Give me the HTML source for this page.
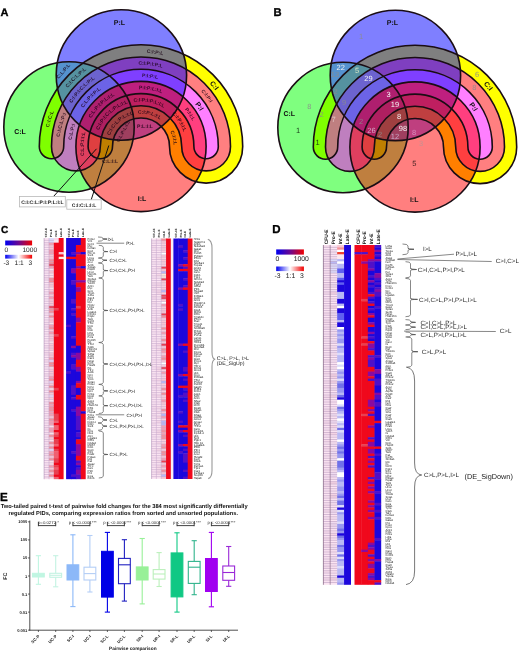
<!DOCTYPE html>
<html><head><meta charset="utf-8"><style>
html,body{margin:0;padding:0;background:#fff;}
svg{display:block;font-family:"Liberation Sans",Arial,sans-serif;text-rendering:geometricPrecision;}
</style></head><body>
<svg width="520" height="654" viewBox="0 0 520 654">
<rect width="520" height="654" fill="#fff"/>
<path d="M39.30 146.50 A101.70 101.70 0 0 1 242.70 146.50 A36.60 36.60 0 0 1 169.50 146.50 A28.50 28.50 0 0 0 112.50 146.50 A12.20 12.20 0 0 1 88.10 146.50 A52.90 52.90 0 0 1 193.90 146.50 A12.20 12.20 0 0 0 218.30 146.50 A77.30 77.30 0 0 0 63.70 146.50 A12.20 12.20 0 0 1 39.30 146.50 Z" fill="#ffff00"/>
<circle cx="69.00" cy="127.00" r="65.20" fill="rgba(0,255,0,0.5)"/>
<path d="M51.50 146.50 A89.50 89.50 0 0 1 230.50 146.50 A24.40 24.40 0 0 1 181.70 146.50 A40.70 40.70 0 0 0 100.30 146.50 A24.40 24.40 0 0 1 51.50 146.50 Z" fill="rgba(255,0,255,0.5)"/>
<circle cx="121.40" cy="75.00" r="65.20" fill="rgba(0,0,255,0.5)"/>
<circle cx="141.00" cy="146.50" r="65.10" fill="rgba(255,0,0,0.5)"/>
<mask id="m0" maskUnits="userSpaceOnUse" x="0" y="0" width="520" height="230"><circle cx="121.40" cy="75.00" r="65.2" fill="#fff"/><circle cx="141.00" cy="146.50" r="65.10" fill="#000"/></mask>
<g mask="url(#m0)" opacity="0.25"><circle cx="69.00" cy="127.00" r="65.2" fill="rgb(150,205,255)"/></g>
<path d="M39.30 146.50 A101.70 101.70 0 0 1 242.70 146.50 A36.60 36.60 0 0 1 169.50 146.50 A28.50 28.50 0 0 0 112.50 146.50 A12.20 12.20 0 0 1 88.10 146.50 A52.90 52.90 0 0 1 193.90 146.50 A12.20 12.20 0 0 0 218.30 146.50 A77.30 77.30 0 0 0 63.70 146.50 A12.20 12.20 0 0 1 39.30 146.50 Z" fill="none" stroke="#1a0d14" stroke-width="1.6"/>
<circle cx="69.00" cy="127.00" r="65.20" fill="none" stroke="#1a0d14" stroke-width="1.6"/>
<path d="M51.50 146.50 A89.50 89.50 0 0 1 230.50 146.50 A24.40 24.40 0 0 1 181.70 146.50 A40.70 40.70 0 0 0 100.30 146.50 A24.40 24.40 0 0 1 51.50 146.50 Z" fill="none" stroke="#1a0d14" stroke-width="1.6"/>
<circle cx="121.40" cy="75.00" r="65.20" fill="none" stroke="#1a0d14" stroke-width="1.6"/>
<circle cx="141.00" cy="146.50" r="65.10" fill="none" stroke="#1a0d14" stroke-width="1.6"/>
<path id="bp0_0" d="M45.40 176.50 L45.40 146.50 A95.60 95.60 0 0 1 236.60 146.50 L236.60 176.50" fill="none"/>
<text font-size="5.0" fill="rgba(25,0,20,0.82)" text-anchor="middle" dy="1.75" font-weight="bold"><textPath href="#bp0_0" startOffset="194.18">C:I:P:L</textPath></text>
<path id="bp0_1" d="M57.60 176.50 L57.60 146.50 A83.40 83.40 0 0 1 224.40 146.50 L224.40 176.50" fill="none"/>
<text font-size="5.0" fill="rgba(25,0,20,0.82)" text-anchor="middle" dy="1.75" font-weight="bold"><textPath href="#bp0_1" startOffset="170.47">C:I:P:I:P:L</textPath></text>
<path id="bp0_2" d="M69.80 176.50 L69.80 146.50 A71.20 71.20 0 0 1 212.20 146.50 L212.20 176.50" fill="none"/>
<text font-size="5.0" fill="rgba(25,0,20,0.82)" text-anchor="middle" dy="1.75" font-weight="bold"><textPath href="#bp0_2" startOffset="150.79">P:I:P:L</textPath></text>
<path id="bp0_3" d="M82.00 176.50 L82.00 146.50 A59.00 59.00 0 0 1 200.00 146.50 L200.00 176.50" fill="none"/>
<text font-size="5.0" fill="rgba(25,0,20,0.82)" text-anchor="middle" dy="1.75" font-weight="bold"><textPath href="#bp0_3" startOffset="132.56">P:I:P:L:I:L</textPath></text>
<path id="bp0_4" d="M94.20 176.50 L94.20 146.50 A46.80 46.80 0 0 1 187.80 146.50 L187.80 176.50" fill="none"/>
<text font-size="5.0" fill="rgba(25,0,20,0.82)" text-anchor="middle" dy="1.75" font-weight="bold"><textPath href="#bp0_4" startOffset="112.01">C:I:P:I:P:L:I:L</textPath></text>
<path id="bp0_5" d="M106.40 176.50 L106.40 146.50 A34.60 34.60 0 0 1 175.60 146.50 L175.60 176.50" fill="none"/>
<text font-size="5.0" fill="rgba(25,0,20,0.82)" text-anchor="middle" dy="1.75" font-weight="bold"><textPath href="#bp0_5" startOffset="93.41">C:I:P:L:I:L</textPath></text>
<path id="bp0_6" d="M45.40 176.50 L45.40 146.50 A95.60 95.60 0 0 1 236.60 146.50 L236.60 176.50" fill="none"/>
<text font-size="7" fill="#111" text-anchor="middle" dy="2.45" font-weight="bold"><textPath href="#bp0_6" startOffset="263.59">C:I</textPath></text>
<path id="bp0_7" d="M57.60 176.50 L57.60 146.50 A83.40 83.40 0 0 1 224.40 146.50 L224.40 176.50" fill="none"/>
<text font-size="5.0" fill="rgba(25,0,20,0.82)" text-anchor="middle" dy="1.75" font-weight="bold"><textPath href="#bp0_7" startOffset="236.99">C:I:P:I</textPath></text>
<path id="bp0_8" d="M69.80 176.50 L69.80 146.50 A71.20 71.20 0 0 1 212.20 146.50 L212.20 176.50" fill="none"/>
<text font-size="7" fill="#111" text-anchor="middle" dy="2.45" font-weight="bold"><textPath href="#bp0_8" startOffset="210.56">P:I</textPath></text>
<path id="bp0_9" d="M82.00 176.50 L82.00 146.50 A59.00 59.00 0 0 1 200.00 146.50 L200.00 176.50" fill="none"/>
<text font-size="5.0" fill="rgba(25,0,20,0.82)" text-anchor="middle" dy="1.75" font-weight="bold"><textPath href="#bp0_9" startOffset="180.75">P:I:I:L</textPath></text>
<path id="bp0_10" d="M94.20 176.50 L94.20 146.50 A46.80 46.80 0 0 1 187.80 146.50 L187.80 176.50" fill="none"/>
<text font-size="5.0" fill="rgba(25,0,20,0.82)" text-anchor="middle" dy="1.75" font-weight="bold"><textPath href="#bp0_10" startOffset="150.07">C:I:P:I:I:L</textPath></text>
<path id="bp0_11" d="M106.40 176.50 L106.40 146.50 A34.60 34.60 0 0 1 175.60 146.50 L175.60 176.50" fill="none"/>
<text font-size="5.0" fill="rgba(25,0,20,0.82)" text-anchor="middle" dy="1.75" font-weight="bold"><textPath href="#bp0_11" startOffset="129.64">C:I:I:L</textPath></text>
<path id="bp0_12" d="M45.40 176.50 L45.40 146.50 A95.60 95.60 0 0 1 236.60 146.50 L236.60 176.50" fill="none"/>
<text font-size="5.0" fill="rgba(25,0,20,0.82)" text-anchor="middle" dy="1.75" font-weight="bold"><textPath href="#bp0_12" startOffset="58.03">C:I:C:L</textPath></text>
<path id="bp0_13" d="M57.60 176.50 L57.60 146.50 A83.40 83.40 0 0 1 224.40 146.50 L224.40 176.50" fill="none"/>
<text font-size="5.0" fill="rgba(25,0,20,0.82)" text-anchor="middle" dy="1.75" font-weight="bold"><textPath href="#bp0_13" startOffset="52.13">C:I:C:L:P:I</textPath></text>
<path id="bp0_14" d="M69.80 176.50 L69.80 146.50 A71.20 71.20 0 0 1 212.20 146.50 L212.20 176.50" fill="none"/>
<text font-size="5.0" fill="rgba(25,0,20,0.82)" text-anchor="middle" dy="1.75" font-weight="bold"><textPath href="#bp0_14" startOffset="44.91">C:L:P:I</textPath></text>
<path id="bp0_15" d="M82.00 176.50 L82.00 146.50 A59.00 59.00 0 0 1 200.00 146.50 L200.00 176.50" fill="none"/>
<text font-size="5.0" fill="rgba(25,0,20,0.82)" text-anchor="middle" dy="1.75" font-weight="bold"><textPath href="#bp0_15" startOffset="32.68">C:L:P:I:I:L</textPath></text>
<path id="bp0_16" d="M45.40 176.50 L45.40 146.50 A95.60 95.60 0 0 1 236.60 146.50 L236.60 176.50" fill="none"/>
<text font-size="5.0" fill="rgba(25,0,20,0.82)" text-anchor="middle" dy="1.75" font-weight="bold"><textPath href="#bp0_16" startOffset="107.59">C:I:C:L:P:L</textPath></text>
<path id="bp0_17" d="M57.60 176.50 L57.60 146.50 A83.40 83.40 0 0 1 224.40 146.50 L224.40 176.50" fill="none"/>
<text font-size="5.0" fill="rgba(25,0,20,0.82)" text-anchor="middle" dy="1.75" font-weight="bold"><textPath href="#bp0_17" startOffset="93.76">C:I:P:I:C:L:P:L</textPath></text>
<path id="bp0_18" d="M69.80 176.50 L69.80 146.50 A71.20 71.20 0 0 1 212.20 146.50 L212.20 176.50" fill="none"/>
<text font-size="5.0" fill="rgba(25,0,20,0.82)" text-anchor="middle" dy="1.75" font-weight="bold"><textPath href="#bp0_18" startOffset="84.93">C:L:P:I:P:L</textPath></text>
<path id="bp0_19" d="M82.00 176.50 L82.00 146.50 A59.00 59.00 0 0 1 200.00 146.50 L200.00 176.50" fill="none"/>
<text font-size="5.0" fill="rgba(25,0,20,0.82)" text-anchor="middle" dy="1.75" font-weight="bold"><textPath href="#bp0_19" startOffset="77.37">C:L:P:I:P:L:I:L</textPath></text>
<path id="bp0_20" d="M94.20 176.50 L94.20 146.50 A46.80 46.80 0 0 1 187.80 146.50 L187.80 176.50" fill="none"/>
<text font-size="5.0" fill="rgba(25,0,20,0.82)" text-anchor="middle" dy="1.75" font-weight="bold"><textPath href="#bp0_20" startOffset="68.39">C:I:P:I:C:L:P:L:I:L</textPath></text>
<path id="bp0_21" d="M106.40 176.50 L106.40 146.50 A34.60 34.60 0 0 1 175.60 146.50 L175.60 176.50" fill="none"/>
<text font-size="5.0" fill="rgba(25,0,20,0.82)" text-anchor="middle" dy="1.75" font-weight="bold"><textPath href="#bp0_21" startOffset="58.99">C:I:C:L:P:L:I:L</textPath></text>
<text x="119.5" y="25" font-size="7" fill="#111" text-anchor="middle" font-weight="bold">P:L</text>
<text x="20" y="134" font-size="7" fill="#111" text-anchor="middle" font-weight="bold">C:L</text>
<text x="142" y="200.5" font-size="7" fill="#111" text-anchor="middle" font-weight="bold">I:L</text>
<text x="64.6" y="72.2" font-size="5.0" fill="rgba(25,0,20,0.82)" text-anchor="middle" font-weight="bold" transform="rotate(-50 64.6 72.2)">C:L:P:L</text>
<text x="145" y="128.3" font-size="5.0" fill="rgba(25,0,20,0.82)" text-anchor="middle" font-weight="bold">P:L:I:L</text>
<text x="124.5" y="132" font-size="4.6" fill="rgba(25,0,20,0.82)" text-anchor="middle" font-weight="bold" transform="rotate(-62 124.5 132)">C:L:P:L:I:L</text>
<text x="110" y="162.5" font-size="5.0" fill="rgba(25,0,20,0.82)" text-anchor="middle" font-weight="bold">C:L:I:L</text>
<line x1="53.5" y1="196.5" x2="96.5" y2="148.8" stroke="#111" stroke-width="1"/>
<line x1="91.2" y1="199.8" x2="108.8" y2="145.5" stroke="#111" stroke-width="1"/>
<rect x="19.5" y="196.5" width="45.8" height="10.4" fill="#fff" stroke="#b8b8b8" stroke-width="0.8"/>
<text x="42.4" y="203.8" font-size="5" text-anchor="middle" fill="#222" font-weight="bold">C:I:C:L:P:I:P:L:I:L</text>
<rect x="66.8" y="199.8" width="34.4" height="9.4" fill="#fff" stroke="#b8b8b8" stroke-width="0.8"/>
<text x="84" y="206.6" font-size="5" text-anchor="middle" fill="#222" font-weight="bold">C:I:C:L:I:L</text>
<path d="M313.30 147.00 A101.70 101.70 0 0 1 516.70 147.00 A36.60 36.60 0 0 1 443.50 147.00 A28.50 28.50 0 0 0 386.50 147.00 A12.20 12.20 0 0 1 362.10 147.00 A52.90 52.90 0 0 1 467.90 147.00 A12.20 12.20 0 0 0 492.30 147.00 A77.30 77.30 0 0 0 337.70 147.00 A12.20 12.20 0 0 1 313.30 147.00 Z" fill="#ffff00"/>
<circle cx="343.00" cy="127.50" r="65.20" fill="rgba(0,255,0,0.5)"/>
<path d="M325.50 147.00 A89.50 89.50 0 0 1 504.50 147.00 A24.40 24.40 0 0 1 455.70 147.00 A40.70 40.70 0 0 0 374.30 147.00 A24.40 24.40 0 0 1 325.50 147.00 Z" fill="rgba(255,0,255,0.5)"/>
<circle cx="395.40" cy="75.50" r="65.20" fill="rgba(0,0,255,0.5)"/>
<circle cx="415.00" cy="147.00" r="65.10" fill="rgba(255,0,0,0.5)"/>
<mask id="m274" maskUnits="userSpaceOnUse" x="0" y="0" width="520" height="230"><circle cx="395.40" cy="75.50" r="65.2" fill="#fff"/><circle cx="415.00" cy="147.00" r="65.10" fill="#000"/></mask>
<g mask="url(#m274)" opacity="0.25"><circle cx="343.00" cy="127.50" r="65.2" fill="rgb(150,205,255)"/></g>
<path d="M313.30 147.00 A101.70 101.70 0 0 1 516.70 147.00 A36.60 36.60 0 0 1 443.50 147.00 A28.50 28.50 0 0 0 386.50 147.00 A12.20 12.20 0 0 1 362.10 147.00 A52.90 52.90 0 0 1 467.90 147.00 A12.20 12.20 0 0 0 492.30 147.00 A77.30 77.30 0 0 0 337.70 147.00 A12.20 12.20 0 0 1 313.30 147.00 Z" fill="none" stroke="#1a0d14" stroke-width="1.6"/>
<circle cx="343.00" cy="127.50" r="65.20" fill="none" stroke="#1a0d14" stroke-width="1.6"/>
<path d="M325.50 147.00 A89.50 89.50 0 0 1 504.50 147.00 A24.40 24.40 0 0 1 455.70 147.00 A40.70 40.70 0 0 0 374.30 147.00 A24.40 24.40 0 0 1 325.50 147.00 Z" fill="none" stroke="#1a0d14" stroke-width="1.6"/>
<circle cx="395.40" cy="75.50" r="65.20" fill="none" stroke="#1a0d14" stroke-width="1.6"/>
<circle cx="415.00" cy="147.00" r="65.10" fill="none" stroke="#1a0d14" stroke-width="1.6"/>
<path id="bp274_0" d="M319.40 177.00 L319.40 147.00 A95.60 95.60 0 0 1 510.60 147.00 L510.60 177.00" fill="none"/>
<text font-size="7" fill="#111" text-anchor="middle" dy="2.45" font-weight="bold"><textPath href="#bp274_0" startOffset="263.59">C:I</textPath></text>
<path id="bp274_1" d="M343.80 177.00 L343.80 147.00 A71.20 71.20 0 0 1 486.20 147.00 L486.20 177.00" fill="none"/>
<text font-size="7" fill="#111" text-anchor="middle" dy="2.45" font-weight="bold"><textPath href="#bp274_1" startOffset="210.56">P:I</textPath></text>
<text x="392.5" y="24.7" font-size="7" fill="#111" text-anchor="middle" font-weight="bold">P:L</text>
<text x="289.3" y="115.9" font-size="7" fill="#111" text-anchor="middle" font-weight="bold">C:L</text>
<text x="414.2" y="202.3" font-size="7" fill="#111" text-anchor="middle" font-weight="bold">I:L</text>
<text x="361" y="38.5" font-size="7.5" fill="rgba(140,140,140,0.9)" text-anchor="middle">1</text>
<text x="340.7" y="69.7" font-size="7.5" fill="#f4f4f4" text-anchor="middle">22</text>
<text x="335" y="76.7" font-size="7.5" fill="rgba(140,140,140,0.9)" text-anchor="middle">13</text>
<text x="357" y="72.7" font-size="7.5" fill="#d8e8c8" text-anchor="middle">5</text>
<text x="368.5" y="80.7" font-size="7.5" fill="#f4f4f4" text-anchor="middle">29</text>
<text x="335.5" y="93.7" font-size="7.5" fill="rgba(140,140,140,0.9)" text-anchor="middle">2</text>
<text x="344" y="104.5" font-size="7.5" fill="rgba(140,140,140,0.9)" text-anchor="middle">9</text>
<text x="388.5" y="96.7" font-size="7.5" fill="#f4f4f4" text-anchor="middle">3</text>
<text x="395" y="107.0" font-size="7.5" fill="#f4f4f4" text-anchor="middle">19</text>
<text x="399" y="119.0" font-size="7.5" fill="#f4f4f4" text-anchor="middle">8</text>
<text x="403" y="130.5" font-size="7.5" fill="#f4f4f4" text-anchor="middle">98</text>
<text x="309.3" y="108.7" font-size="7.5" fill="rgba(140,140,140,0.9)" text-anchor="middle">8</text>
<text x="321.7" y="117.2" font-size="7.5" fill="rgba(140,140,140,0.9)" text-anchor="middle">2</text>
<text x="333.5" y="122.2" font-size="7.5" fill="#e0c0c0" text-anchor="middle">7</text>
<text x="298" y="133.4" font-size="7.5" fill="#1a3a1a" text-anchor="middle">1</text>
<text x="317.7" y="144.7" font-size="7.5" fill="#1a3a1a" text-anchor="middle">1</text>
<text x="361" y="124.0" font-size="7.5" fill="rgba(140,140,140,0.9)" text-anchor="middle">2</text>
<text x="371.5" y="132.5" font-size="7.5" fill="#d8a8c8" text-anchor="middle">26</text>
<text x="380" y="137.0" font-size="7.5" fill="rgba(140,140,140,0.9)" text-anchor="middle">2</text>
<text x="395" y="139.0" font-size="7.5" fill="#c8a8c8" text-anchor="middle">12</text>
<text x="414" y="134.5" font-size="7.5" fill="#d890c0" text-anchor="middle">8</text>
<text x="421" y="145.5" font-size="7.5" fill="#c89090" text-anchor="middle">3</text>
<text x="414.4" y="166.0" font-size="7.5" fill="#402020" text-anchor="middle">5</text>
<text x="477.2" y="76.7" font-size="7.5" fill="rgba(140,140,140,0.9)" text-anchor="middle">6</text>
<text x="474.3" y="90.0" font-size="7.5" fill="rgba(140,140,140,0.9)" text-anchor="middle">8</text>
<text x="0.6" y="15.6" font-size="11" font-weight="bold" stroke="#000" stroke-width="0.35">A</text>
<text x="273.5" y="15.8" font-size="11.2" font-weight="bold" stroke="#000" stroke-width="0.35">B</text>
<rect x="44.00" y="238.00" width="5.30" height="5.08" fill="#fbe4f2"/>
<rect x="44.00" y="242.68" width="5.30" height="2.74" fill="#f6dcec"/>
<rect x="44.00" y="245.03" width="5.30" height="14.45" fill="#fbe4f2"/>
<rect x="44.00" y="259.08" width="5.30" height="2.74" fill="#f6dcec"/>
<rect x="44.00" y="261.42" width="5.30" height="7.43" fill="#fbe4f2"/>
<rect x="44.00" y="268.44" width="5.30" height="2.74" fill="#f6dcec"/>
<rect x="44.00" y="270.78" width="5.30" height="5.08" fill="#fbe4f2"/>
<rect x="44.00" y="275.47" width="5.30" height="5.08" fill="#f6dcec"/>
<rect x="44.00" y="280.15" width="5.30" height="26.16" fill="#fbe4f2"/>
<rect x="44.00" y="305.91" width="5.30" height="2.74" fill="#f6dcec"/>
<rect x="44.00" y="308.25" width="5.30" height="14.45" fill="#fbe4f2"/>
<rect x="44.00" y="322.30" width="5.30" height="7.43" fill="#f6dcec"/>
<rect x="44.00" y="329.33" width="5.30" height="16.79" fill="#fbe4f2"/>
<rect x="44.00" y="345.72" width="5.30" height="2.74" fill="#f6dcec"/>
<rect x="44.00" y="348.06" width="5.30" height="2.74" fill="#fbe4f2"/>
<rect x="44.00" y="350.40" width="5.30" height="5.08" fill="#f6dcec"/>
<rect x="44.00" y="355.09" width="5.30" height="5.08" fill="#fbe4f2"/>
<rect x="44.00" y="359.77" width="5.30" height="2.74" fill="#f6dcec"/>
<rect x="44.00" y="362.11" width="5.30" height="2.74" fill="#fbe4f2"/>
<rect x="44.00" y="364.45" width="5.30" height="2.74" fill="#f6dcec"/>
<rect x="44.00" y="366.80" width="5.30" height="7.43" fill="#fbe4f2"/>
<rect x="44.00" y="373.82" width="5.30" height="2.74" fill="#f6dcec"/>
<rect x="44.00" y="376.16" width="5.30" height="7.43" fill="#fbe4f2"/>
<rect x="44.00" y="383.19" width="5.30" height="2.74" fill="#f6dcec"/>
<rect x="44.00" y="385.53" width="5.30" height="12.11" fill="#fbe4f2"/>
<rect x="44.00" y="397.24" width="5.30" height="2.74" fill="#f6dcec"/>
<rect x="44.00" y="399.58" width="5.30" height="26.16" fill="#fbe4f2"/>
<rect x="44.00" y="425.34" width="5.30" height="5.08" fill="#f6dcec"/>
<rect x="44.00" y="430.02" width="5.30" height="2.74" fill="#fbe4f2"/>
<rect x="44.00" y="432.37" width="5.30" height="2.74" fill="#f6dcec"/>
<rect x="44.00" y="434.71" width="5.30" height="5.08" fill="#fbe4f2"/>
<rect x="44.00" y="439.39" width="5.30" height="2.74" fill="#f6dcec"/>
<rect x="44.00" y="441.73" width="5.30" height="5.08" fill="#fbe4f2"/>
<rect x="44.00" y="446.42" width="5.30" height="2.74" fill="#f6dcec"/>
<rect x="44.00" y="448.76" width="5.30" height="5.08" fill="#fbe4f2"/>
<rect x="44.00" y="453.44" width="5.30" height="2.74" fill="#f6dcec"/>
<rect x="44.00" y="455.78" width="5.30" height="21.48" fill="#fbe4f2"/>
<rect x="44.00" y="476.86" width="5.30" height="2.34" fill="#f6dcec"/>
<rect x="48.90" y="238.00" width="5.30" height="5.08" fill="#dcdcfa"/>
<rect x="48.90" y="242.68" width="5.30" height="2.74" fill="#f4a0b0"/>
<rect x="48.90" y="245.03" width="5.30" height="5.08" fill="#f8c8d4"/>
<rect x="48.90" y="249.71" width="5.30" height="5.08" fill="#f4a0b0"/>
<rect x="48.90" y="254.39" width="5.30" height="5.08" fill="#f8c8d4"/>
<rect x="48.90" y="259.08" width="5.30" height="5.08" fill="#f29098"/>
<rect x="48.90" y="263.76" width="5.30" height="2.74" fill="#e84050"/>
<rect x="48.90" y="266.10" width="5.30" height="2.74" fill="#f4a0b0"/>
<rect x="48.90" y="268.44" width="5.30" height="2.74" fill="#fbe0e8"/>
<rect x="48.90" y="270.78" width="5.30" height="2.74" fill="#f8c8d4"/>
<rect x="48.90" y="273.13" width="5.30" height="5.08" fill="#fbe0e8"/>
<rect x="48.90" y="277.81" width="5.30" height="5.08" fill="#f29098"/>
<rect x="48.90" y="282.49" width="5.30" height="5.08" fill="#f8c8d4"/>
<rect x="48.90" y="287.18" width="5.30" height="2.74" fill="#fbe0e8"/>
<rect x="48.90" y="289.52" width="5.30" height="2.74" fill="#f8c8d4"/>
<rect x="48.90" y="291.86" width="5.30" height="2.74" fill="#f4a0b0"/>
<rect x="48.90" y="294.20" width="5.30" height="2.74" fill="#f8c8d4"/>
<rect x="48.90" y="296.54" width="5.30" height="2.74" fill="#f4a0b0"/>
<rect x="48.90" y="298.89" width="5.30" height="7.43" fill="#f8c8d4"/>
<rect x="48.90" y="305.91" width="5.30" height="2.74" fill="#e84050"/>
<rect x="48.90" y="308.25" width="5.30" height="5.08" fill="#f29098"/>
<rect x="48.90" y="312.94" width="5.30" height="2.74" fill="#f8c8d4"/>
<rect x="48.90" y="315.28" width="5.30" height="2.74" fill="#f29098"/>
<rect x="48.90" y="317.62" width="5.30" height="5.08" fill="#f8c8d4"/>
<rect x="48.90" y="322.30" width="5.30" height="2.74" fill="#fbe0e8"/>
<rect x="48.90" y="324.64" width="5.30" height="2.74" fill="#f4a0b0"/>
<rect x="48.90" y="326.99" width="5.30" height="2.74" fill="#f29098"/>
<rect x="48.90" y="329.33" width="5.30" height="2.74" fill="#f8c8d4"/>
<rect x="48.90" y="331.67" width="5.30" height="2.74" fill="#f4a0b0"/>
<rect x="48.90" y="334.01" width="5.30" height="7.43" fill="#f8c8d4"/>
<rect x="48.90" y="341.04" width="5.30" height="2.74" fill="#fbe0e8"/>
<rect x="48.90" y="343.38" width="5.30" height="7.43" fill="#f8c8d4"/>
<rect x="48.90" y="350.40" width="5.30" height="2.74" fill="#fbe0e8"/>
<rect x="48.90" y="352.75" width="5.30" height="5.08" fill="#f8c8d4"/>
<rect x="48.90" y="357.43" width="5.30" height="2.74" fill="#f4a0b0"/>
<rect x="48.90" y="359.77" width="5.30" height="2.74" fill="#e8d8f4"/>
<rect x="48.90" y="362.11" width="5.30" height="5.08" fill="#f29098"/>
<rect x="48.90" y="366.80" width="5.30" height="2.74" fill="#fbe0e8"/>
<rect x="48.90" y="369.14" width="5.30" height="7.43" fill="#f8c8d4"/>
<rect x="48.90" y="376.16" width="5.30" height="2.74" fill="#f4a0b0"/>
<rect x="48.90" y="378.50" width="5.30" height="2.74" fill="#f29098"/>
<rect x="48.90" y="380.85" width="5.30" height="2.74" fill="#e8d8f4"/>
<rect x="48.90" y="383.19" width="5.30" height="2.74" fill="#f8c8d4"/>
<rect x="48.90" y="385.53" width="5.30" height="2.74" fill="#f29098"/>
<rect x="48.90" y="387.87" width="5.30" height="2.74" fill="#fbe0e8"/>
<rect x="48.90" y="390.21" width="5.30" height="2.74" fill="#f29098"/>
<rect x="48.90" y="392.56" width="5.30" height="2.74" fill="#f8c8d4"/>
<rect x="48.90" y="394.90" width="5.30" height="2.74" fill="#e8d8f4"/>
<rect x="48.90" y="397.24" width="5.30" height="2.74" fill="#f8c8d4"/>
<rect x="48.90" y="399.58" width="5.30" height="2.74" fill="#fbe0e8"/>
<rect x="48.90" y="401.92" width="5.30" height="2.74" fill="#f29098"/>
<rect x="48.90" y="404.26" width="5.30" height="2.74" fill="#f4a0b0"/>
<rect x="48.90" y="406.61" width="5.30" height="5.08" fill="#f29098"/>
<rect x="48.90" y="411.29" width="5.30" height="5.08" fill="#f4a0b0"/>
<rect x="48.90" y="415.97" width="5.30" height="2.74" fill="#f8c8d4"/>
<rect x="48.90" y="418.31" width="5.30" height="2.74" fill="#f29098"/>
<rect x="48.90" y="420.66" width="5.30" height="5.08" fill="#f4a0b0"/>
<rect x="48.90" y="425.34" width="5.30" height="2.74" fill="#fbe0e8"/>
<rect x="48.90" y="427.68" width="5.30" height="5.08" fill="#f4a0b0"/>
<rect x="48.90" y="432.37" width="5.30" height="2.74" fill="#fbe0e8"/>
<rect x="48.90" y="434.71" width="5.30" height="2.74" fill="#f29098"/>
<rect x="48.90" y="437.05" width="5.30" height="2.74" fill="#f8c8d4"/>
<rect x="48.90" y="439.39" width="5.30" height="2.74" fill="#fbe0e8"/>
<rect x="48.90" y="441.73" width="5.30" height="2.74" fill="#f29098"/>
<rect x="48.90" y="444.07" width="5.30" height="2.74" fill="#f8c8d4"/>
<rect x="48.90" y="446.42" width="5.30" height="2.74" fill="#f29098"/>
<rect x="48.90" y="448.76" width="5.30" height="2.74" fill="#e8d8f4"/>
<rect x="48.90" y="451.10" width="5.30" height="2.74" fill="#f4a0b0"/>
<rect x="48.90" y="453.44" width="5.30" height="2.74" fill="#f29098"/>
<rect x="48.90" y="455.78" width="5.30" height="2.74" fill="#f8c8d4"/>
<rect x="48.90" y="458.12" width="5.30" height="2.74" fill="#f29098"/>
<rect x="48.90" y="460.47" width="5.30" height="5.08" fill="#fbe0e8"/>
<rect x="48.90" y="465.15" width="5.30" height="2.74" fill="#f4a0b0"/>
<rect x="48.90" y="467.49" width="5.30" height="2.74" fill="#f8c8d4"/>
<rect x="48.90" y="469.83" width="5.30" height="2.74" fill="#f29098"/>
<rect x="48.90" y="472.17" width="5.30" height="2.74" fill="#f8c8d4"/>
<rect x="48.90" y="474.52" width="5.30" height="2.74" fill="#f29098"/>
<rect x="48.90" y="476.86" width="5.30" height="2.34" fill="#fbe0e8"/>
<rect x="53.80" y="238.00" width="5.30" height="2.74" fill="#f8d8e8"/>
<rect x="53.80" y="240.34" width="5.30" height="2.74" fill="#fbe8f0"/>
<rect x="53.80" y="242.68" width="5.30" height="65.97" fill="#f0081c"/>
<rect x="53.80" y="308.25" width="5.30" height="2.74" fill="#e84050"/>
<rect x="53.80" y="310.59" width="5.30" height="23.82" fill="#f0081c"/>
<rect x="53.80" y="334.01" width="5.30" height="2.74" fill="#e84050"/>
<rect x="53.80" y="336.35" width="5.30" height="51.92" fill="#f0081c"/>
<rect x="53.80" y="387.87" width="5.30" height="2.74" fill="#e84050"/>
<rect x="53.80" y="390.21" width="5.30" height="23.82" fill="#f0081c"/>
<rect x="53.80" y="413.63" width="5.30" height="7.43" fill="#e84050"/>
<rect x="53.80" y="420.66" width="5.30" height="2.74" fill="#f06070"/>
<rect x="53.80" y="423.00" width="5.30" height="2.74" fill="#f0081c"/>
<rect x="53.80" y="425.34" width="5.30" height="5.08" fill="#f06070"/>
<rect x="53.80" y="430.02" width="5.30" height="2.74" fill="#f0081c"/>
<rect x="53.80" y="432.37" width="5.30" height="2.74" fill="#f06070"/>
<rect x="53.80" y="434.71" width="5.30" height="2.74" fill="#e84050"/>
<rect x="53.80" y="437.05" width="5.30" height="2.74" fill="#f0081c"/>
<rect x="53.80" y="439.39" width="5.30" height="5.08" fill="#e84050"/>
<rect x="53.80" y="444.07" width="5.30" height="2.74" fill="#f06070"/>
<rect x="53.80" y="446.42" width="5.30" height="2.74" fill="#f0081c"/>
<rect x="53.80" y="448.76" width="5.30" height="2.74" fill="#e84050"/>
<rect x="53.80" y="451.10" width="5.30" height="7.43" fill="#f06070"/>
<rect x="53.80" y="458.12" width="5.30" height="5.08" fill="#e84050"/>
<rect x="53.80" y="462.81" width="5.30" height="2.74" fill="#f0081c"/>
<rect x="53.80" y="465.15" width="5.30" height="2.74" fill="#e84050"/>
<rect x="53.80" y="467.49" width="5.30" height="2.74" fill="#f06070"/>
<rect x="53.80" y="469.83" width="5.30" height="5.08" fill="#e84050"/>
<rect x="53.80" y="474.52" width="5.30" height="2.74" fill="#f0081c"/>
<rect x="53.80" y="476.86" width="5.30" height="2.34" fill="#f06070"/>
<rect x="58.70" y="238.00" width="4.90" height="14.45" fill="#f0081c"/>
<rect x="58.70" y="252.05" width="4.90" height="2.74" fill="#f8c8d4"/>
<rect x="58.70" y="254.39" width="4.90" height="2.74" fill="#f0081c"/>
<rect x="58.70" y="256.73" width="4.90" height="2.74" fill="#fff0e0"/>
<rect x="58.70" y="259.08" width="4.90" height="220.12" fill="#f0081c"/>
<line x1="44.00" y1="240.34" x2="48.90" y2="240.34" stroke="#c0a4c8" stroke-width="0.55"/>
<line x1="44.00" y1="242.68" x2="48.90" y2="242.68" stroke="#c0a4c8" stroke-width="0.55"/>
<line x1="44.00" y1="245.03" x2="48.90" y2="245.03" stroke="#c0a4c8" stroke-width="0.55"/>
<line x1="44.00" y1="247.37" x2="48.90" y2="247.37" stroke="#c0a4c8" stroke-width="0.55"/>
<line x1="44.00" y1="249.71" x2="48.90" y2="249.71" stroke="#c0a4c8" stroke-width="0.55"/>
<line x1="44.00" y1="252.05" x2="48.90" y2="252.05" stroke="#c0a4c8" stroke-width="0.55"/>
<line x1="44.00" y1="254.39" x2="48.90" y2="254.39" stroke="#c0a4c8" stroke-width="0.55"/>
<line x1="44.00" y1="256.73" x2="48.90" y2="256.73" stroke="#c0a4c8" stroke-width="0.55"/>
<line x1="44.00" y1="259.08" x2="48.90" y2="259.08" stroke="#c0a4c8" stroke-width="0.55"/>
<line x1="44.00" y1="261.42" x2="48.90" y2="261.42" stroke="#c0a4c8" stroke-width="0.55"/>
<line x1="44.00" y1="263.76" x2="48.90" y2="263.76" stroke="#c0a4c8" stroke-width="0.55"/>
<line x1="44.00" y1="266.10" x2="48.90" y2="266.10" stroke="#c0a4c8" stroke-width="0.55"/>
<line x1="44.00" y1="268.44" x2="48.90" y2="268.44" stroke="#c0a4c8" stroke-width="0.55"/>
<line x1="44.00" y1="270.78" x2="48.90" y2="270.78" stroke="#c0a4c8" stroke-width="0.55"/>
<line x1="44.00" y1="273.13" x2="48.90" y2="273.13" stroke="#c0a4c8" stroke-width="0.55"/>
<line x1="44.00" y1="275.47" x2="48.90" y2="275.47" stroke="#c0a4c8" stroke-width="0.55"/>
<line x1="44.00" y1="277.81" x2="48.90" y2="277.81" stroke="#c0a4c8" stroke-width="0.55"/>
<line x1="44.00" y1="280.15" x2="48.90" y2="280.15" stroke="#c0a4c8" stroke-width="0.55"/>
<line x1="44.00" y1="282.49" x2="48.90" y2="282.49" stroke="#c0a4c8" stroke-width="0.55"/>
<line x1="44.00" y1="284.83" x2="48.90" y2="284.83" stroke="#c0a4c8" stroke-width="0.55"/>
<line x1="44.00" y1="287.18" x2="48.90" y2="287.18" stroke="#c0a4c8" stroke-width="0.55"/>
<line x1="44.00" y1="289.52" x2="48.90" y2="289.52" stroke="#c0a4c8" stroke-width="0.55"/>
<line x1="44.00" y1="291.86" x2="48.90" y2="291.86" stroke="#c0a4c8" stroke-width="0.55"/>
<line x1="44.00" y1="294.20" x2="48.90" y2="294.20" stroke="#c0a4c8" stroke-width="0.55"/>
<line x1="44.00" y1="296.54" x2="48.90" y2="296.54" stroke="#c0a4c8" stroke-width="0.55"/>
<line x1="44.00" y1="298.89" x2="48.90" y2="298.89" stroke="#c0a4c8" stroke-width="0.55"/>
<line x1="44.00" y1="301.23" x2="48.90" y2="301.23" stroke="#c0a4c8" stroke-width="0.55"/>
<line x1="44.00" y1="303.57" x2="48.90" y2="303.57" stroke="#c0a4c8" stroke-width="0.55"/>
<line x1="44.00" y1="305.91" x2="48.90" y2="305.91" stroke="#c0a4c8" stroke-width="0.55"/>
<line x1="44.00" y1="308.25" x2="48.90" y2="308.25" stroke="#c0a4c8" stroke-width="0.55"/>
<line x1="44.00" y1="310.59" x2="48.90" y2="310.59" stroke="#c0a4c8" stroke-width="0.55"/>
<line x1="44.00" y1="312.94" x2="48.90" y2="312.94" stroke="#c0a4c8" stroke-width="0.55"/>
<line x1="44.00" y1="315.28" x2="48.90" y2="315.28" stroke="#c0a4c8" stroke-width="0.55"/>
<line x1="44.00" y1="317.62" x2="48.90" y2="317.62" stroke="#c0a4c8" stroke-width="0.55"/>
<line x1="44.00" y1="319.96" x2="48.90" y2="319.96" stroke="#c0a4c8" stroke-width="0.55"/>
<line x1="44.00" y1="322.30" x2="48.90" y2="322.30" stroke="#c0a4c8" stroke-width="0.55"/>
<line x1="44.00" y1="324.64" x2="48.90" y2="324.64" stroke="#c0a4c8" stroke-width="0.55"/>
<line x1="44.00" y1="326.99" x2="48.90" y2="326.99" stroke="#c0a4c8" stroke-width="0.55"/>
<line x1="44.00" y1="329.33" x2="48.90" y2="329.33" stroke="#c0a4c8" stroke-width="0.55"/>
<line x1="44.00" y1="331.67" x2="48.90" y2="331.67" stroke="#c0a4c8" stroke-width="0.55"/>
<line x1="44.00" y1="334.01" x2="48.90" y2="334.01" stroke="#c0a4c8" stroke-width="0.55"/>
<line x1="44.00" y1="336.35" x2="48.90" y2="336.35" stroke="#c0a4c8" stroke-width="0.55"/>
<line x1="44.00" y1="338.70" x2="48.90" y2="338.70" stroke="#c0a4c8" stroke-width="0.55"/>
<line x1="44.00" y1="341.04" x2="48.90" y2="341.04" stroke="#c0a4c8" stroke-width="0.55"/>
<line x1="44.00" y1="343.38" x2="48.90" y2="343.38" stroke="#c0a4c8" stroke-width="0.55"/>
<line x1="44.00" y1="345.72" x2="48.90" y2="345.72" stroke="#c0a4c8" stroke-width="0.55"/>
<line x1="44.00" y1="348.06" x2="48.90" y2="348.06" stroke="#c0a4c8" stroke-width="0.55"/>
<line x1="44.00" y1="350.40" x2="48.90" y2="350.40" stroke="#c0a4c8" stroke-width="0.55"/>
<line x1="44.00" y1="352.75" x2="48.90" y2="352.75" stroke="#c0a4c8" stroke-width="0.55"/>
<line x1="44.00" y1="355.09" x2="48.90" y2="355.09" stroke="#c0a4c8" stroke-width="0.55"/>
<line x1="44.00" y1="357.43" x2="48.90" y2="357.43" stroke="#c0a4c8" stroke-width="0.55"/>
<line x1="44.00" y1="359.77" x2="48.90" y2="359.77" stroke="#c0a4c8" stroke-width="0.55"/>
<line x1="44.00" y1="362.11" x2="48.90" y2="362.11" stroke="#c0a4c8" stroke-width="0.55"/>
<line x1="44.00" y1="364.45" x2="48.90" y2="364.45" stroke="#c0a4c8" stroke-width="0.55"/>
<line x1="44.00" y1="366.80" x2="48.90" y2="366.80" stroke="#c0a4c8" stroke-width="0.55"/>
<line x1="44.00" y1="369.14" x2="48.90" y2="369.14" stroke="#c0a4c8" stroke-width="0.55"/>
<line x1="44.00" y1="371.48" x2="48.90" y2="371.48" stroke="#c0a4c8" stroke-width="0.55"/>
<line x1="44.00" y1="373.82" x2="48.90" y2="373.82" stroke="#c0a4c8" stroke-width="0.55"/>
<line x1="44.00" y1="376.16" x2="48.90" y2="376.16" stroke="#c0a4c8" stroke-width="0.55"/>
<line x1="44.00" y1="378.50" x2="48.90" y2="378.50" stroke="#c0a4c8" stroke-width="0.55"/>
<line x1="44.00" y1="380.85" x2="48.90" y2="380.85" stroke="#c0a4c8" stroke-width="0.55"/>
<line x1="44.00" y1="383.19" x2="48.90" y2="383.19" stroke="#c0a4c8" stroke-width="0.55"/>
<line x1="44.00" y1="385.53" x2="48.90" y2="385.53" stroke="#c0a4c8" stroke-width="0.55"/>
<line x1="44.00" y1="387.87" x2="48.90" y2="387.87" stroke="#c0a4c8" stroke-width="0.55"/>
<line x1="44.00" y1="390.21" x2="48.90" y2="390.21" stroke="#c0a4c8" stroke-width="0.55"/>
<line x1="44.00" y1="392.56" x2="48.90" y2="392.56" stroke="#c0a4c8" stroke-width="0.55"/>
<line x1="44.00" y1="394.90" x2="48.90" y2="394.90" stroke="#c0a4c8" stroke-width="0.55"/>
<line x1="44.00" y1="397.24" x2="48.90" y2="397.24" stroke="#c0a4c8" stroke-width="0.55"/>
<line x1="44.00" y1="399.58" x2="48.90" y2="399.58" stroke="#c0a4c8" stroke-width="0.55"/>
<line x1="44.00" y1="401.92" x2="48.90" y2="401.92" stroke="#c0a4c8" stroke-width="0.55"/>
<line x1="44.00" y1="404.26" x2="48.90" y2="404.26" stroke="#c0a4c8" stroke-width="0.55"/>
<line x1="44.00" y1="406.61" x2="48.90" y2="406.61" stroke="#c0a4c8" stroke-width="0.55"/>
<line x1="44.00" y1="408.95" x2="48.90" y2="408.95" stroke="#c0a4c8" stroke-width="0.55"/>
<line x1="44.00" y1="411.29" x2="48.90" y2="411.29" stroke="#c0a4c8" stroke-width="0.55"/>
<line x1="44.00" y1="413.63" x2="48.90" y2="413.63" stroke="#c0a4c8" stroke-width="0.55"/>
<line x1="44.00" y1="415.97" x2="48.90" y2="415.97" stroke="#c0a4c8" stroke-width="0.55"/>
<line x1="44.00" y1="418.31" x2="48.90" y2="418.31" stroke="#c0a4c8" stroke-width="0.55"/>
<line x1="44.00" y1="420.66" x2="48.90" y2="420.66" stroke="#c0a4c8" stroke-width="0.55"/>
<line x1="44.00" y1="423.00" x2="48.90" y2="423.00" stroke="#c0a4c8" stroke-width="0.55"/>
<line x1="44.00" y1="425.34" x2="48.90" y2="425.34" stroke="#c0a4c8" stroke-width="0.55"/>
<line x1="44.00" y1="427.68" x2="48.90" y2="427.68" stroke="#c0a4c8" stroke-width="0.55"/>
<line x1="44.00" y1="430.02" x2="48.90" y2="430.02" stroke="#c0a4c8" stroke-width="0.55"/>
<line x1="44.00" y1="432.37" x2="48.90" y2="432.37" stroke="#c0a4c8" stroke-width="0.55"/>
<line x1="44.00" y1="434.71" x2="48.90" y2="434.71" stroke="#c0a4c8" stroke-width="0.55"/>
<line x1="44.00" y1="437.05" x2="48.90" y2="437.05" stroke="#c0a4c8" stroke-width="0.55"/>
<line x1="44.00" y1="439.39" x2="48.90" y2="439.39" stroke="#c0a4c8" stroke-width="0.55"/>
<line x1="44.00" y1="441.73" x2="48.90" y2="441.73" stroke="#c0a4c8" stroke-width="0.55"/>
<line x1="44.00" y1="444.07" x2="48.90" y2="444.07" stroke="#c0a4c8" stroke-width="0.55"/>
<line x1="44.00" y1="446.42" x2="48.90" y2="446.42" stroke="#c0a4c8" stroke-width="0.55"/>
<line x1="44.00" y1="448.76" x2="48.90" y2="448.76" stroke="#c0a4c8" stroke-width="0.55"/>
<line x1="44.00" y1="451.10" x2="48.90" y2="451.10" stroke="#c0a4c8" stroke-width="0.55"/>
<line x1="44.00" y1="453.44" x2="48.90" y2="453.44" stroke="#c0a4c8" stroke-width="0.55"/>
<line x1="44.00" y1="455.78" x2="48.90" y2="455.78" stroke="#c0a4c8" stroke-width="0.55"/>
<line x1="44.00" y1="458.12" x2="48.90" y2="458.12" stroke="#c0a4c8" stroke-width="0.55"/>
<line x1="44.00" y1="460.47" x2="48.90" y2="460.47" stroke="#c0a4c8" stroke-width="0.55"/>
<line x1="44.00" y1="462.81" x2="48.90" y2="462.81" stroke="#c0a4c8" stroke-width="0.55"/>
<line x1="44.00" y1="465.15" x2="48.90" y2="465.15" stroke="#c0a4c8" stroke-width="0.55"/>
<line x1="44.00" y1="467.49" x2="48.90" y2="467.49" stroke="#c0a4c8" stroke-width="0.55"/>
<line x1="44.00" y1="469.83" x2="48.90" y2="469.83" stroke="#c0a4c8" stroke-width="0.55"/>
<line x1="44.00" y1="472.17" x2="48.90" y2="472.17" stroke="#c0a4c8" stroke-width="0.55"/>
<line x1="44.00" y1="474.52" x2="48.90" y2="474.52" stroke="#c0a4c8" stroke-width="0.55"/>
<line x1="44.00" y1="476.86" x2="48.90" y2="476.86" stroke="#c0a4c8" stroke-width="0.55"/>
<line x1="48.90" y1="240.34" x2="53.80" y2="240.34" stroke="#c0a4c8" stroke-width="0.55"/>
<line x1="48.90" y1="242.68" x2="53.80" y2="242.68" stroke="#c0a4c8" stroke-width="0.55"/>
<line x1="48.90" y1="245.03" x2="53.80" y2="245.03" stroke="#c0a4c8" stroke-width="0.55"/>
<line x1="48.90" y1="247.37" x2="53.80" y2="247.37" stroke="#c0a4c8" stroke-width="0.55"/>
<line x1="48.90" y1="249.71" x2="53.80" y2="249.71" stroke="#c0a4c8" stroke-width="0.55"/>
<line x1="48.90" y1="252.05" x2="53.80" y2="252.05" stroke="#c0a4c8" stroke-width="0.55"/>
<line x1="48.90" y1="254.39" x2="53.80" y2="254.39" stroke="#c0a4c8" stroke-width="0.55"/>
<line x1="48.90" y1="256.73" x2="53.80" y2="256.73" stroke="#c0a4c8" stroke-width="0.55"/>
<line x1="48.90" y1="259.08" x2="53.80" y2="259.08" stroke="#c0a4c8" stroke-width="0.55"/>
<line x1="48.90" y1="261.42" x2="53.80" y2="261.42" stroke="#c0a4c8" stroke-width="0.55"/>
<line x1="48.90" y1="263.76" x2="53.80" y2="263.76" stroke="#c0a4c8" stroke-width="0.55"/>
<line x1="48.90" y1="266.10" x2="53.80" y2="266.10" stroke="#c0a4c8" stroke-width="0.55"/>
<line x1="48.90" y1="268.44" x2="53.80" y2="268.44" stroke="#c0a4c8" stroke-width="0.55"/>
<line x1="48.90" y1="270.78" x2="53.80" y2="270.78" stroke="#c0a4c8" stroke-width="0.55"/>
<line x1="48.90" y1="273.13" x2="53.80" y2="273.13" stroke="#c0a4c8" stroke-width="0.55"/>
<line x1="48.90" y1="275.47" x2="53.80" y2="275.47" stroke="#c0a4c8" stroke-width="0.55"/>
<line x1="48.90" y1="277.81" x2="53.80" y2="277.81" stroke="#c0a4c8" stroke-width="0.55"/>
<line x1="48.90" y1="280.15" x2="53.80" y2="280.15" stroke="#c0a4c8" stroke-width="0.55"/>
<line x1="48.90" y1="282.49" x2="53.80" y2="282.49" stroke="#c0a4c8" stroke-width="0.55"/>
<line x1="48.90" y1="284.83" x2="53.80" y2="284.83" stroke="#c0a4c8" stroke-width="0.55"/>
<line x1="48.90" y1="287.18" x2="53.80" y2="287.18" stroke="#c0a4c8" stroke-width="0.55"/>
<line x1="48.90" y1="289.52" x2="53.80" y2="289.52" stroke="#c0a4c8" stroke-width="0.55"/>
<line x1="48.90" y1="291.86" x2="53.80" y2="291.86" stroke="#c0a4c8" stroke-width="0.55"/>
<line x1="48.90" y1="294.20" x2="53.80" y2="294.20" stroke="#c0a4c8" stroke-width="0.55"/>
<line x1="48.90" y1="296.54" x2="53.80" y2="296.54" stroke="#c0a4c8" stroke-width="0.55"/>
<line x1="48.90" y1="298.89" x2="53.80" y2="298.89" stroke="#c0a4c8" stroke-width="0.55"/>
<line x1="48.90" y1="301.23" x2="53.80" y2="301.23" stroke="#c0a4c8" stroke-width="0.55"/>
<line x1="48.90" y1="303.57" x2="53.80" y2="303.57" stroke="#c0a4c8" stroke-width="0.55"/>
<line x1="48.90" y1="305.91" x2="53.80" y2="305.91" stroke="#c0a4c8" stroke-width="0.55"/>
<line x1="48.90" y1="308.25" x2="53.80" y2="308.25" stroke="#c0a4c8" stroke-width="0.55"/>
<line x1="48.90" y1="310.59" x2="53.80" y2="310.59" stroke="#c0a4c8" stroke-width="0.55"/>
<line x1="48.90" y1="312.94" x2="53.80" y2="312.94" stroke="#c0a4c8" stroke-width="0.55"/>
<line x1="48.90" y1="315.28" x2="53.80" y2="315.28" stroke="#c0a4c8" stroke-width="0.55"/>
<line x1="48.90" y1="317.62" x2="53.80" y2="317.62" stroke="#c0a4c8" stroke-width="0.55"/>
<line x1="48.90" y1="319.96" x2="53.80" y2="319.96" stroke="#c0a4c8" stroke-width="0.55"/>
<line x1="48.90" y1="322.30" x2="53.80" y2="322.30" stroke="#c0a4c8" stroke-width="0.55"/>
<line x1="48.90" y1="324.64" x2="53.80" y2="324.64" stroke="#c0a4c8" stroke-width="0.55"/>
<line x1="48.90" y1="326.99" x2="53.80" y2="326.99" stroke="#c0a4c8" stroke-width="0.55"/>
<line x1="48.90" y1="329.33" x2="53.80" y2="329.33" stroke="#c0a4c8" stroke-width="0.55"/>
<line x1="48.90" y1="331.67" x2="53.80" y2="331.67" stroke="#c0a4c8" stroke-width="0.55"/>
<line x1="48.90" y1="334.01" x2="53.80" y2="334.01" stroke="#c0a4c8" stroke-width="0.55"/>
<line x1="48.90" y1="336.35" x2="53.80" y2="336.35" stroke="#c0a4c8" stroke-width="0.55"/>
<line x1="48.90" y1="338.70" x2="53.80" y2="338.70" stroke="#c0a4c8" stroke-width="0.55"/>
<line x1="48.90" y1="341.04" x2="53.80" y2="341.04" stroke="#c0a4c8" stroke-width="0.55"/>
<line x1="48.90" y1="343.38" x2="53.80" y2="343.38" stroke="#c0a4c8" stroke-width="0.55"/>
<line x1="48.90" y1="345.72" x2="53.80" y2="345.72" stroke="#c0a4c8" stroke-width="0.55"/>
<line x1="48.90" y1="348.06" x2="53.80" y2="348.06" stroke="#c0a4c8" stroke-width="0.55"/>
<line x1="48.90" y1="350.40" x2="53.80" y2="350.40" stroke="#c0a4c8" stroke-width="0.55"/>
<line x1="48.90" y1="352.75" x2="53.80" y2="352.75" stroke="#c0a4c8" stroke-width="0.55"/>
<line x1="48.90" y1="355.09" x2="53.80" y2="355.09" stroke="#c0a4c8" stroke-width="0.55"/>
<line x1="48.90" y1="357.43" x2="53.80" y2="357.43" stroke="#c0a4c8" stroke-width="0.55"/>
<line x1="48.90" y1="359.77" x2="53.80" y2="359.77" stroke="#c0a4c8" stroke-width="0.55"/>
<line x1="48.90" y1="362.11" x2="53.80" y2="362.11" stroke="#c0a4c8" stroke-width="0.55"/>
<line x1="48.90" y1="364.45" x2="53.80" y2="364.45" stroke="#c0a4c8" stroke-width="0.55"/>
<line x1="48.90" y1="366.80" x2="53.80" y2="366.80" stroke="#c0a4c8" stroke-width="0.55"/>
<line x1="48.90" y1="369.14" x2="53.80" y2="369.14" stroke="#c0a4c8" stroke-width="0.55"/>
<line x1="48.90" y1="371.48" x2="53.80" y2="371.48" stroke="#c0a4c8" stroke-width="0.55"/>
<line x1="48.90" y1="373.82" x2="53.80" y2="373.82" stroke="#c0a4c8" stroke-width="0.55"/>
<line x1="48.90" y1="376.16" x2="53.80" y2="376.16" stroke="#c0a4c8" stroke-width="0.55"/>
<line x1="48.90" y1="378.50" x2="53.80" y2="378.50" stroke="#c0a4c8" stroke-width="0.55"/>
<line x1="48.90" y1="380.85" x2="53.80" y2="380.85" stroke="#c0a4c8" stroke-width="0.55"/>
<line x1="48.90" y1="383.19" x2="53.80" y2="383.19" stroke="#c0a4c8" stroke-width="0.55"/>
<line x1="48.90" y1="385.53" x2="53.80" y2="385.53" stroke="#c0a4c8" stroke-width="0.55"/>
<line x1="48.90" y1="387.87" x2="53.80" y2="387.87" stroke="#c0a4c8" stroke-width="0.55"/>
<line x1="48.90" y1="390.21" x2="53.80" y2="390.21" stroke="#c0a4c8" stroke-width="0.55"/>
<line x1="48.90" y1="392.56" x2="53.80" y2="392.56" stroke="#c0a4c8" stroke-width="0.55"/>
<line x1="48.90" y1="394.90" x2="53.80" y2="394.90" stroke="#c0a4c8" stroke-width="0.55"/>
<line x1="48.90" y1="397.24" x2="53.80" y2="397.24" stroke="#c0a4c8" stroke-width="0.55"/>
<line x1="48.90" y1="399.58" x2="53.80" y2="399.58" stroke="#c0a4c8" stroke-width="0.55"/>
<line x1="48.90" y1="401.92" x2="53.80" y2="401.92" stroke="#c0a4c8" stroke-width="0.55"/>
<line x1="48.90" y1="404.26" x2="53.80" y2="404.26" stroke="#c0a4c8" stroke-width="0.55"/>
<line x1="48.90" y1="406.61" x2="53.80" y2="406.61" stroke="#c0a4c8" stroke-width="0.55"/>
<line x1="48.90" y1="408.95" x2="53.80" y2="408.95" stroke="#c0a4c8" stroke-width="0.55"/>
<line x1="48.90" y1="411.29" x2="53.80" y2="411.29" stroke="#c0a4c8" stroke-width="0.55"/>
<line x1="48.90" y1="413.63" x2="53.80" y2="413.63" stroke="#c0a4c8" stroke-width="0.55"/>
<line x1="48.90" y1="415.97" x2="53.80" y2="415.97" stroke="#c0a4c8" stroke-width="0.55"/>
<line x1="48.90" y1="418.31" x2="53.80" y2="418.31" stroke="#c0a4c8" stroke-width="0.55"/>
<line x1="48.90" y1="420.66" x2="53.80" y2="420.66" stroke="#c0a4c8" stroke-width="0.55"/>
<line x1="48.90" y1="423.00" x2="53.80" y2="423.00" stroke="#c0a4c8" stroke-width="0.55"/>
<line x1="48.90" y1="425.34" x2="53.80" y2="425.34" stroke="#c0a4c8" stroke-width="0.55"/>
<line x1="48.90" y1="427.68" x2="53.80" y2="427.68" stroke="#c0a4c8" stroke-width="0.55"/>
<line x1="48.90" y1="430.02" x2="53.80" y2="430.02" stroke="#c0a4c8" stroke-width="0.55"/>
<line x1="48.90" y1="432.37" x2="53.80" y2="432.37" stroke="#c0a4c8" stroke-width="0.55"/>
<line x1="48.90" y1="434.71" x2="53.80" y2="434.71" stroke="#c0a4c8" stroke-width="0.55"/>
<line x1="48.90" y1="437.05" x2="53.80" y2="437.05" stroke="#c0a4c8" stroke-width="0.55"/>
<line x1="48.90" y1="439.39" x2="53.80" y2="439.39" stroke="#c0a4c8" stroke-width="0.55"/>
<line x1="48.90" y1="441.73" x2="53.80" y2="441.73" stroke="#c0a4c8" stroke-width="0.55"/>
<line x1="48.90" y1="444.07" x2="53.80" y2="444.07" stroke="#c0a4c8" stroke-width="0.55"/>
<line x1="48.90" y1="446.42" x2="53.80" y2="446.42" stroke="#c0a4c8" stroke-width="0.55"/>
<line x1="48.90" y1="448.76" x2="53.80" y2="448.76" stroke="#c0a4c8" stroke-width="0.55"/>
<line x1="48.90" y1="451.10" x2="53.80" y2="451.10" stroke="#c0a4c8" stroke-width="0.55"/>
<line x1="48.90" y1="453.44" x2="53.80" y2="453.44" stroke="#c0a4c8" stroke-width="0.55"/>
<line x1="48.90" y1="455.78" x2="53.80" y2="455.78" stroke="#c0a4c8" stroke-width="0.55"/>
<line x1="48.90" y1="458.12" x2="53.80" y2="458.12" stroke="#c0a4c8" stroke-width="0.55"/>
<line x1="48.90" y1="460.47" x2="53.80" y2="460.47" stroke="#c0a4c8" stroke-width="0.55"/>
<line x1="48.90" y1="462.81" x2="53.80" y2="462.81" stroke="#c0a4c8" stroke-width="0.55"/>
<line x1="48.90" y1="465.15" x2="53.80" y2="465.15" stroke="#c0a4c8" stroke-width="0.55"/>
<line x1="48.90" y1="467.49" x2="53.80" y2="467.49" stroke="#c0a4c8" stroke-width="0.55"/>
<line x1="48.90" y1="469.83" x2="53.80" y2="469.83" stroke="#c0a4c8" stroke-width="0.55"/>
<line x1="48.90" y1="472.17" x2="53.80" y2="472.17" stroke="#c0a4c8" stroke-width="0.55"/>
<line x1="48.90" y1="474.52" x2="53.80" y2="474.52" stroke="#c0a4c8" stroke-width="0.55"/>
<line x1="48.90" y1="476.86" x2="53.80" y2="476.86" stroke="#c0a4c8" stroke-width="0.55"/>
<line x1="44.1" y1="238" x2="44.1" y2="479.2" stroke="#b090b8" stroke-width="0.6"/><line x1="49.0" y1="238" x2="49.0" y2="479.2" stroke="#c0a0c8" stroke-width="0.5"/>
<rect x="66.10" y="238.00" width="5.30" height="19.13" fill="#1c06dc"/>
<rect x="66.10" y="256.73" width="5.30" height="2.74" fill="#f0081c"/>
<rect x="66.10" y="259.08" width="5.30" height="65.97" fill="#1c06dc"/>
<rect x="66.10" y="324.64" width="5.30" height="2.74" fill="#5010c8"/>
<rect x="66.10" y="326.99" width="5.30" height="44.89" fill="#1c06dc"/>
<rect x="66.10" y="371.48" width="5.30" height="2.74" fill="#5010c8"/>
<rect x="66.10" y="373.82" width="5.30" height="105.38" fill="#1c06dc"/>
<rect x="71.00" y="238.00" width="5.30" height="14.45" fill="#1c06dc"/>
<rect x="71.00" y="252.05" width="5.30" height="2.74" fill="#5010c8"/>
<rect x="71.00" y="254.39" width="5.30" height="2.74" fill="#1c06dc"/>
<rect x="71.00" y="256.73" width="5.30" height="2.74" fill="#f0081c"/>
<rect x="71.00" y="259.08" width="5.30" height="9.77" fill="#1c06dc"/>
<rect x="71.00" y="268.44" width="5.30" height="5.08" fill="#8a0aa0"/>
<rect x="71.00" y="273.13" width="5.30" height="7.43" fill="#1c06dc"/>
<rect x="71.00" y="280.15" width="5.30" height="5.08" fill="#5010c8"/>
<rect x="71.00" y="284.83" width="5.30" height="14.45" fill="#1c06dc"/>
<rect x="71.00" y="298.89" width="5.30" height="5.08" fill="#5010c8"/>
<rect x="71.00" y="303.57" width="5.30" height="5.08" fill="#1c06dc"/>
<rect x="71.00" y="308.25" width="5.30" height="2.74" fill="#5010c8"/>
<rect x="71.00" y="310.59" width="5.30" height="2.74" fill="#1c06dc"/>
<rect x="71.00" y="312.94" width="5.30" height="2.74" fill="#5010c8"/>
<rect x="71.00" y="315.28" width="5.30" height="21.48" fill="#1c06dc"/>
<rect x="71.00" y="336.35" width="5.30" height="2.74" fill="#5010c8"/>
<rect x="71.00" y="338.70" width="5.30" height="7.43" fill="#1c06dc"/>
<rect x="71.00" y="345.72" width="5.30" height="2.74" fill="#8a0aa0"/>
<rect x="71.00" y="348.06" width="5.30" height="5.08" fill="#1c06dc"/>
<rect x="71.00" y="352.75" width="5.30" height="2.74" fill="#5010c8"/>
<rect x="71.00" y="355.09" width="5.30" height="2.74" fill="#8a0aa0"/>
<rect x="71.00" y="357.43" width="5.30" height="7.43" fill="#1c06dc"/>
<rect x="71.00" y="364.45" width="5.30" height="5.08" fill="#5010c8"/>
<rect x="71.00" y="369.14" width="5.30" height="16.79" fill="#1c06dc"/>
<rect x="71.00" y="385.53" width="5.30" height="9.77" fill="#5010c8"/>
<rect x="71.00" y="394.90" width="5.30" height="2.74" fill="#1c06dc"/>
<rect x="71.00" y="397.24" width="5.30" height="2.74" fill="#5010c8"/>
<rect x="71.00" y="399.58" width="5.30" height="9.77" fill="#1c06dc"/>
<rect x="71.00" y="408.95" width="5.30" height="2.74" fill="#5010c8"/>
<rect x="71.00" y="411.29" width="5.30" height="40.21" fill="#1c06dc"/>
<rect x="71.00" y="451.10" width="5.30" height="2.74" fill="#5010c8"/>
<rect x="71.00" y="453.44" width="5.30" height="21.48" fill="#1c06dc"/>
<rect x="71.00" y="474.52" width="5.30" height="2.74" fill="#5010c8"/>
<rect x="71.00" y="476.86" width="5.30" height="2.34" fill="#1c06dc"/>
<rect x="75.90" y="238.00" width="5.30" height="7.43" fill="#1c06dc"/>
<rect x="75.90" y="245.03" width="5.30" height="7.43" fill="#f0081c"/>
<rect x="75.90" y="252.05" width="5.30" height="2.74" fill="#8a0aa0"/>
<rect x="75.90" y="254.39" width="5.30" height="12.11" fill="#f0081c"/>
<rect x="75.90" y="266.10" width="5.30" height="2.74" fill="#8a0aa0"/>
<rect x="75.90" y="268.44" width="5.30" height="12.11" fill="#f0081c"/>
<rect x="75.90" y="280.15" width="5.30" height="2.74" fill="#8a0aa0"/>
<rect x="75.90" y="282.49" width="5.30" height="5.08" fill="#f0081c"/>
<rect x="75.90" y="287.18" width="5.30" height="5.08" fill="#8a0aa0"/>
<rect x="75.90" y="291.86" width="5.30" height="14.45" fill="#f0081c"/>
<rect x="75.90" y="305.91" width="5.30" height="2.74" fill="#e84050"/>
<rect x="75.90" y="308.25" width="5.30" height="9.77" fill="#f0081c"/>
<rect x="75.90" y="317.62" width="5.30" height="5.08" fill="#8a0aa0"/>
<rect x="75.90" y="322.30" width="5.30" height="23.82" fill="#f0081c"/>
<rect x="75.90" y="345.72" width="5.30" height="7.43" fill="#1c06dc"/>
<rect x="75.90" y="352.75" width="5.30" height="7.43" fill="#8a0aa0"/>
<rect x="75.90" y="359.77" width="5.30" height="7.43" fill="#f0081c"/>
<rect x="75.90" y="366.80" width="5.30" height="5.08" fill="#8a0aa0"/>
<rect x="75.90" y="371.48" width="5.30" height="9.77" fill="#1c06dc"/>
<rect x="75.90" y="380.85" width="5.30" height="2.74" fill="#8a0aa0"/>
<rect x="75.90" y="383.19" width="5.30" height="5.08" fill="#f0081c"/>
<rect x="75.90" y="387.87" width="5.30" height="7.43" fill="#1c06dc"/>
<rect x="75.90" y="394.90" width="5.30" height="5.08" fill="#f0081c"/>
<rect x="75.90" y="399.58" width="5.30" height="7.43" fill="#1c06dc"/>
<rect x="75.90" y="406.61" width="5.30" height="9.77" fill="#8a0aa0"/>
<rect x="75.90" y="415.97" width="5.30" height="14.45" fill="#5010c8"/>
<rect x="75.90" y="430.02" width="5.30" height="2.74" fill="#1c06dc"/>
<rect x="75.90" y="432.37" width="5.30" height="5.08" fill="#5010c8"/>
<rect x="75.90" y="437.05" width="5.30" height="2.74" fill="#1c06dc"/>
<rect x="75.90" y="439.39" width="5.30" height="5.08" fill="#f0081c"/>
<rect x="75.90" y="444.07" width="5.30" height="12.11" fill="#8a0aa0"/>
<rect x="75.90" y="455.78" width="5.30" height="5.08" fill="#f0081c"/>
<rect x="75.90" y="460.47" width="5.30" height="2.74" fill="#5010c8"/>
<rect x="75.90" y="462.81" width="5.30" height="2.74" fill="#8a0aa0"/>
<rect x="75.90" y="465.15" width="5.30" height="2.74" fill="#1c06dc"/>
<rect x="75.90" y="467.49" width="5.30" height="2.74" fill="#5010c8"/>
<rect x="75.90" y="469.83" width="5.30" height="5.08" fill="#8a0aa0"/>
<rect x="75.90" y="474.52" width="5.30" height="4.68" fill="#5010c8"/>
<rect x="80.80" y="238.00" width="4.90" height="14.45" fill="#f0081c"/>
<rect x="80.80" y="252.05" width="4.90" height="2.74" fill="#1c06dc"/>
<rect x="80.80" y="254.39" width="4.90" height="12.11" fill="#f0081c"/>
<rect x="80.80" y="266.10" width="4.90" height="2.74" fill="#1c06dc"/>
<rect x="80.80" y="268.44" width="4.90" height="12.11" fill="#f0081c"/>
<rect x="80.80" y="280.15" width="4.90" height="2.74" fill="#8a0aa0"/>
<rect x="80.80" y="282.49" width="4.90" height="129.20" fill="#f0081c"/>
<rect x="80.80" y="411.29" width="4.90" height="2.74" fill="#1c06dc"/>
<rect x="80.80" y="413.63" width="4.90" height="65.57" fill="#f0081c"/>
<rect x="151.50" y="238.50" width="5.25" height="7.40" fill="#fbe4f2"/>
<rect x="151.50" y="245.50" width="5.25" height="2.73" fill="#f6dcec"/>
<rect x="151.50" y="247.84" width="5.25" height="23.75" fill="#fbe4f2"/>
<rect x="151.50" y="271.19" width="5.25" height="2.73" fill="#f6dcec"/>
<rect x="151.50" y="273.52" width="5.25" height="9.74" fill="#fbe4f2"/>
<rect x="151.50" y="282.86" width="5.25" height="9.74" fill="#f6dcec"/>
<rect x="151.50" y="292.20" width="5.25" height="2.73" fill="#fbe4f2"/>
<rect x="151.50" y="294.54" width="5.25" height="5.07" fill="#f6dcec"/>
<rect x="151.50" y="299.21" width="5.25" height="2.73" fill="#fbe4f2"/>
<rect x="151.50" y="301.54" width="5.25" height="2.73" fill="#f6dcec"/>
<rect x="151.50" y="303.88" width="5.25" height="19.08" fill="#fbe4f2"/>
<rect x="151.50" y="322.56" width="5.25" height="7.40" fill="#f6dcec"/>
<rect x="151.50" y="329.56" width="5.25" height="49.43" fill="#fbe4f2"/>
<rect x="151.50" y="378.60" width="5.25" height="2.73" fill="#f6dcec"/>
<rect x="151.50" y="380.93" width="5.25" height="5.07" fill="#fbe4f2"/>
<rect x="151.50" y="385.60" width="5.25" height="2.73" fill="#f6dcec"/>
<rect x="151.50" y="387.94" width="5.25" height="5.07" fill="#fbe4f2"/>
<rect x="151.50" y="392.61" width="5.25" height="5.07" fill="#f6dcec"/>
<rect x="151.50" y="397.28" width="5.25" height="7.40" fill="#fbe4f2"/>
<rect x="151.50" y="404.28" width="5.25" height="7.40" fill="#f6dcec"/>
<rect x="151.50" y="411.29" width="5.25" height="2.73" fill="#fbe4f2"/>
<rect x="151.50" y="413.62" width="5.25" height="2.73" fill="#f6dcec"/>
<rect x="151.50" y="415.96" width="5.25" height="7.40" fill="#fbe4f2"/>
<rect x="151.50" y="422.96" width="5.25" height="2.73" fill="#f6dcec"/>
<rect x="151.50" y="425.30" width="5.25" height="53.70" fill="#fbe4f2"/>
<rect x="156.35" y="238.50" width="5.25" height="2.73" fill="#f6d8e8"/>
<rect x="156.35" y="240.83" width="5.25" height="16.74" fill="#fbe4f2"/>
<rect x="156.35" y="257.18" width="5.25" height="2.73" fill="#f6d8e8"/>
<rect x="156.35" y="259.51" width="5.25" height="7.40" fill="#fbe4f2"/>
<rect x="156.35" y="266.52" width="5.25" height="2.73" fill="#f6d8e8"/>
<rect x="156.35" y="268.85" width="5.25" height="5.07" fill="#fbe4f2"/>
<rect x="156.35" y="273.52" width="5.25" height="2.73" fill="#f6d8e8"/>
<rect x="156.35" y="275.86" width="5.25" height="7.40" fill="#fbe4f2"/>
<rect x="156.35" y="282.86" width="5.25" height="5.07" fill="#f6d8e8"/>
<rect x="156.35" y="287.53" width="5.25" height="2.73" fill="#fbe4f2"/>
<rect x="156.35" y="289.87" width="5.25" height="5.07" fill="#f6d8e8"/>
<rect x="156.35" y="294.54" width="5.25" height="23.75" fill="#fbe4f2"/>
<rect x="156.35" y="317.89" width="5.25" height="2.73" fill="#f6d8e8"/>
<rect x="156.35" y="320.22" width="5.25" height="5.07" fill="#fbe4f2"/>
<rect x="156.35" y="324.89" width="5.25" height="2.73" fill="#f6d8e8"/>
<rect x="156.35" y="327.23" width="5.25" height="16.74" fill="#fbe4f2"/>
<rect x="156.35" y="343.57" width="5.25" height="2.73" fill="#f6d8e8"/>
<rect x="156.35" y="345.91" width="5.25" height="2.73" fill="#fbe4f2"/>
<rect x="156.35" y="348.24" width="5.25" height="2.73" fill="#f6d8e8"/>
<rect x="156.35" y="350.58" width="5.25" height="16.74" fill="#fbe4f2"/>
<rect x="156.35" y="366.92" width="5.25" height="5.07" fill="#f6d8e8"/>
<rect x="156.35" y="371.59" width="5.25" height="7.40" fill="#fbe4f2"/>
<rect x="156.35" y="378.60" width="5.25" height="2.73" fill="#f6d8e8"/>
<rect x="156.35" y="380.93" width="5.25" height="2.73" fill="#fbe4f2"/>
<rect x="156.35" y="383.27" width="5.25" height="2.73" fill="#f6d8e8"/>
<rect x="156.35" y="385.60" width="5.25" height="9.74" fill="#fbe4f2"/>
<rect x="156.35" y="394.94" width="5.25" height="2.73" fill="#f6d8e8"/>
<rect x="156.35" y="397.28" width="5.25" height="9.74" fill="#fbe4f2"/>
<rect x="156.35" y="406.62" width="5.25" height="2.73" fill="#f6d8e8"/>
<rect x="156.35" y="408.95" width="5.25" height="2.73" fill="#fbe4f2"/>
<rect x="156.35" y="411.29" width="5.25" height="2.73" fill="#f6d8e8"/>
<rect x="156.35" y="413.62" width="5.25" height="2.73" fill="#fbe4f2"/>
<rect x="156.35" y="415.96" width="5.25" height="2.73" fill="#f6d8e8"/>
<rect x="156.35" y="418.29" width="5.25" height="2.73" fill="#fbe4f2"/>
<rect x="156.35" y="420.63" width="5.25" height="2.73" fill="#f6d8e8"/>
<rect x="156.35" y="422.96" width="5.25" height="7.40" fill="#fbe4f2"/>
<rect x="156.35" y="429.97" width="5.25" height="5.07" fill="#f6d8e8"/>
<rect x="156.35" y="434.64" width="5.25" height="7.40" fill="#fbe4f2"/>
<rect x="156.35" y="441.64" width="5.25" height="2.73" fill="#f6d8e8"/>
<rect x="156.35" y="443.98" width="5.25" height="5.07" fill="#fbe4f2"/>
<rect x="156.35" y="448.65" width="5.25" height="2.73" fill="#f6d8e8"/>
<rect x="156.35" y="450.98" width="5.25" height="9.74" fill="#fbe4f2"/>
<rect x="156.35" y="460.32" width="5.25" height="2.73" fill="#f6d8e8"/>
<rect x="156.35" y="462.66" width="5.25" height="2.73" fill="#fbe4f2"/>
<rect x="156.35" y="464.99" width="5.25" height="9.74" fill="#f6d8e8"/>
<rect x="156.35" y="474.33" width="5.25" height="4.67" fill="#fbe4f2"/>
<rect x="161.20" y="238.50" width="5.25" height="2.73" fill="#f29098"/>
<rect x="161.20" y="240.83" width="5.25" height="2.73" fill="#f8c8d4"/>
<rect x="161.20" y="243.17" width="5.25" height="2.73" fill="#f8d0dc"/>
<rect x="161.20" y="245.50" width="5.25" height="2.73" fill="#f8c8d4"/>
<rect x="161.20" y="247.84" width="5.25" height="5.07" fill="#f8d0dc"/>
<rect x="161.20" y="252.51" width="5.25" height="2.73" fill="#ffffff"/>
<rect x="161.20" y="254.84" width="5.25" height="2.73" fill="#f8c8d4"/>
<rect x="161.20" y="257.18" width="5.25" height="2.73" fill="#f8d0dc"/>
<rect x="161.20" y="259.51" width="5.25" height="2.73" fill="#f8c8d4"/>
<rect x="161.20" y="261.85" width="5.25" height="5.07" fill="#f8d0dc"/>
<rect x="161.20" y="266.52" width="5.25" height="2.73" fill="#e84050"/>
<rect x="161.20" y="268.85" width="5.25" height="2.73" fill="#f8c8d4"/>
<rect x="161.20" y="271.19" width="5.25" height="2.73" fill="#b8b8f4"/>
<rect x="161.20" y="273.52" width="5.25" height="5.07" fill="#fbe8d8"/>
<rect x="161.20" y="278.19" width="5.25" height="2.73" fill="#e84050"/>
<rect x="161.20" y="280.53" width="5.25" height="2.73" fill="#f8c8d4"/>
<rect x="161.20" y="282.86" width="5.25" height="5.07" fill="#f8d0dc"/>
<rect x="161.20" y="287.53" width="5.25" height="2.73" fill="#f8c8d4"/>
<rect x="161.20" y="289.87" width="5.25" height="2.73" fill="#b8b8f4"/>
<rect x="161.20" y="292.20" width="5.25" height="2.73" fill="#f8d0dc"/>
<rect x="161.20" y="294.54" width="5.25" height="5.07" fill="#e84050"/>
<rect x="161.20" y="299.21" width="5.25" height="2.73" fill="#f8c8d4"/>
<rect x="161.20" y="301.54" width="5.25" height="2.73" fill="#ffffff"/>
<rect x="161.20" y="303.88" width="5.25" height="2.73" fill="#f4a0b0"/>
<rect x="161.20" y="306.21" width="5.25" height="7.40" fill="#f8c8d4"/>
<rect x="161.20" y="313.22" width="5.25" height="2.73" fill="#e84050"/>
<rect x="161.20" y="315.55" width="5.25" height="2.73" fill="#f29098"/>
<rect x="161.20" y="317.89" width="5.25" height="2.73" fill="#f8d0dc"/>
<rect x="161.20" y="320.22" width="5.25" height="5.07" fill="#f8c8d4"/>
<rect x="161.20" y="324.89" width="5.25" height="2.73" fill="#f8d0dc"/>
<rect x="161.20" y="327.23" width="5.25" height="2.73" fill="#f29098"/>
<rect x="161.20" y="329.56" width="5.25" height="2.73" fill="#f8d0dc"/>
<rect x="161.20" y="331.90" width="5.25" height="2.73" fill="#f4a0b0"/>
<rect x="161.20" y="334.23" width="5.25" height="5.07" fill="#f8d0dc"/>
<rect x="161.20" y="338.90" width="5.25" height="2.73" fill="#f29098"/>
<rect x="161.20" y="341.24" width="5.25" height="2.73" fill="#f8c8d4"/>
<rect x="161.20" y="343.57" width="5.25" height="2.73" fill="#e84050"/>
<rect x="161.20" y="345.91" width="5.25" height="2.73" fill="#f8c8d4"/>
<rect x="161.20" y="348.24" width="5.25" height="2.73" fill="#f29098"/>
<rect x="161.20" y="350.58" width="5.25" height="2.73" fill="#f4a0b0"/>
<rect x="161.20" y="352.91" width="5.25" height="2.73" fill="#f8d0dc"/>
<rect x="161.20" y="355.25" width="5.25" height="2.73" fill="#f4a0b0"/>
<rect x="161.20" y="357.58" width="5.25" height="2.73" fill="#f29098"/>
<rect x="161.20" y="359.92" width="5.25" height="2.73" fill="#f8c8d4"/>
<rect x="161.20" y="362.25" width="5.25" height="2.73" fill="#ffffff"/>
<rect x="161.20" y="364.59" width="5.25" height="2.73" fill="#f8d0dc"/>
<rect x="161.20" y="366.92" width="5.25" height="2.73" fill="#e84050"/>
<rect x="161.20" y="369.26" width="5.25" height="2.73" fill="#f8d0dc"/>
<rect x="161.20" y="371.59" width="5.25" height="2.73" fill="#f4a0b0"/>
<rect x="161.20" y="373.93" width="5.25" height="5.07" fill="#f8d0dc"/>
<rect x="161.20" y="378.60" width="5.25" height="2.73" fill="#f8c8d4"/>
<rect x="161.20" y="380.93" width="5.25" height="2.73" fill="#b8b8f4"/>
<rect x="161.20" y="383.27" width="5.25" height="2.73" fill="#f8d0dc"/>
<rect x="161.20" y="385.60" width="5.25" height="2.73" fill="#f8c8d4"/>
<rect x="161.20" y="387.94" width="5.25" height="2.73" fill="#f29098"/>
<rect x="161.20" y="390.27" width="5.25" height="2.73" fill="#f8d0dc"/>
<rect x="161.20" y="392.61" width="5.25" height="2.73" fill="#f29098"/>
<rect x="161.20" y="394.94" width="5.25" height="2.73" fill="#f8d0dc"/>
<rect x="161.20" y="397.28" width="5.25" height="2.73" fill="#f8c8d4"/>
<rect x="161.20" y="399.61" width="5.25" height="2.73" fill="#f4a0b0"/>
<rect x="161.20" y="401.95" width="5.25" height="2.73" fill="#f8c8d4"/>
<rect x="161.20" y="404.28" width="5.25" height="5.07" fill="#f8d0dc"/>
<rect x="161.20" y="408.95" width="5.25" height="2.73" fill="#f29098"/>
<rect x="161.20" y="411.29" width="5.25" height="2.73" fill="#f8c8d4"/>
<rect x="161.20" y="413.62" width="5.25" height="2.73" fill="#b8b8f4"/>
<rect x="161.20" y="415.96" width="5.25" height="2.73" fill="#f4a0b0"/>
<rect x="161.20" y="418.29" width="5.25" height="2.73" fill="#f8d0dc"/>
<rect x="161.20" y="420.63" width="5.25" height="5.07" fill="#b8b8f4"/>
<rect x="161.20" y="425.30" width="5.25" height="5.07" fill="#f4a0b0"/>
<rect x="161.20" y="429.97" width="5.25" height="2.73" fill="#f29098"/>
<rect x="161.20" y="432.30" width="5.25" height="2.73" fill="#f4a0b0"/>
<rect x="161.20" y="434.64" width="5.25" height="5.07" fill="#f29098"/>
<rect x="161.20" y="439.31" width="5.25" height="5.07" fill="#f8d0dc"/>
<rect x="161.20" y="443.98" width="5.25" height="2.73" fill="#f4a0b0"/>
<rect x="161.20" y="446.31" width="5.25" height="2.73" fill="#f29098"/>
<rect x="161.20" y="448.65" width="5.25" height="2.73" fill="#f8d0dc"/>
<rect x="161.20" y="450.98" width="5.25" height="5.07" fill="#f29098"/>
<rect x="161.20" y="455.65" width="5.25" height="2.73" fill="#f8c8d4"/>
<rect x="161.20" y="457.99" width="5.25" height="2.73" fill="#f4a0b0"/>
<rect x="161.20" y="460.32" width="5.25" height="2.73" fill="#e84050"/>
<rect x="161.20" y="462.66" width="5.25" height="2.73" fill="#f8c8d4"/>
<rect x="161.20" y="464.99" width="5.25" height="2.73" fill="#f4a0b0"/>
<rect x="161.20" y="467.33" width="5.25" height="2.73" fill="#f8c8d4"/>
<rect x="161.20" y="469.66" width="5.25" height="2.73" fill="#f29098"/>
<rect x="161.20" y="472.00" width="5.25" height="2.73" fill="#f8c8d4"/>
<rect x="161.20" y="474.33" width="5.25" height="2.73" fill="#b8b8f4"/>
<rect x="161.20" y="476.67" width="5.25" height="2.33" fill="#f8c8d4"/>
<rect x="166.05" y="238.50" width="4.85" height="240.50" fill="#f0081c"/>
<line x1="151.50" y1="240.83" x2="156.35" y2="240.83" stroke="#c0a4c8" stroke-width="0.55"/>
<line x1="151.50" y1="243.17" x2="156.35" y2="243.17" stroke="#c0a4c8" stroke-width="0.55"/>
<line x1="151.50" y1="245.50" x2="156.35" y2="245.50" stroke="#c0a4c8" stroke-width="0.55"/>
<line x1="151.50" y1="247.84" x2="156.35" y2="247.84" stroke="#c0a4c8" stroke-width="0.55"/>
<line x1="151.50" y1="250.17" x2="156.35" y2="250.17" stroke="#c0a4c8" stroke-width="0.55"/>
<line x1="151.50" y1="252.51" x2="156.35" y2="252.51" stroke="#c0a4c8" stroke-width="0.55"/>
<line x1="151.50" y1="254.84" x2="156.35" y2="254.84" stroke="#c0a4c8" stroke-width="0.55"/>
<line x1="151.50" y1="257.18" x2="156.35" y2="257.18" stroke="#c0a4c8" stroke-width="0.55"/>
<line x1="151.50" y1="259.51" x2="156.35" y2="259.51" stroke="#c0a4c8" stroke-width="0.55"/>
<line x1="151.50" y1="261.85" x2="156.35" y2="261.85" stroke="#c0a4c8" stroke-width="0.55"/>
<line x1="151.50" y1="264.18" x2="156.35" y2="264.18" stroke="#c0a4c8" stroke-width="0.55"/>
<line x1="151.50" y1="266.52" x2="156.35" y2="266.52" stroke="#c0a4c8" stroke-width="0.55"/>
<line x1="151.50" y1="268.85" x2="156.35" y2="268.85" stroke="#c0a4c8" stroke-width="0.55"/>
<line x1="151.50" y1="271.19" x2="156.35" y2="271.19" stroke="#c0a4c8" stroke-width="0.55"/>
<line x1="151.50" y1="273.52" x2="156.35" y2="273.52" stroke="#c0a4c8" stroke-width="0.55"/>
<line x1="151.50" y1="275.86" x2="156.35" y2="275.86" stroke="#c0a4c8" stroke-width="0.55"/>
<line x1="151.50" y1="278.19" x2="156.35" y2="278.19" stroke="#c0a4c8" stroke-width="0.55"/>
<line x1="151.50" y1="280.53" x2="156.35" y2="280.53" stroke="#c0a4c8" stroke-width="0.55"/>
<line x1="151.50" y1="282.86" x2="156.35" y2="282.86" stroke="#c0a4c8" stroke-width="0.55"/>
<line x1="151.50" y1="285.20" x2="156.35" y2="285.20" stroke="#c0a4c8" stroke-width="0.55"/>
<line x1="151.50" y1="287.53" x2="156.35" y2="287.53" stroke="#c0a4c8" stroke-width="0.55"/>
<line x1="151.50" y1="289.87" x2="156.35" y2="289.87" stroke="#c0a4c8" stroke-width="0.55"/>
<line x1="151.50" y1="292.20" x2="156.35" y2="292.20" stroke="#c0a4c8" stroke-width="0.55"/>
<line x1="151.50" y1="294.54" x2="156.35" y2="294.54" stroke="#c0a4c8" stroke-width="0.55"/>
<line x1="151.50" y1="296.87" x2="156.35" y2="296.87" stroke="#c0a4c8" stroke-width="0.55"/>
<line x1="151.50" y1="299.21" x2="156.35" y2="299.21" stroke="#c0a4c8" stroke-width="0.55"/>
<line x1="151.50" y1="301.54" x2="156.35" y2="301.54" stroke="#c0a4c8" stroke-width="0.55"/>
<line x1="151.50" y1="303.88" x2="156.35" y2="303.88" stroke="#c0a4c8" stroke-width="0.55"/>
<line x1="151.50" y1="306.21" x2="156.35" y2="306.21" stroke="#c0a4c8" stroke-width="0.55"/>
<line x1="151.50" y1="308.55" x2="156.35" y2="308.55" stroke="#c0a4c8" stroke-width="0.55"/>
<line x1="151.50" y1="310.88" x2="156.35" y2="310.88" stroke="#c0a4c8" stroke-width="0.55"/>
<line x1="151.50" y1="313.22" x2="156.35" y2="313.22" stroke="#c0a4c8" stroke-width="0.55"/>
<line x1="151.50" y1="315.55" x2="156.35" y2="315.55" stroke="#c0a4c8" stroke-width="0.55"/>
<line x1="151.50" y1="317.89" x2="156.35" y2="317.89" stroke="#c0a4c8" stroke-width="0.55"/>
<line x1="151.50" y1="320.22" x2="156.35" y2="320.22" stroke="#c0a4c8" stroke-width="0.55"/>
<line x1="151.50" y1="322.56" x2="156.35" y2="322.56" stroke="#c0a4c8" stroke-width="0.55"/>
<line x1="151.50" y1="324.89" x2="156.35" y2="324.89" stroke="#c0a4c8" stroke-width="0.55"/>
<line x1="151.50" y1="327.23" x2="156.35" y2="327.23" stroke="#c0a4c8" stroke-width="0.55"/>
<line x1="151.50" y1="329.56" x2="156.35" y2="329.56" stroke="#c0a4c8" stroke-width="0.55"/>
<line x1="151.50" y1="331.90" x2="156.35" y2="331.90" stroke="#c0a4c8" stroke-width="0.55"/>
<line x1="151.50" y1="334.23" x2="156.35" y2="334.23" stroke="#c0a4c8" stroke-width="0.55"/>
<line x1="151.50" y1="336.57" x2="156.35" y2="336.57" stroke="#c0a4c8" stroke-width="0.55"/>
<line x1="151.50" y1="338.90" x2="156.35" y2="338.90" stroke="#c0a4c8" stroke-width="0.55"/>
<line x1="151.50" y1="341.24" x2="156.35" y2="341.24" stroke="#c0a4c8" stroke-width="0.55"/>
<line x1="151.50" y1="343.57" x2="156.35" y2="343.57" stroke="#c0a4c8" stroke-width="0.55"/>
<line x1="151.50" y1="345.91" x2="156.35" y2="345.91" stroke="#c0a4c8" stroke-width="0.55"/>
<line x1="151.50" y1="348.24" x2="156.35" y2="348.24" stroke="#c0a4c8" stroke-width="0.55"/>
<line x1="151.50" y1="350.58" x2="156.35" y2="350.58" stroke="#c0a4c8" stroke-width="0.55"/>
<line x1="151.50" y1="352.91" x2="156.35" y2="352.91" stroke="#c0a4c8" stroke-width="0.55"/>
<line x1="151.50" y1="355.25" x2="156.35" y2="355.25" stroke="#c0a4c8" stroke-width="0.55"/>
<line x1="151.50" y1="357.58" x2="156.35" y2="357.58" stroke="#c0a4c8" stroke-width="0.55"/>
<line x1="151.50" y1="359.92" x2="156.35" y2="359.92" stroke="#c0a4c8" stroke-width="0.55"/>
<line x1="151.50" y1="362.25" x2="156.35" y2="362.25" stroke="#c0a4c8" stroke-width="0.55"/>
<line x1="151.50" y1="364.59" x2="156.35" y2="364.59" stroke="#c0a4c8" stroke-width="0.55"/>
<line x1="151.50" y1="366.92" x2="156.35" y2="366.92" stroke="#c0a4c8" stroke-width="0.55"/>
<line x1="151.50" y1="369.26" x2="156.35" y2="369.26" stroke="#c0a4c8" stroke-width="0.55"/>
<line x1="151.50" y1="371.59" x2="156.35" y2="371.59" stroke="#c0a4c8" stroke-width="0.55"/>
<line x1="151.50" y1="373.93" x2="156.35" y2="373.93" stroke="#c0a4c8" stroke-width="0.55"/>
<line x1="151.50" y1="376.26" x2="156.35" y2="376.26" stroke="#c0a4c8" stroke-width="0.55"/>
<line x1="151.50" y1="378.60" x2="156.35" y2="378.60" stroke="#c0a4c8" stroke-width="0.55"/>
<line x1="151.50" y1="380.93" x2="156.35" y2="380.93" stroke="#c0a4c8" stroke-width="0.55"/>
<line x1="151.50" y1="383.27" x2="156.35" y2="383.27" stroke="#c0a4c8" stroke-width="0.55"/>
<line x1="151.50" y1="385.60" x2="156.35" y2="385.60" stroke="#c0a4c8" stroke-width="0.55"/>
<line x1="151.50" y1="387.94" x2="156.35" y2="387.94" stroke="#c0a4c8" stroke-width="0.55"/>
<line x1="151.50" y1="390.27" x2="156.35" y2="390.27" stroke="#c0a4c8" stroke-width="0.55"/>
<line x1="151.50" y1="392.61" x2="156.35" y2="392.61" stroke="#c0a4c8" stroke-width="0.55"/>
<line x1="151.50" y1="394.94" x2="156.35" y2="394.94" stroke="#c0a4c8" stroke-width="0.55"/>
<line x1="151.50" y1="397.28" x2="156.35" y2="397.28" stroke="#c0a4c8" stroke-width="0.55"/>
<line x1="151.50" y1="399.61" x2="156.35" y2="399.61" stroke="#c0a4c8" stroke-width="0.55"/>
<line x1="151.50" y1="401.95" x2="156.35" y2="401.95" stroke="#c0a4c8" stroke-width="0.55"/>
<line x1="151.50" y1="404.28" x2="156.35" y2="404.28" stroke="#c0a4c8" stroke-width="0.55"/>
<line x1="151.50" y1="406.62" x2="156.35" y2="406.62" stroke="#c0a4c8" stroke-width="0.55"/>
<line x1="151.50" y1="408.95" x2="156.35" y2="408.95" stroke="#c0a4c8" stroke-width="0.55"/>
<line x1="151.50" y1="411.29" x2="156.35" y2="411.29" stroke="#c0a4c8" stroke-width="0.55"/>
<line x1="151.50" y1="413.62" x2="156.35" y2="413.62" stroke="#c0a4c8" stroke-width="0.55"/>
<line x1="151.50" y1="415.96" x2="156.35" y2="415.96" stroke="#c0a4c8" stroke-width="0.55"/>
<line x1="151.50" y1="418.29" x2="156.35" y2="418.29" stroke="#c0a4c8" stroke-width="0.55"/>
<line x1="151.50" y1="420.63" x2="156.35" y2="420.63" stroke="#c0a4c8" stroke-width="0.55"/>
<line x1="151.50" y1="422.96" x2="156.35" y2="422.96" stroke="#c0a4c8" stroke-width="0.55"/>
<line x1="151.50" y1="425.30" x2="156.35" y2="425.30" stroke="#c0a4c8" stroke-width="0.55"/>
<line x1="151.50" y1="427.63" x2="156.35" y2="427.63" stroke="#c0a4c8" stroke-width="0.55"/>
<line x1="151.50" y1="429.97" x2="156.35" y2="429.97" stroke="#c0a4c8" stroke-width="0.55"/>
<line x1="151.50" y1="432.30" x2="156.35" y2="432.30" stroke="#c0a4c8" stroke-width="0.55"/>
<line x1="151.50" y1="434.64" x2="156.35" y2="434.64" stroke="#c0a4c8" stroke-width="0.55"/>
<line x1="151.50" y1="436.97" x2="156.35" y2="436.97" stroke="#c0a4c8" stroke-width="0.55"/>
<line x1="151.50" y1="439.31" x2="156.35" y2="439.31" stroke="#c0a4c8" stroke-width="0.55"/>
<line x1="151.50" y1="441.64" x2="156.35" y2="441.64" stroke="#c0a4c8" stroke-width="0.55"/>
<line x1="151.50" y1="443.98" x2="156.35" y2="443.98" stroke="#c0a4c8" stroke-width="0.55"/>
<line x1="151.50" y1="446.31" x2="156.35" y2="446.31" stroke="#c0a4c8" stroke-width="0.55"/>
<line x1="151.50" y1="448.65" x2="156.35" y2="448.65" stroke="#c0a4c8" stroke-width="0.55"/>
<line x1="151.50" y1="450.98" x2="156.35" y2="450.98" stroke="#c0a4c8" stroke-width="0.55"/>
<line x1="151.50" y1="453.32" x2="156.35" y2="453.32" stroke="#c0a4c8" stroke-width="0.55"/>
<line x1="151.50" y1="455.65" x2="156.35" y2="455.65" stroke="#c0a4c8" stroke-width="0.55"/>
<line x1="151.50" y1="457.99" x2="156.35" y2="457.99" stroke="#c0a4c8" stroke-width="0.55"/>
<line x1="151.50" y1="460.32" x2="156.35" y2="460.32" stroke="#c0a4c8" stroke-width="0.55"/>
<line x1="151.50" y1="462.66" x2="156.35" y2="462.66" stroke="#c0a4c8" stroke-width="0.55"/>
<line x1="151.50" y1="464.99" x2="156.35" y2="464.99" stroke="#c0a4c8" stroke-width="0.55"/>
<line x1="151.50" y1="467.33" x2="156.35" y2="467.33" stroke="#c0a4c8" stroke-width="0.55"/>
<line x1="151.50" y1="469.66" x2="156.35" y2="469.66" stroke="#c0a4c8" stroke-width="0.55"/>
<line x1="151.50" y1="472.00" x2="156.35" y2="472.00" stroke="#c0a4c8" stroke-width="0.55"/>
<line x1="151.50" y1="474.33" x2="156.35" y2="474.33" stroke="#c0a4c8" stroke-width="0.55"/>
<line x1="151.50" y1="476.67" x2="156.35" y2="476.67" stroke="#c0a4c8" stroke-width="0.55"/>
<line x1="156.35" y1="240.83" x2="161.20" y2="240.83" stroke="#c0a4c8" stroke-width="0.55"/>
<line x1="156.35" y1="243.17" x2="161.20" y2="243.17" stroke="#c0a4c8" stroke-width="0.55"/>
<line x1="156.35" y1="245.50" x2="161.20" y2="245.50" stroke="#c0a4c8" stroke-width="0.55"/>
<line x1="156.35" y1="247.84" x2="161.20" y2="247.84" stroke="#c0a4c8" stroke-width="0.55"/>
<line x1="156.35" y1="250.17" x2="161.20" y2="250.17" stroke="#c0a4c8" stroke-width="0.55"/>
<line x1="156.35" y1="252.51" x2="161.20" y2="252.51" stroke="#c0a4c8" stroke-width="0.55"/>
<line x1="156.35" y1="254.84" x2="161.20" y2="254.84" stroke="#c0a4c8" stroke-width="0.55"/>
<line x1="156.35" y1="257.18" x2="161.20" y2="257.18" stroke="#c0a4c8" stroke-width="0.55"/>
<line x1="156.35" y1="259.51" x2="161.20" y2="259.51" stroke="#c0a4c8" stroke-width="0.55"/>
<line x1="156.35" y1="261.85" x2="161.20" y2="261.85" stroke="#c0a4c8" stroke-width="0.55"/>
<line x1="156.35" y1="264.18" x2="161.20" y2="264.18" stroke="#c0a4c8" stroke-width="0.55"/>
<line x1="156.35" y1="266.52" x2="161.20" y2="266.52" stroke="#c0a4c8" stroke-width="0.55"/>
<line x1="156.35" y1="268.85" x2="161.20" y2="268.85" stroke="#c0a4c8" stroke-width="0.55"/>
<line x1="156.35" y1="271.19" x2="161.20" y2="271.19" stroke="#c0a4c8" stroke-width="0.55"/>
<line x1="156.35" y1="273.52" x2="161.20" y2="273.52" stroke="#c0a4c8" stroke-width="0.55"/>
<line x1="156.35" y1="275.86" x2="161.20" y2="275.86" stroke="#c0a4c8" stroke-width="0.55"/>
<line x1="156.35" y1="278.19" x2="161.20" y2="278.19" stroke="#c0a4c8" stroke-width="0.55"/>
<line x1="156.35" y1="280.53" x2="161.20" y2="280.53" stroke="#c0a4c8" stroke-width="0.55"/>
<line x1="156.35" y1="282.86" x2="161.20" y2="282.86" stroke="#c0a4c8" stroke-width="0.55"/>
<line x1="156.35" y1="285.20" x2="161.20" y2="285.20" stroke="#c0a4c8" stroke-width="0.55"/>
<line x1="156.35" y1="287.53" x2="161.20" y2="287.53" stroke="#c0a4c8" stroke-width="0.55"/>
<line x1="156.35" y1="289.87" x2="161.20" y2="289.87" stroke="#c0a4c8" stroke-width="0.55"/>
<line x1="156.35" y1="292.20" x2="161.20" y2="292.20" stroke="#c0a4c8" stroke-width="0.55"/>
<line x1="156.35" y1="294.54" x2="161.20" y2="294.54" stroke="#c0a4c8" stroke-width="0.55"/>
<line x1="156.35" y1="296.87" x2="161.20" y2="296.87" stroke="#c0a4c8" stroke-width="0.55"/>
<line x1="156.35" y1="299.21" x2="161.20" y2="299.21" stroke="#c0a4c8" stroke-width="0.55"/>
<line x1="156.35" y1="301.54" x2="161.20" y2="301.54" stroke="#c0a4c8" stroke-width="0.55"/>
<line x1="156.35" y1="303.88" x2="161.20" y2="303.88" stroke="#c0a4c8" stroke-width="0.55"/>
<line x1="156.35" y1="306.21" x2="161.20" y2="306.21" stroke="#c0a4c8" stroke-width="0.55"/>
<line x1="156.35" y1="308.55" x2="161.20" y2="308.55" stroke="#c0a4c8" stroke-width="0.55"/>
<line x1="156.35" y1="310.88" x2="161.20" y2="310.88" stroke="#c0a4c8" stroke-width="0.55"/>
<line x1="156.35" y1="313.22" x2="161.20" y2="313.22" stroke="#c0a4c8" stroke-width="0.55"/>
<line x1="156.35" y1="315.55" x2="161.20" y2="315.55" stroke="#c0a4c8" stroke-width="0.55"/>
<line x1="156.35" y1="317.89" x2="161.20" y2="317.89" stroke="#c0a4c8" stroke-width="0.55"/>
<line x1="156.35" y1="320.22" x2="161.20" y2="320.22" stroke="#c0a4c8" stroke-width="0.55"/>
<line x1="156.35" y1="322.56" x2="161.20" y2="322.56" stroke="#c0a4c8" stroke-width="0.55"/>
<line x1="156.35" y1="324.89" x2="161.20" y2="324.89" stroke="#c0a4c8" stroke-width="0.55"/>
<line x1="156.35" y1="327.23" x2="161.20" y2="327.23" stroke="#c0a4c8" stroke-width="0.55"/>
<line x1="156.35" y1="329.56" x2="161.20" y2="329.56" stroke="#c0a4c8" stroke-width="0.55"/>
<line x1="156.35" y1="331.90" x2="161.20" y2="331.90" stroke="#c0a4c8" stroke-width="0.55"/>
<line x1="156.35" y1="334.23" x2="161.20" y2="334.23" stroke="#c0a4c8" stroke-width="0.55"/>
<line x1="156.35" y1="336.57" x2="161.20" y2="336.57" stroke="#c0a4c8" stroke-width="0.55"/>
<line x1="156.35" y1="338.90" x2="161.20" y2="338.90" stroke="#c0a4c8" stroke-width="0.55"/>
<line x1="156.35" y1="341.24" x2="161.20" y2="341.24" stroke="#c0a4c8" stroke-width="0.55"/>
<line x1="156.35" y1="343.57" x2="161.20" y2="343.57" stroke="#c0a4c8" stroke-width="0.55"/>
<line x1="156.35" y1="345.91" x2="161.20" y2="345.91" stroke="#c0a4c8" stroke-width="0.55"/>
<line x1="156.35" y1="348.24" x2="161.20" y2="348.24" stroke="#c0a4c8" stroke-width="0.55"/>
<line x1="156.35" y1="350.58" x2="161.20" y2="350.58" stroke="#c0a4c8" stroke-width="0.55"/>
<line x1="156.35" y1="352.91" x2="161.20" y2="352.91" stroke="#c0a4c8" stroke-width="0.55"/>
<line x1="156.35" y1="355.25" x2="161.20" y2="355.25" stroke="#c0a4c8" stroke-width="0.55"/>
<line x1="156.35" y1="357.58" x2="161.20" y2="357.58" stroke="#c0a4c8" stroke-width="0.55"/>
<line x1="156.35" y1="359.92" x2="161.20" y2="359.92" stroke="#c0a4c8" stroke-width="0.55"/>
<line x1="156.35" y1="362.25" x2="161.20" y2="362.25" stroke="#c0a4c8" stroke-width="0.55"/>
<line x1="156.35" y1="364.59" x2="161.20" y2="364.59" stroke="#c0a4c8" stroke-width="0.55"/>
<line x1="156.35" y1="366.92" x2="161.20" y2="366.92" stroke="#c0a4c8" stroke-width="0.55"/>
<line x1="156.35" y1="369.26" x2="161.20" y2="369.26" stroke="#c0a4c8" stroke-width="0.55"/>
<line x1="156.35" y1="371.59" x2="161.20" y2="371.59" stroke="#c0a4c8" stroke-width="0.55"/>
<line x1="156.35" y1="373.93" x2="161.20" y2="373.93" stroke="#c0a4c8" stroke-width="0.55"/>
<line x1="156.35" y1="376.26" x2="161.20" y2="376.26" stroke="#c0a4c8" stroke-width="0.55"/>
<line x1="156.35" y1="378.60" x2="161.20" y2="378.60" stroke="#c0a4c8" stroke-width="0.55"/>
<line x1="156.35" y1="380.93" x2="161.20" y2="380.93" stroke="#c0a4c8" stroke-width="0.55"/>
<line x1="156.35" y1="383.27" x2="161.20" y2="383.27" stroke="#c0a4c8" stroke-width="0.55"/>
<line x1="156.35" y1="385.60" x2="161.20" y2="385.60" stroke="#c0a4c8" stroke-width="0.55"/>
<line x1="156.35" y1="387.94" x2="161.20" y2="387.94" stroke="#c0a4c8" stroke-width="0.55"/>
<line x1="156.35" y1="390.27" x2="161.20" y2="390.27" stroke="#c0a4c8" stroke-width="0.55"/>
<line x1="156.35" y1="392.61" x2="161.20" y2="392.61" stroke="#c0a4c8" stroke-width="0.55"/>
<line x1="156.35" y1="394.94" x2="161.20" y2="394.94" stroke="#c0a4c8" stroke-width="0.55"/>
<line x1="156.35" y1="397.28" x2="161.20" y2="397.28" stroke="#c0a4c8" stroke-width="0.55"/>
<line x1="156.35" y1="399.61" x2="161.20" y2="399.61" stroke="#c0a4c8" stroke-width="0.55"/>
<line x1="156.35" y1="401.95" x2="161.20" y2="401.95" stroke="#c0a4c8" stroke-width="0.55"/>
<line x1="156.35" y1="404.28" x2="161.20" y2="404.28" stroke="#c0a4c8" stroke-width="0.55"/>
<line x1="156.35" y1="406.62" x2="161.20" y2="406.62" stroke="#c0a4c8" stroke-width="0.55"/>
<line x1="156.35" y1="408.95" x2="161.20" y2="408.95" stroke="#c0a4c8" stroke-width="0.55"/>
<line x1="156.35" y1="411.29" x2="161.20" y2="411.29" stroke="#c0a4c8" stroke-width="0.55"/>
<line x1="156.35" y1="413.62" x2="161.20" y2="413.62" stroke="#c0a4c8" stroke-width="0.55"/>
<line x1="156.35" y1="415.96" x2="161.20" y2="415.96" stroke="#c0a4c8" stroke-width="0.55"/>
<line x1="156.35" y1="418.29" x2="161.20" y2="418.29" stroke="#c0a4c8" stroke-width="0.55"/>
<line x1="156.35" y1="420.63" x2="161.20" y2="420.63" stroke="#c0a4c8" stroke-width="0.55"/>
<line x1="156.35" y1="422.96" x2="161.20" y2="422.96" stroke="#c0a4c8" stroke-width="0.55"/>
<line x1="156.35" y1="425.30" x2="161.20" y2="425.30" stroke="#c0a4c8" stroke-width="0.55"/>
<line x1="156.35" y1="427.63" x2="161.20" y2="427.63" stroke="#c0a4c8" stroke-width="0.55"/>
<line x1="156.35" y1="429.97" x2="161.20" y2="429.97" stroke="#c0a4c8" stroke-width="0.55"/>
<line x1="156.35" y1="432.30" x2="161.20" y2="432.30" stroke="#c0a4c8" stroke-width="0.55"/>
<line x1="156.35" y1="434.64" x2="161.20" y2="434.64" stroke="#c0a4c8" stroke-width="0.55"/>
<line x1="156.35" y1="436.97" x2="161.20" y2="436.97" stroke="#c0a4c8" stroke-width="0.55"/>
<line x1="156.35" y1="439.31" x2="161.20" y2="439.31" stroke="#c0a4c8" stroke-width="0.55"/>
<line x1="156.35" y1="441.64" x2="161.20" y2="441.64" stroke="#c0a4c8" stroke-width="0.55"/>
<line x1="156.35" y1="443.98" x2="161.20" y2="443.98" stroke="#c0a4c8" stroke-width="0.55"/>
<line x1="156.35" y1="446.31" x2="161.20" y2="446.31" stroke="#c0a4c8" stroke-width="0.55"/>
<line x1="156.35" y1="448.65" x2="161.20" y2="448.65" stroke="#c0a4c8" stroke-width="0.55"/>
<line x1="156.35" y1="450.98" x2="161.20" y2="450.98" stroke="#c0a4c8" stroke-width="0.55"/>
<line x1="156.35" y1="453.32" x2="161.20" y2="453.32" stroke="#c0a4c8" stroke-width="0.55"/>
<line x1="156.35" y1="455.65" x2="161.20" y2="455.65" stroke="#c0a4c8" stroke-width="0.55"/>
<line x1="156.35" y1="457.99" x2="161.20" y2="457.99" stroke="#c0a4c8" stroke-width="0.55"/>
<line x1="156.35" y1="460.32" x2="161.20" y2="460.32" stroke="#c0a4c8" stroke-width="0.55"/>
<line x1="156.35" y1="462.66" x2="161.20" y2="462.66" stroke="#c0a4c8" stroke-width="0.55"/>
<line x1="156.35" y1="464.99" x2="161.20" y2="464.99" stroke="#c0a4c8" stroke-width="0.55"/>
<line x1="156.35" y1="467.33" x2="161.20" y2="467.33" stroke="#c0a4c8" stroke-width="0.55"/>
<line x1="156.35" y1="469.66" x2="161.20" y2="469.66" stroke="#c0a4c8" stroke-width="0.55"/>
<line x1="156.35" y1="472.00" x2="161.20" y2="472.00" stroke="#c0a4c8" stroke-width="0.55"/>
<line x1="156.35" y1="474.33" x2="161.20" y2="474.33" stroke="#c0a4c8" stroke-width="0.55"/>
<line x1="156.35" y1="476.67" x2="161.20" y2="476.67" stroke="#c0a4c8" stroke-width="0.55"/>
<line x1="161.20" y1="240.83" x2="166.05" y2="240.83" stroke="#c0a4c8" stroke-width="0.55"/>
<line x1="161.20" y1="243.17" x2="166.05" y2="243.17" stroke="#c0a4c8" stroke-width="0.55"/>
<line x1="161.20" y1="245.50" x2="166.05" y2="245.50" stroke="#c0a4c8" stroke-width="0.55"/>
<line x1="161.20" y1="247.84" x2="166.05" y2="247.84" stroke="#c0a4c8" stroke-width="0.55"/>
<line x1="161.20" y1="250.17" x2="166.05" y2="250.17" stroke="#c0a4c8" stroke-width="0.55"/>
<line x1="161.20" y1="252.51" x2="166.05" y2="252.51" stroke="#c0a4c8" stroke-width="0.55"/>
<line x1="161.20" y1="254.84" x2="166.05" y2="254.84" stroke="#c0a4c8" stroke-width="0.55"/>
<line x1="161.20" y1="257.18" x2="166.05" y2="257.18" stroke="#c0a4c8" stroke-width="0.55"/>
<line x1="161.20" y1="259.51" x2="166.05" y2="259.51" stroke="#c0a4c8" stroke-width="0.55"/>
<line x1="161.20" y1="261.85" x2="166.05" y2="261.85" stroke="#c0a4c8" stroke-width="0.55"/>
<line x1="161.20" y1="264.18" x2="166.05" y2="264.18" stroke="#c0a4c8" stroke-width="0.55"/>
<line x1="161.20" y1="266.52" x2="166.05" y2="266.52" stroke="#c0a4c8" stroke-width="0.55"/>
<line x1="161.20" y1="268.85" x2="166.05" y2="268.85" stroke="#c0a4c8" stroke-width="0.55"/>
<line x1="161.20" y1="271.19" x2="166.05" y2="271.19" stroke="#c0a4c8" stroke-width="0.55"/>
<line x1="161.20" y1="273.52" x2="166.05" y2="273.52" stroke="#c0a4c8" stroke-width="0.55"/>
<line x1="161.20" y1="275.86" x2="166.05" y2="275.86" stroke="#c0a4c8" stroke-width="0.55"/>
<line x1="161.20" y1="278.19" x2="166.05" y2="278.19" stroke="#c0a4c8" stroke-width="0.55"/>
<line x1="161.20" y1="280.53" x2="166.05" y2="280.53" stroke="#c0a4c8" stroke-width="0.55"/>
<line x1="161.20" y1="282.86" x2="166.05" y2="282.86" stroke="#c0a4c8" stroke-width="0.55"/>
<line x1="161.20" y1="285.20" x2="166.05" y2="285.20" stroke="#c0a4c8" stroke-width="0.55"/>
<line x1="161.20" y1="287.53" x2="166.05" y2="287.53" stroke="#c0a4c8" stroke-width="0.55"/>
<line x1="161.20" y1="289.87" x2="166.05" y2="289.87" stroke="#c0a4c8" stroke-width="0.55"/>
<line x1="161.20" y1="292.20" x2="166.05" y2="292.20" stroke="#c0a4c8" stroke-width="0.55"/>
<line x1="161.20" y1="294.54" x2="166.05" y2="294.54" stroke="#c0a4c8" stroke-width="0.55"/>
<line x1="161.20" y1="296.87" x2="166.05" y2="296.87" stroke="#c0a4c8" stroke-width="0.55"/>
<line x1="161.20" y1="299.21" x2="166.05" y2="299.21" stroke="#c0a4c8" stroke-width="0.55"/>
<line x1="161.20" y1="301.54" x2="166.05" y2="301.54" stroke="#c0a4c8" stroke-width="0.55"/>
<line x1="161.20" y1="303.88" x2="166.05" y2="303.88" stroke="#c0a4c8" stroke-width="0.55"/>
<line x1="161.20" y1="306.21" x2="166.05" y2="306.21" stroke="#c0a4c8" stroke-width="0.55"/>
<line x1="161.20" y1="308.55" x2="166.05" y2="308.55" stroke="#c0a4c8" stroke-width="0.55"/>
<line x1="161.20" y1="310.88" x2="166.05" y2="310.88" stroke="#c0a4c8" stroke-width="0.55"/>
<line x1="161.20" y1="313.22" x2="166.05" y2="313.22" stroke="#c0a4c8" stroke-width="0.55"/>
<line x1="161.20" y1="315.55" x2="166.05" y2="315.55" stroke="#c0a4c8" stroke-width="0.55"/>
<line x1="161.20" y1="317.89" x2="166.05" y2="317.89" stroke="#c0a4c8" stroke-width="0.55"/>
<line x1="161.20" y1="320.22" x2="166.05" y2="320.22" stroke="#c0a4c8" stroke-width="0.55"/>
<line x1="161.20" y1="322.56" x2="166.05" y2="322.56" stroke="#c0a4c8" stroke-width="0.55"/>
<line x1="161.20" y1="324.89" x2="166.05" y2="324.89" stroke="#c0a4c8" stroke-width="0.55"/>
<line x1="161.20" y1="327.23" x2="166.05" y2="327.23" stroke="#c0a4c8" stroke-width="0.55"/>
<line x1="161.20" y1="329.56" x2="166.05" y2="329.56" stroke="#c0a4c8" stroke-width="0.55"/>
<line x1="161.20" y1="331.90" x2="166.05" y2="331.90" stroke="#c0a4c8" stroke-width="0.55"/>
<line x1="161.20" y1="334.23" x2="166.05" y2="334.23" stroke="#c0a4c8" stroke-width="0.55"/>
<line x1="161.20" y1="336.57" x2="166.05" y2="336.57" stroke="#c0a4c8" stroke-width="0.55"/>
<line x1="161.20" y1="338.90" x2="166.05" y2="338.90" stroke="#c0a4c8" stroke-width="0.55"/>
<line x1="161.20" y1="341.24" x2="166.05" y2="341.24" stroke="#c0a4c8" stroke-width="0.55"/>
<line x1="161.20" y1="343.57" x2="166.05" y2="343.57" stroke="#c0a4c8" stroke-width="0.55"/>
<line x1="161.20" y1="345.91" x2="166.05" y2="345.91" stroke="#c0a4c8" stroke-width="0.55"/>
<line x1="161.20" y1="348.24" x2="166.05" y2="348.24" stroke="#c0a4c8" stroke-width="0.55"/>
<line x1="161.20" y1="350.58" x2="166.05" y2="350.58" stroke="#c0a4c8" stroke-width="0.55"/>
<line x1="161.20" y1="352.91" x2="166.05" y2="352.91" stroke="#c0a4c8" stroke-width="0.55"/>
<line x1="161.20" y1="355.25" x2="166.05" y2="355.25" stroke="#c0a4c8" stroke-width="0.55"/>
<line x1="161.20" y1="357.58" x2="166.05" y2="357.58" stroke="#c0a4c8" stroke-width="0.55"/>
<line x1="161.20" y1="359.92" x2="166.05" y2="359.92" stroke="#c0a4c8" stroke-width="0.55"/>
<line x1="161.20" y1="362.25" x2="166.05" y2="362.25" stroke="#c0a4c8" stroke-width="0.55"/>
<line x1="161.20" y1="364.59" x2="166.05" y2="364.59" stroke="#c0a4c8" stroke-width="0.55"/>
<line x1="161.20" y1="366.92" x2="166.05" y2="366.92" stroke="#c0a4c8" stroke-width="0.55"/>
<line x1="161.20" y1="369.26" x2="166.05" y2="369.26" stroke="#c0a4c8" stroke-width="0.55"/>
<line x1="161.20" y1="371.59" x2="166.05" y2="371.59" stroke="#c0a4c8" stroke-width="0.55"/>
<line x1="161.20" y1="373.93" x2="166.05" y2="373.93" stroke="#c0a4c8" stroke-width="0.55"/>
<line x1="161.20" y1="376.26" x2="166.05" y2="376.26" stroke="#c0a4c8" stroke-width="0.55"/>
<line x1="161.20" y1="378.60" x2="166.05" y2="378.60" stroke="#c0a4c8" stroke-width="0.55"/>
<line x1="161.20" y1="380.93" x2="166.05" y2="380.93" stroke="#c0a4c8" stroke-width="0.55"/>
<line x1="161.20" y1="383.27" x2="166.05" y2="383.27" stroke="#c0a4c8" stroke-width="0.55"/>
<line x1="161.20" y1="385.60" x2="166.05" y2="385.60" stroke="#c0a4c8" stroke-width="0.55"/>
<line x1="161.20" y1="387.94" x2="166.05" y2="387.94" stroke="#c0a4c8" stroke-width="0.55"/>
<line x1="161.20" y1="390.27" x2="166.05" y2="390.27" stroke="#c0a4c8" stroke-width="0.55"/>
<line x1="161.20" y1="392.61" x2="166.05" y2="392.61" stroke="#c0a4c8" stroke-width="0.55"/>
<line x1="161.20" y1="394.94" x2="166.05" y2="394.94" stroke="#c0a4c8" stroke-width="0.55"/>
<line x1="161.20" y1="397.28" x2="166.05" y2="397.28" stroke="#c0a4c8" stroke-width="0.55"/>
<line x1="161.20" y1="399.61" x2="166.05" y2="399.61" stroke="#c0a4c8" stroke-width="0.55"/>
<line x1="161.20" y1="401.95" x2="166.05" y2="401.95" stroke="#c0a4c8" stroke-width="0.55"/>
<line x1="161.20" y1="404.28" x2="166.05" y2="404.28" stroke="#c0a4c8" stroke-width="0.55"/>
<line x1="161.20" y1="406.62" x2="166.05" y2="406.62" stroke="#c0a4c8" stroke-width="0.55"/>
<line x1="161.20" y1="408.95" x2="166.05" y2="408.95" stroke="#c0a4c8" stroke-width="0.55"/>
<line x1="161.20" y1="411.29" x2="166.05" y2="411.29" stroke="#c0a4c8" stroke-width="0.55"/>
<line x1="161.20" y1="413.62" x2="166.05" y2="413.62" stroke="#c0a4c8" stroke-width="0.55"/>
<line x1="161.20" y1="415.96" x2="166.05" y2="415.96" stroke="#c0a4c8" stroke-width="0.55"/>
<line x1="161.20" y1="418.29" x2="166.05" y2="418.29" stroke="#c0a4c8" stroke-width="0.55"/>
<line x1="161.20" y1="420.63" x2="166.05" y2="420.63" stroke="#c0a4c8" stroke-width="0.55"/>
<line x1="161.20" y1="422.96" x2="166.05" y2="422.96" stroke="#c0a4c8" stroke-width="0.55"/>
<line x1="161.20" y1="425.30" x2="166.05" y2="425.30" stroke="#c0a4c8" stroke-width="0.55"/>
<line x1="161.20" y1="427.63" x2="166.05" y2="427.63" stroke="#c0a4c8" stroke-width="0.55"/>
<line x1="161.20" y1="429.97" x2="166.05" y2="429.97" stroke="#c0a4c8" stroke-width="0.55"/>
<line x1="161.20" y1="432.30" x2="166.05" y2="432.30" stroke="#c0a4c8" stroke-width="0.55"/>
<line x1="161.20" y1="434.64" x2="166.05" y2="434.64" stroke="#c0a4c8" stroke-width="0.55"/>
<line x1="161.20" y1="436.97" x2="166.05" y2="436.97" stroke="#c0a4c8" stroke-width="0.55"/>
<line x1="161.20" y1="439.31" x2="166.05" y2="439.31" stroke="#c0a4c8" stroke-width="0.55"/>
<line x1="161.20" y1="441.64" x2="166.05" y2="441.64" stroke="#c0a4c8" stroke-width="0.55"/>
<line x1="161.20" y1="443.98" x2="166.05" y2="443.98" stroke="#c0a4c8" stroke-width="0.55"/>
<line x1="161.20" y1="446.31" x2="166.05" y2="446.31" stroke="#c0a4c8" stroke-width="0.55"/>
<line x1="161.20" y1="448.65" x2="166.05" y2="448.65" stroke="#c0a4c8" stroke-width="0.55"/>
<line x1="161.20" y1="450.98" x2="166.05" y2="450.98" stroke="#c0a4c8" stroke-width="0.55"/>
<line x1="161.20" y1="453.32" x2="166.05" y2="453.32" stroke="#c0a4c8" stroke-width="0.55"/>
<line x1="161.20" y1="455.65" x2="166.05" y2="455.65" stroke="#c0a4c8" stroke-width="0.55"/>
<line x1="161.20" y1="457.99" x2="166.05" y2="457.99" stroke="#c0a4c8" stroke-width="0.55"/>
<line x1="161.20" y1="460.32" x2="166.05" y2="460.32" stroke="#c0a4c8" stroke-width="0.55"/>
<line x1="161.20" y1="462.66" x2="166.05" y2="462.66" stroke="#c0a4c8" stroke-width="0.55"/>
<line x1="161.20" y1="464.99" x2="166.05" y2="464.99" stroke="#c0a4c8" stroke-width="0.55"/>
<line x1="161.20" y1="467.33" x2="166.05" y2="467.33" stroke="#c0a4c8" stroke-width="0.55"/>
<line x1="161.20" y1="469.66" x2="166.05" y2="469.66" stroke="#c0a4c8" stroke-width="0.55"/>
<line x1="161.20" y1="472.00" x2="166.05" y2="472.00" stroke="#c0a4c8" stroke-width="0.55"/>
<line x1="161.20" y1="474.33" x2="166.05" y2="474.33" stroke="#c0a4c8" stroke-width="0.55"/>
<line x1="161.20" y1="476.67" x2="166.05" y2="476.67" stroke="#c0a4c8" stroke-width="0.55"/>
<line x1="151.6" y1="238.5" x2="151.6" y2="479" stroke="#b090b8" stroke-width="0.6"/><line x1="156.35" y1="238.5" x2="156.35" y2="479" stroke="#c0a0c8" stroke-width="0.5"/><line x1="161.2" y1="238.5" x2="161.2" y2="479" stroke="#c0a0c8" stroke-width="0.5"/>
<rect x="170.9" y="238.5" width="2.5" height="240.5" fill="#fbeef8"/>
<rect x="173.40" y="238.50" width="5.17" height="240.50" fill="#1c06dc"/>
<rect x="178.18" y="238.50" width="5.17" height="7.40" fill="#1c06dc"/>
<rect x="178.18" y="245.50" width="5.17" height="2.73" fill="#5010c8"/>
<rect x="178.18" y="247.84" width="5.17" height="16.74" fill="#1c06dc"/>
<rect x="178.18" y="264.18" width="5.17" height="2.73" fill="#8a0aa0"/>
<rect x="178.18" y="266.52" width="5.17" height="2.73" fill="#1c06dc"/>
<rect x="178.18" y="268.85" width="5.17" height="2.73" fill="#f0081c"/>
<rect x="178.18" y="271.19" width="5.17" height="16.74" fill="#1c06dc"/>
<rect x="178.18" y="287.53" width="5.17" height="2.73" fill="#8a0aa0"/>
<rect x="178.18" y="289.87" width="5.17" height="14.41" fill="#1c06dc"/>
<rect x="178.18" y="303.88" width="5.17" height="2.73" fill="#5010c8"/>
<rect x="178.18" y="306.21" width="5.17" height="2.73" fill="#1c06dc"/>
<rect x="178.18" y="308.55" width="5.17" height="2.73" fill="#5010c8"/>
<rect x="178.18" y="310.88" width="5.17" height="33.09" fill="#1c06dc"/>
<rect x="178.18" y="343.57" width="5.17" height="2.73" fill="#8a0aa0"/>
<rect x="178.18" y="345.91" width="5.17" height="28.42" fill="#1c06dc"/>
<rect x="178.18" y="373.93" width="5.17" height="2.73" fill="#8a0aa0"/>
<rect x="178.18" y="376.26" width="5.17" height="9.74" fill="#1c06dc"/>
<rect x="178.18" y="385.60" width="5.17" height="2.73" fill="#f0081c"/>
<rect x="178.18" y="387.94" width="5.17" height="7.40" fill="#1c06dc"/>
<rect x="178.18" y="394.94" width="5.17" height="2.73" fill="#5010c8"/>
<rect x="178.18" y="397.28" width="5.17" height="14.41" fill="#1c06dc"/>
<rect x="178.18" y="411.29" width="5.17" height="2.73" fill="#5010c8"/>
<rect x="178.18" y="413.62" width="5.17" height="7.40" fill="#1c06dc"/>
<rect x="178.18" y="420.63" width="5.17" height="2.73" fill="#5010c8"/>
<rect x="178.18" y="422.96" width="5.17" height="2.73" fill="#1c06dc"/>
<rect x="178.18" y="425.30" width="5.17" height="2.73" fill="#f0081c"/>
<rect x="178.18" y="427.63" width="5.17" height="2.73" fill="#1c06dc"/>
<rect x="178.18" y="429.97" width="5.17" height="2.73" fill="#8a0aa0"/>
<rect x="178.18" y="432.30" width="5.17" height="12.07" fill="#1c06dc"/>
<rect x="178.18" y="443.98" width="5.17" height="2.73" fill="#8a0aa0"/>
<rect x="178.18" y="446.31" width="5.17" height="5.07" fill="#1c06dc"/>
<rect x="178.18" y="450.98" width="5.17" height="2.73" fill="#5010c8"/>
<rect x="178.18" y="453.32" width="5.17" height="25.68" fill="#1c06dc"/>
<rect x="182.95" y="238.50" width="5.17" height="12.07" fill="#1c06dc"/>
<rect x="182.95" y="250.17" width="5.17" height="2.73" fill="#5010c8"/>
<rect x="182.95" y="252.51" width="5.17" height="5.07" fill="#1c06dc"/>
<rect x="182.95" y="257.18" width="5.17" height="2.73" fill="#5010c8"/>
<rect x="182.95" y="259.51" width="5.17" height="5.07" fill="#1c06dc"/>
<rect x="182.95" y="264.18" width="5.17" height="2.73" fill="#f0081c"/>
<rect x="182.95" y="266.52" width="5.17" height="2.73" fill="#5010c8"/>
<rect x="182.95" y="268.85" width="5.17" height="2.73" fill="#f0081c"/>
<rect x="182.95" y="271.19" width="5.17" height="7.40" fill="#1c06dc"/>
<rect x="182.95" y="278.19" width="5.17" height="2.73" fill="#5010c8"/>
<rect x="182.95" y="280.53" width="5.17" height="5.07" fill="#1c06dc"/>
<rect x="182.95" y="285.20" width="5.17" height="2.73" fill="#5010c8"/>
<rect x="182.95" y="287.53" width="5.17" height="2.73" fill="#f0081c"/>
<rect x="182.95" y="289.87" width="5.17" height="54.10" fill="#1c06dc"/>
<rect x="182.95" y="343.57" width="5.17" height="2.73" fill="#f0081c"/>
<rect x="182.95" y="345.91" width="5.17" height="5.07" fill="#1c06dc"/>
<rect x="182.95" y="350.58" width="5.17" height="2.73" fill="#5010c8"/>
<rect x="182.95" y="352.91" width="5.17" height="14.41" fill="#1c06dc"/>
<rect x="182.95" y="366.92" width="5.17" height="5.07" fill="#5010c8"/>
<rect x="182.95" y="371.59" width="5.17" height="2.73" fill="#1c06dc"/>
<rect x="182.95" y="373.93" width="5.17" height="2.73" fill="#f0081c"/>
<rect x="182.95" y="376.26" width="5.17" height="2.73" fill="#1c06dc"/>
<rect x="182.95" y="378.60" width="5.17" height="2.73" fill="#5010c8"/>
<rect x="182.95" y="380.93" width="5.17" height="5.07" fill="#1c06dc"/>
<rect x="182.95" y="385.60" width="5.17" height="2.73" fill="#f0081c"/>
<rect x="182.95" y="387.94" width="5.17" height="2.73" fill="#5010c8"/>
<rect x="182.95" y="390.27" width="5.17" height="2.73" fill="#1c06dc"/>
<rect x="182.95" y="392.61" width="5.17" height="5.07" fill="#5010c8"/>
<rect x="182.95" y="397.28" width="5.17" height="2.73" fill="#1c06dc"/>
<rect x="182.95" y="399.61" width="5.17" height="2.73" fill="#5010c8"/>
<rect x="182.95" y="401.95" width="5.17" height="23.75" fill="#1c06dc"/>
<rect x="182.95" y="425.30" width="5.17" height="2.73" fill="#f0081c"/>
<rect x="182.95" y="427.63" width="5.17" height="2.73" fill="#1c06dc"/>
<rect x="182.95" y="429.97" width="5.17" height="2.73" fill="#f0081c"/>
<rect x="182.95" y="432.30" width="5.17" height="2.73" fill="#1c06dc"/>
<rect x="182.95" y="434.64" width="5.17" height="2.73" fill="#5010c8"/>
<rect x="182.95" y="436.97" width="5.17" height="7.40" fill="#1c06dc"/>
<rect x="182.95" y="443.98" width="5.17" height="2.73" fill="#f0081c"/>
<rect x="182.95" y="446.31" width="5.17" height="2.73" fill="#1c06dc"/>
<rect x="182.95" y="448.65" width="5.17" height="2.73" fill="#5010c8"/>
<rect x="182.95" y="450.98" width="5.17" height="2.73" fill="#1c06dc"/>
<rect x="182.95" y="453.32" width="5.17" height="9.74" fill="#5010c8"/>
<rect x="182.95" y="462.66" width="5.17" height="7.40" fill="#1c06dc"/>
<rect x="182.95" y="469.66" width="5.17" height="2.73" fill="#5010c8"/>
<rect x="182.95" y="472.00" width="5.17" height="5.07" fill="#1c06dc"/>
<rect x="182.95" y="476.67" width="5.17" height="2.33" fill="#5010c8"/>
<rect x="187.72" y="238.50" width="4.77" height="240.50" fill="#f0081c"/>
<rect x="323.30" y="245.00" width="7.32" height="2.74" fill="#f6dcec"/>
<rect x="323.30" y="247.34" width="7.32" height="7.43" fill="#fbe4f2"/>
<rect x="323.30" y="254.37" width="7.32" height="2.74" fill="#f6dcec"/>
<rect x="323.30" y="256.72" width="7.32" height="2.74" fill="#fbe4f2"/>
<rect x="323.30" y="259.06" width="7.32" height="2.74" fill="#f6dcec"/>
<rect x="323.30" y="261.40" width="7.32" height="2.74" fill="#fbe4f2"/>
<rect x="323.30" y="263.75" width="7.32" height="5.09" fill="#f6dcec"/>
<rect x="323.30" y="268.43" width="7.32" height="14.46" fill="#fbe4f2"/>
<rect x="323.30" y="282.50" width="7.32" height="7.43" fill="#f6dcec"/>
<rect x="323.30" y="289.53" width="7.32" height="2.74" fill="#fbe4f2"/>
<rect x="323.30" y="291.87" width="7.32" height="2.74" fill="#f6dcec"/>
<rect x="323.30" y="294.21" width="7.32" height="19.15" fill="#fbe4f2"/>
<rect x="323.30" y="312.96" width="7.32" height="2.74" fill="#f6dcec"/>
<rect x="323.30" y="315.30" width="7.32" height="5.09" fill="#fbe4f2"/>
<rect x="323.30" y="319.99" width="7.32" height="5.09" fill="#f6dcec"/>
<rect x="323.30" y="324.68" width="7.32" height="2.74" fill="#fbe4f2"/>
<rect x="323.30" y="327.02" width="7.32" height="2.74" fill="#f6dcec"/>
<rect x="323.30" y="329.36" width="7.32" height="7.43" fill="#fbe4f2"/>
<rect x="323.30" y="336.39" width="7.32" height="2.74" fill="#f6dcec"/>
<rect x="323.30" y="338.74" width="7.32" height="9.77" fill="#fbe4f2"/>
<rect x="323.30" y="348.11" width="7.32" height="2.74" fill="#f6dcec"/>
<rect x="323.30" y="350.46" width="7.32" height="9.77" fill="#fbe4f2"/>
<rect x="323.30" y="359.83" width="7.32" height="2.74" fill="#f6dcec"/>
<rect x="323.30" y="362.17" width="7.32" height="9.77" fill="#fbe4f2"/>
<rect x="323.30" y="371.55" width="7.32" height="2.74" fill="#f6dcec"/>
<rect x="323.30" y="373.89" width="7.32" height="7.43" fill="#fbe4f2"/>
<rect x="323.30" y="380.92" width="7.32" height="2.74" fill="#f6dcec"/>
<rect x="323.30" y="383.26" width="7.32" height="2.74" fill="#fbe4f2"/>
<rect x="323.30" y="385.61" width="7.32" height="2.74" fill="#f6dcec"/>
<rect x="323.30" y="387.95" width="7.32" height="7.43" fill="#fbe4f2"/>
<rect x="323.30" y="394.98" width="7.32" height="5.09" fill="#f6dcec"/>
<rect x="323.30" y="399.67" width="7.32" height="9.77" fill="#fbe4f2"/>
<rect x="323.30" y="409.04" width="7.32" height="5.09" fill="#f6dcec"/>
<rect x="323.30" y="413.73" width="7.32" height="7.43" fill="#fbe4f2"/>
<rect x="323.30" y="420.76" width="7.32" height="5.09" fill="#f6dcec"/>
<rect x="323.30" y="425.45" width="7.32" height="7.43" fill="#fbe4f2"/>
<rect x="323.30" y="432.48" width="7.32" height="2.74" fill="#f6dcec"/>
<rect x="323.30" y="434.82" width="7.32" height="5.09" fill="#fbe4f2"/>
<rect x="323.30" y="439.51" width="7.32" height="2.74" fill="#f6dcec"/>
<rect x="323.30" y="441.85" width="7.32" height="5.09" fill="#fbe4f2"/>
<rect x="323.30" y="446.54" width="7.32" height="2.74" fill="#f6dcec"/>
<rect x="323.30" y="448.88" width="7.32" height="30.86" fill="#fbe4f2"/>
<rect x="323.30" y="479.34" width="7.32" height="9.77" fill="#f6dcec"/>
<rect x="323.30" y="488.72" width="7.32" height="16.80" fill="#fbe4f2"/>
<rect x="323.30" y="505.12" width="7.32" height="2.74" fill="#f6dcec"/>
<rect x="323.30" y="507.47" width="7.32" height="2.74" fill="#fbe4f2"/>
<rect x="323.30" y="509.81" width="7.32" height="2.74" fill="#f6dcec"/>
<rect x="323.30" y="512.15" width="7.32" height="19.15" fill="#fbe4f2"/>
<rect x="323.30" y="530.90" width="7.32" height="2.74" fill="#f6dcec"/>
<rect x="323.30" y="533.24" width="7.32" height="5.09" fill="#fbe4f2"/>
<rect x="323.30" y="537.93" width="7.32" height="2.74" fill="#f6dcec"/>
<rect x="323.30" y="540.27" width="7.32" height="5.09" fill="#fbe4f2"/>
<rect x="323.30" y="544.96" width="7.32" height="2.74" fill="#f6dcec"/>
<rect x="323.30" y="547.30" width="7.32" height="14.46" fill="#fbe4f2"/>
<rect x="323.30" y="561.37" width="7.32" height="2.74" fill="#f6dcec"/>
<rect x="323.30" y="563.71" width="7.32" height="2.74" fill="#fbe4f2"/>
<rect x="323.30" y="566.05" width="7.32" height="2.74" fill="#f6dcec"/>
<rect x="323.30" y="568.40" width="7.32" height="2.74" fill="#fbe4f2"/>
<rect x="323.30" y="570.74" width="7.32" height="2.74" fill="#f6dcec"/>
<rect x="323.30" y="573.08" width="7.32" height="5.09" fill="#fbe4f2"/>
<rect x="323.30" y="577.77" width="7.32" height="2.74" fill="#f6dcec"/>
<rect x="323.30" y="580.11" width="7.32" height="4.69" fill="#fbe4f2"/>
<rect x="330.23" y="245.00" width="7.32" height="14.46" fill="#fbe4f2"/>
<rect x="330.23" y="259.06" width="7.32" height="2.74" fill="#dcdcfa"/>
<rect x="330.23" y="261.40" width="7.32" height="2.74" fill="#b8b8f4"/>
<rect x="330.23" y="263.75" width="7.32" height="9.77" fill="#dcdcfa"/>
<rect x="330.23" y="273.12" width="7.32" height="9.77" fill="#fbe4f2"/>
<rect x="330.23" y="282.50" width="7.32" height="5.09" fill="#f0dcf0"/>
<rect x="330.23" y="287.18" width="7.32" height="2.74" fill="#fbe4f2"/>
<rect x="330.23" y="289.53" width="7.32" height="2.74" fill="#f0dcf0"/>
<rect x="330.23" y="291.87" width="7.32" height="2.74" fill="#f4d4e4"/>
<rect x="330.23" y="294.21" width="7.32" height="12.12" fill="#fbe4f2"/>
<rect x="330.23" y="305.93" width="7.32" height="2.74" fill="#f4d4e4"/>
<rect x="330.23" y="308.27" width="7.32" height="2.74" fill="#fbe4f2"/>
<rect x="330.23" y="310.62" width="7.32" height="7.43" fill="#f0dcf0"/>
<rect x="330.23" y="317.65" width="7.32" height="7.43" fill="#fbe4f2"/>
<rect x="330.23" y="324.68" width="7.32" height="7.43" fill="#f0dcf0"/>
<rect x="330.23" y="331.71" width="7.32" height="2.74" fill="#fbe4f2"/>
<rect x="330.23" y="334.05" width="7.32" height="2.74" fill="#f0dcf0"/>
<rect x="330.23" y="336.39" width="7.32" height="5.09" fill="#fbe4f2"/>
<rect x="330.23" y="341.08" width="7.32" height="2.74" fill="#f0dcf0"/>
<rect x="330.23" y="343.42" width="7.32" height="7.43" fill="#fbe4f2"/>
<rect x="330.23" y="350.46" width="7.32" height="2.74" fill="#f0dcf0"/>
<rect x="330.23" y="352.80" width="7.32" height="21.49" fill="#fbe4f2"/>
<rect x="330.23" y="373.89" width="7.32" height="5.09" fill="#f4d4e4"/>
<rect x="330.23" y="378.58" width="7.32" height="2.74" fill="#fbe4f2"/>
<rect x="330.23" y="380.92" width="7.32" height="2.74" fill="#f4d4e4"/>
<rect x="330.23" y="383.26" width="7.32" height="5.09" fill="#fbe4f2"/>
<rect x="330.23" y="387.95" width="7.32" height="2.74" fill="#f0dcf0"/>
<rect x="330.23" y="390.29" width="7.32" height="2.74" fill="#fbe4f2"/>
<rect x="330.23" y="392.64" width="7.32" height="2.74" fill="#f0dcf0"/>
<rect x="330.23" y="394.98" width="7.32" height="2.74" fill="#f4d4e4"/>
<rect x="330.23" y="397.32" width="7.32" height="12.12" fill="#fbe4f2"/>
<rect x="330.23" y="409.04" width="7.32" height="2.74" fill="#f0dcf0"/>
<rect x="330.23" y="411.38" width="7.32" height="2.74" fill="#fbe4f2"/>
<rect x="330.23" y="413.73" width="7.32" height="2.74" fill="#f0dcf0"/>
<rect x="330.23" y="416.07" width="7.32" height="5.09" fill="#fbe4f2"/>
<rect x="330.23" y="420.76" width="7.32" height="2.74" fill="#f0dcf0"/>
<rect x="330.23" y="423.10" width="7.32" height="2.74" fill="#fbe4f2"/>
<rect x="330.23" y="425.45" width="7.32" height="2.74" fill="#f4d4e4"/>
<rect x="330.23" y="427.79" width="7.32" height="5.09" fill="#fbe4f2"/>
<rect x="330.23" y="432.48" width="7.32" height="2.74" fill="#f4d4e4"/>
<rect x="330.23" y="434.82" width="7.32" height="9.77" fill="#fbe4f2"/>
<rect x="330.23" y="444.19" width="7.32" height="2.74" fill="#f0dcf0"/>
<rect x="330.23" y="446.54" width="7.32" height="5.09" fill="#fbe4f2"/>
<rect x="330.23" y="451.22" width="7.32" height="5.09" fill="#f0dcf0"/>
<rect x="330.23" y="455.91" width="7.32" height="2.74" fill="#fbe4f2"/>
<rect x="330.23" y="458.25" width="7.32" height="2.74" fill="#f0dcf0"/>
<rect x="330.23" y="460.60" width="7.32" height="5.09" fill="#fbe4f2"/>
<rect x="330.23" y="465.28" width="7.32" height="5.09" fill="#f0dcf0"/>
<rect x="330.23" y="469.97" width="7.32" height="2.74" fill="#fbe4f2"/>
<rect x="330.23" y="472.31" width="7.32" height="5.09" fill="#f0dcf0"/>
<rect x="330.23" y="477.00" width="7.32" height="5.09" fill="#fbe4f2"/>
<rect x="330.23" y="481.69" width="7.32" height="2.74" fill="#f4d4e4"/>
<rect x="330.23" y="484.03" width="7.32" height="9.77" fill="#fbe4f2"/>
<rect x="330.23" y="493.41" width="7.32" height="5.09" fill="#f4d4e4"/>
<rect x="330.23" y="498.09" width="7.32" height="2.74" fill="#fbe4f2"/>
<rect x="330.23" y="500.44" width="7.32" height="2.74" fill="#f0dcf0"/>
<rect x="330.23" y="502.78" width="7.32" height="7.43" fill="#fbe4f2"/>
<rect x="330.23" y="509.81" width="7.32" height="5.09" fill="#f0dcf0"/>
<rect x="330.23" y="514.50" width="7.32" height="7.43" fill="#fbe4f2"/>
<rect x="330.23" y="521.53" width="7.32" height="7.43" fill="#f0dcf0"/>
<rect x="330.23" y="528.56" width="7.32" height="5.09" fill="#fbe4f2"/>
<rect x="330.23" y="533.24" width="7.32" height="2.74" fill="#f4d4e4"/>
<rect x="330.23" y="535.59" width="7.32" height="12.12" fill="#fbe4f2"/>
<rect x="330.23" y="547.30" width="7.32" height="2.74" fill="#f0dcf0"/>
<rect x="330.23" y="549.65" width="7.32" height="7.43" fill="#fbe4f2"/>
<rect x="330.23" y="556.68" width="7.32" height="5.09" fill="#f0dcf0"/>
<rect x="330.23" y="561.37" width="7.32" height="14.46" fill="#fbe4f2"/>
<rect x="330.23" y="575.43" width="7.32" height="2.74" fill="#f0dcf0"/>
<rect x="330.23" y="577.77" width="7.32" height="2.74" fill="#f4d4e4"/>
<rect x="330.23" y="580.11" width="7.32" height="4.69" fill="#fbe4f2"/>
<rect x="337.15" y="245.00" width="7.32" height="2.74" fill="#f8c8d4"/>
<rect x="337.15" y="247.34" width="7.32" height="2.74" fill="#f29098"/>
<rect x="337.15" y="249.69" width="7.32" height="2.74" fill="#ffffff"/>
<rect x="337.15" y="252.03" width="7.32" height="2.74" fill="#f04030"/>
<rect x="337.15" y="254.37" width="7.32" height="5.09" fill="#fbe8f0"/>
<rect x="337.15" y="259.06" width="7.32" height="2.74" fill="#b8b8f4"/>
<rect x="337.15" y="261.40" width="7.32" height="2.74" fill="#ffffff"/>
<rect x="337.15" y="263.75" width="7.32" height="5.09" fill="#b8b8f4"/>
<rect x="337.15" y="268.43" width="7.32" height="5.09" fill="#6060f0"/>
<rect x="337.15" y="273.12" width="7.32" height="5.09" fill="#b8b8f4"/>
<rect x="337.15" y="277.81" width="7.32" height="2.74" fill="#6060f0"/>
<rect x="337.15" y="280.15" width="7.32" height="2.74" fill="#1c06dc"/>
<rect x="337.15" y="282.50" width="7.32" height="2.74" fill="#6060f0"/>
<rect x="337.15" y="284.84" width="7.32" height="7.43" fill="#1c06dc"/>
<rect x="337.15" y="291.87" width="7.32" height="7.43" fill="#b8b8f4"/>
<rect x="337.15" y="298.90" width="7.32" height="5.09" fill="#1c06dc"/>
<rect x="337.15" y="303.59" width="7.32" height="2.74" fill="#b8b8f4"/>
<rect x="337.15" y="305.93" width="7.32" height="2.74" fill="#ffffff"/>
<rect x="337.15" y="308.27" width="7.32" height="5.09" fill="#1c06dc"/>
<rect x="337.15" y="312.96" width="7.32" height="7.43" fill="#6060f0"/>
<rect x="337.15" y="319.99" width="7.32" height="2.74" fill="#b8b8f4"/>
<rect x="337.15" y="322.33" width="7.32" height="5.09" fill="#1c06dc"/>
<rect x="337.15" y="327.02" width="7.32" height="2.74" fill="#ffffff"/>
<rect x="337.15" y="329.36" width="7.32" height="2.74" fill="#9898f0"/>
<rect x="337.15" y="331.71" width="7.32" height="2.74" fill="#b8b8f4"/>
<rect x="337.15" y="334.05" width="7.32" height="2.74" fill="#9898f0"/>
<rect x="337.15" y="336.39" width="7.32" height="2.74" fill="#b8b8f4"/>
<rect x="337.15" y="338.74" width="7.32" height="5.09" fill="#9898f0"/>
<rect x="337.15" y="343.42" width="7.32" height="2.74" fill="#dcdcfa"/>
<rect x="337.15" y="345.77" width="7.32" height="2.74" fill="#9898f0"/>
<rect x="337.15" y="348.11" width="7.32" height="5.09" fill="#b8b8f4"/>
<rect x="337.15" y="352.80" width="7.32" height="2.74" fill="#dcdcfa"/>
<rect x="337.15" y="355.14" width="7.32" height="7.43" fill="#b8b8f4"/>
<rect x="337.15" y="362.17" width="7.32" height="2.74" fill="#ffffff"/>
<rect x="337.15" y="364.52" width="7.32" height="2.74" fill="#dcdcfa"/>
<rect x="337.15" y="366.86" width="7.32" height="2.74" fill="#ffffff"/>
<rect x="337.15" y="369.20" width="7.32" height="2.74" fill="#b8b8f4"/>
<rect x="337.15" y="371.55" width="7.32" height="2.74" fill="#9898f0"/>
<rect x="337.15" y="373.89" width="7.32" height="2.74" fill="#b8b8f4"/>
<rect x="337.15" y="376.23" width="7.32" height="2.74" fill="#9898f0"/>
<rect x="337.15" y="378.58" width="7.32" height="2.74" fill="#dcdcfa"/>
<rect x="337.15" y="380.92" width="7.32" height="2.74" fill="#9898f0"/>
<rect x="337.15" y="383.26" width="7.32" height="5.09" fill="#7070e8"/>
<rect x="337.15" y="387.95" width="7.32" height="5.09" fill="#9898f0"/>
<rect x="337.15" y="392.64" width="7.32" height="2.74" fill="#b8b8f4"/>
<rect x="337.15" y="394.98" width="7.32" height="2.74" fill="#7070e8"/>
<rect x="337.15" y="397.32" width="7.32" height="2.74" fill="#1c06dc"/>
<rect x="337.15" y="399.67" width="7.32" height="5.09" fill="#ffffff"/>
<rect x="337.15" y="404.35" width="7.32" height="2.74" fill="#dcdcfa"/>
<rect x="337.15" y="406.70" width="7.32" height="2.74" fill="#7070e8"/>
<rect x="337.15" y="409.04" width="7.32" height="2.74" fill="#9898f0"/>
<rect x="337.15" y="411.38" width="7.32" height="2.74" fill="#b8b8f4"/>
<rect x="337.15" y="413.73" width="7.32" height="2.74" fill="#dcdcfa"/>
<rect x="337.15" y="416.07" width="7.32" height="2.74" fill="#b8b8f4"/>
<rect x="337.15" y="418.42" width="7.32" height="2.74" fill="#ffffff"/>
<rect x="337.15" y="420.76" width="7.32" height="2.74" fill="#dcdcfa"/>
<rect x="337.15" y="423.10" width="7.32" height="2.74" fill="#b8b8f4"/>
<rect x="337.15" y="425.45" width="7.32" height="2.74" fill="#dcdcfa"/>
<rect x="337.15" y="427.79" width="7.32" height="2.74" fill="#7070e8"/>
<rect x="337.15" y="430.13" width="7.32" height="2.74" fill="#dcdcfa"/>
<rect x="337.15" y="432.48" width="7.32" height="7.43" fill="#b8b8f4"/>
<rect x="337.15" y="439.51" width="7.32" height="2.74" fill="#ffffff"/>
<rect x="337.15" y="441.85" width="7.32" height="2.74" fill="#b8b8f4"/>
<rect x="337.15" y="444.19" width="7.32" height="2.74" fill="#9898f0"/>
<rect x="337.15" y="446.54" width="7.32" height="2.74" fill="#7070e8"/>
<rect x="337.15" y="448.88" width="7.32" height="2.74" fill="#9898f0"/>
<rect x="337.15" y="451.22" width="7.32" height="2.74" fill="#7070e8"/>
<rect x="337.15" y="453.57" width="7.32" height="5.09" fill="#9898f0"/>
<rect x="337.15" y="458.25" width="7.32" height="2.74" fill="#ffffff"/>
<rect x="337.15" y="460.60" width="7.32" height="7.43" fill="#7070e8"/>
<rect x="337.15" y="467.63" width="7.32" height="2.74" fill="#9898f0"/>
<rect x="337.15" y="469.97" width="7.32" height="2.74" fill="#b8b8f4"/>
<rect x="337.15" y="472.31" width="7.32" height="5.09" fill="#ffffff"/>
<rect x="337.15" y="477.00" width="7.32" height="2.74" fill="#b8b8f4"/>
<rect x="337.15" y="479.34" width="7.32" height="2.74" fill="#9898f0"/>
<rect x="337.15" y="481.69" width="7.32" height="5.09" fill="#b8b8f4"/>
<rect x="337.15" y="486.38" width="7.32" height="5.09" fill="#9898f0"/>
<rect x="337.15" y="491.06" width="7.32" height="2.74" fill="#b8b8f4"/>
<rect x="337.15" y="493.41" width="7.32" height="2.74" fill="#9898f0"/>
<rect x="337.15" y="495.75" width="7.32" height="2.74" fill="#7070e8"/>
<rect x="337.15" y="498.09" width="7.32" height="2.74" fill="#b8b8f4"/>
<rect x="337.15" y="500.44" width="7.32" height="5.09" fill="#7070e8"/>
<rect x="337.15" y="505.12" width="7.32" height="2.74" fill="#dcdcfa"/>
<rect x="337.15" y="507.47" width="7.32" height="2.74" fill="#1c06dc"/>
<rect x="337.15" y="509.81" width="7.32" height="2.74" fill="#dcdcfa"/>
<rect x="337.15" y="512.15" width="7.32" height="2.74" fill="#9898f0"/>
<rect x="337.15" y="514.50" width="7.32" height="7.43" fill="#b8b8f4"/>
<rect x="337.15" y="521.53" width="7.32" height="2.74" fill="#dcdcfa"/>
<rect x="337.15" y="523.87" width="7.32" height="5.09" fill="#9898f0"/>
<rect x="337.15" y="528.56" width="7.32" height="2.74" fill="#7070e8"/>
<rect x="337.15" y="530.90" width="7.32" height="2.74" fill="#9898f0"/>
<rect x="337.15" y="533.24" width="7.32" height="2.74" fill="#1c06dc"/>
<rect x="337.15" y="535.59" width="7.32" height="2.74" fill="#7070e8"/>
<rect x="337.15" y="537.93" width="7.32" height="2.74" fill="#9898f0"/>
<rect x="337.15" y="540.27" width="7.32" height="5.09" fill="#b8b8f4"/>
<rect x="337.15" y="544.96" width="7.32" height="2.74" fill="#7070e8"/>
<rect x="337.15" y="547.30" width="7.32" height="5.09" fill="#9898f0"/>
<rect x="337.15" y="551.99" width="7.32" height="2.74" fill="#dcdcfa"/>
<rect x="337.15" y="554.34" width="7.32" height="2.74" fill="#7070e8"/>
<rect x="337.15" y="556.68" width="7.32" height="2.74" fill="#dcdcfa"/>
<rect x="337.15" y="559.02" width="7.32" height="2.74" fill="#9898f0"/>
<rect x="337.15" y="561.37" width="7.32" height="5.09" fill="#b8b8f4"/>
<rect x="337.15" y="566.05" width="7.32" height="2.74" fill="#dcdcfa"/>
<rect x="337.15" y="568.40" width="7.32" height="7.43" fill="#b8b8f4"/>
<rect x="337.15" y="575.43" width="7.32" height="2.74" fill="#1c06dc"/>
<rect x="337.15" y="577.77" width="7.32" height="5.09" fill="#b8b8f4"/>
<rect x="337.15" y="582.46" width="7.32" height="2.34" fill="#9898f0"/>
<rect x="344.07" y="245.00" width="6.92" height="339.80" fill="#1c06dc"/>
<line x1="323.30" y1="247.34" x2="330.23" y2="247.34" stroke="#b494bc" stroke-width="0.55"/>
<line x1="323.30" y1="249.69" x2="330.23" y2="249.69" stroke="#b494bc" stroke-width="0.55"/>
<line x1="323.30" y1="252.03" x2="330.23" y2="252.03" stroke="#b494bc" stroke-width="0.55"/>
<line x1="323.30" y1="254.37" x2="330.23" y2="254.37" stroke="#b494bc" stroke-width="0.55"/>
<line x1="323.30" y1="256.72" x2="330.23" y2="256.72" stroke="#b494bc" stroke-width="0.55"/>
<line x1="323.30" y1="259.06" x2="330.23" y2="259.06" stroke="#b494bc" stroke-width="0.55"/>
<line x1="323.30" y1="261.40" x2="330.23" y2="261.40" stroke="#b494bc" stroke-width="0.55"/>
<line x1="323.30" y1="263.75" x2="330.23" y2="263.75" stroke="#b494bc" stroke-width="0.55"/>
<line x1="323.30" y1="266.09" x2="330.23" y2="266.09" stroke="#b494bc" stroke-width="0.55"/>
<line x1="323.30" y1="268.43" x2="330.23" y2="268.43" stroke="#b494bc" stroke-width="0.55"/>
<line x1="323.30" y1="270.78" x2="330.23" y2="270.78" stroke="#b494bc" stroke-width="0.55"/>
<line x1="323.30" y1="273.12" x2="330.23" y2="273.12" stroke="#b494bc" stroke-width="0.55"/>
<line x1="323.30" y1="275.46" x2="330.23" y2="275.46" stroke="#b494bc" stroke-width="0.55"/>
<line x1="323.30" y1="277.81" x2="330.23" y2="277.81" stroke="#b494bc" stroke-width="0.55"/>
<line x1="323.30" y1="280.15" x2="330.23" y2="280.15" stroke="#b494bc" stroke-width="0.55"/>
<line x1="323.30" y1="282.50" x2="330.23" y2="282.50" stroke="#b494bc" stroke-width="0.55"/>
<line x1="323.30" y1="284.84" x2="330.23" y2="284.84" stroke="#b494bc" stroke-width="0.55"/>
<line x1="323.30" y1="287.18" x2="330.23" y2="287.18" stroke="#b494bc" stroke-width="0.55"/>
<line x1="323.30" y1="289.53" x2="330.23" y2="289.53" stroke="#b494bc" stroke-width="0.55"/>
<line x1="323.30" y1="291.87" x2="330.23" y2="291.87" stroke="#b494bc" stroke-width="0.55"/>
<line x1="323.30" y1="294.21" x2="330.23" y2="294.21" stroke="#b494bc" stroke-width="0.55"/>
<line x1="323.30" y1="296.56" x2="330.23" y2="296.56" stroke="#b494bc" stroke-width="0.55"/>
<line x1="323.30" y1="298.90" x2="330.23" y2="298.90" stroke="#b494bc" stroke-width="0.55"/>
<line x1="323.30" y1="301.24" x2="330.23" y2="301.24" stroke="#b494bc" stroke-width="0.55"/>
<line x1="323.30" y1="303.59" x2="330.23" y2="303.59" stroke="#b494bc" stroke-width="0.55"/>
<line x1="323.30" y1="305.93" x2="330.23" y2="305.93" stroke="#b494bc" stroke-width="0.55"/>
<line x1="323.30" y1="308.27" x2="330.23" y2="308.27" stroke="#b494bc" stroke-width="0.55"/>
<line x1="323.30" y1="310.62" x2="330.23" y2="310.62" stroke="#b494bc" stroke-width="0.55"/>
<line x1="323.30" y1="312.96" x2="330.23" y2="312.96" stroke="#b494bc" stroke-width="0.55"/>
<line x1="323.30" y1="315.30" x2="330.23" y2="315.30" stroke="#b494bc" stroke-width="0.55"/>
<line x1="323.30" y1="317.65" x2="330.23" y2="317.65" stroke="#b494bc" stroke-width="0.55"/>
<line x1="323.30" y1="319.99" x2="330.23" y2="319.99" stroke="#b494bc" stroke-width="0.55"/>
<line x1="323.30" y1="322.33" x2="330.23" y2="322.33" stroke="#b494bc" stroke-width="0.55"/>
<line x1="323.30" y1="324.68" x2="330.23" y2="324.68" stroke="#b494bc" stroke-width="0.55"/>
<line x1="323.30" y1="327.02" x2="330.23" y2="327.02" stroke="#b494bc" stroke-width="0.55"/>
<line x1="323.30" y1="329.36" x2="330.23" y2="329.36" stroke="#b494bc" stroke-width="0.55"/>
<line x1="323.30" y1="331.71" x2="330.23" y2="331.71" stroke="#b494bc" stroke-width="0.55"/>
<line x1="323.30" y1="334.05" x2="330.23" y2="334.05" stroke="#b494bc" stroke-width="0.55"/>
<line x1="323.30" y1="336.39" x2="330.23" y2="336.39" stroke="#b494bc" stroke-width="0.55"/>
<line x1="323.30" y1="338.74" x2="330.23" y2="338.74" stroke="#b494bc" stroke-width="0.55"/>
<line x1="323.30" y1="341.08" x2="330.23" y2="341.08" stroke="#b494bc" stroke-width="0.55"/>
<line x1="323.30" y1="343.42" x2="330.23" y2="343.42" stroke="#b494bc" stroke-width="0.55"/>
<line x1="323.30" y1="345.77" x2="330.23" y2="345.77" stroke="#b494bc" stroke-width="0.55"/>
<line x1="323.30" y1="348.11" x2="330.23" y2="348.11" stroke="#b494bc" stroke-width="0.55"/>
<line x1="323.30" y1="350.46" x2="330.23" y2="350.46" stroke="#b494bc" stroke-width="0.55"/>
<line x1="323.30" y1="352.80" x2="330.23" y2="352.80" stroke="#b494bc" stroke-width="0.55"/>
<line x1="323.30" y1="355.14" x2="330.23" y2="355.14" stroke="#b494bc" stroke-width="0.55"/>
<line x1="323.30" y1="357.49" x2="330.23" y2="357.49" stroke="#b494bc" stroke-width="0.55"/>
<line x1="323.30" y1="359.83" x2="330.23" y2="359.83" stroke="#b494bc" stroke-width="0.55"/>
<line x1="323.30" y1="362.17" x2="330.23" y2="362.17" stroke="#b494bc" stroke-width="0.55"/>
<line x1="323.30" y1="364.52" x2="330.23" y2="364.52" stroke="#b494bc" stroke-width="0.55"/>
<line x1="323.30" y1="366.86" x2="330.23" y2="366.86" stroke="#b494bc" stroke-width="0.55"/>
<line x1="323.30" y1="369.20" x2="330.23" y2="369.20" stroke="#b494bc" stroke-width="0.55"/>
<line x1="323.30" y1="371.55" x2="330.23" y2="371.55" stroke="#b494bc" stroke-width="0.55"/>
<line x1="323.30" y1="373.89" x2="330.23" y2="373.89" stroke="#b494bc" stroke-width="0.55"/>
<line x1="323.30" y1="376.23" x2="330.23" y2="376.23" stroke="#b494bc" stroke-width="0.55"/>
<line x1="323.30" y1="378.58" x2="330.23" y2="378.58" stroke="#b494bc" stroke-width="0.55"/>
<line x1="323.30" y1="380.92" x2="330.23" y2="380.92" stroke="#b494bc" stroke-width="0.55"/>
<line x1="323.30" y1="383.26" x2="330.23" y2="383.26" stroke="#b494bc" stroke-width="0.55"/>
<line x1="323.30" y1="385.61" x2="330.23" y2="385.61" stroke="#b494bc" stroke-width="0.55"/>
<line x1="323.30" y1="387.95" x2="330.23" y2="387.95" stroke="#b494bc" stroke-width="0.55"/>
<line x1="323.30" y1="390.29" x2="330.23" y2="390.29" stroke="#b494bc" stroke-width="0.55"/>
<line x1="323.30" y1="392.64" x2="330.23" y2="392.64" stroke="#b494bc" stroke-width="0.55"/>
<line x1="323.30" y1="394.98" x2="330.23" y2="394.98" stroke="#b494bc" stroke-width="0.55"/>
<line x1="323.30" y1="397.32" x2="330.23" y2="397.32" stroke="#b494bc" stroke-width="0.55"/>
<line x1="323.30" y1="399.67" x2="330.23" y2="399.67" stroke="#b494bc" stroke-width="0.55"/>
<line x1="323.30" y1="402.01" x2="330.23" y2="402.01" stroke="#b494bc" stroke-width="0.55"/>
<line x1="323.30" y1="404.35" x2="330.23" y2="404.35" stroke="#b494bc" stroke-width="0.55"/>
<line x1="323.30" y1="406.70" x2="330.23" y2="406.70" stroke="#b494bc" stroke-width="0.55"/>
<line x1="323.30" y1="409.04" x2="330.23" y2="409.04" stroke="#b494bc" stroke-width="0.55"/>
<line x1="323.30" y1="411.38" x2="330.23" y2="411.38" stroke="#b494bc" stroke-width="0.55"/>
<line x1="323.30" y1="413.73" x2="330.23" y2="413.73" stroke="#b494bc" stroke-width="0.55"/>
<line x1="323.30" y1="416.07" x2="330.23" y2="416.07" stroke="#b494bc" stroke-width="0.55"/>
<line x1="323.30" y1="418.42" x2="330.23" y2="418.42" stroke="#b494bc" stroke-width="0.55"/>
<line x1="323.30" y1="420.76" x2="330.23" y2="420.76" stroke="#b494bc" stroke-width="0.55"/>
<line x1="323.30" y1="423.10" x2="330.23" y2="423.10" stroke="#b494bc" stroke-width="0.55"/>
<line x1="323.30" y1="425.45" x2="330.23" y2="425.45" stroke="#b494bc" stroke-width="0.55"/>
<line x1="323.30" y1="427.79" x2="330.23" y2="427.79" stroke="#b494bc" stroke-width="0.55"/>
<line x1="323.30" y1="430.13" x2="330.23" y2="430.13" stroke="#b494bc" stroke-width="0.55"/>
<line x1="323.30" y1="432.48" x2="330.23" y2="432.48" stroke="#b494bc" stroke-width="0.55"/>
<line x1="323.30" y1="434.82" x2="330.23" y2="434.82" stroke="#b494bc" stroke-width="0.55"/>
<line x1="323.30" y1="437.16" x2="330.23" y2="437.16" stroke="#b494bc" stroke-width="0.55"/>
<line x1="323.30" y1="439.51" x2="330.23" y2="439.51" stroke="#b494bc" stroke-width="0.55"/>
<line x1="323.30" y1="441.85" x2="330.23" y2="441.85" stroke="#b494bc" stroke-width="0.55"/>
<line x1="323.30" y1="444.19" x2="330.23" y2="444.19" stroke="#b494bc" stroke-width="0.55"/>
<line x1="323.30" y1="446.54" x2="330.23" y2="446.54" stroke="#b494bc" stroke-width="0.55"/>
<line x1="323.30" y1="448.88" x2="330.23" y2="448.88" stroke="#b494bc" stroke-width="0.55"/>
<line x1="323.30" y1="451.22" x2="330.23" y2="451.22" stroke="#b494bc" stroke-width="0.55"/>
<line x1="323.30" y1="453.57" x2="330.23" y2="453.57" stroke="#b494bc" stroke-width="0.55"/>
<line x1="323.30" y1="455.91" x2="330.23" y2="455.91" stroke="#b494bc" stroke-width="0.55"/>
<line x1="323.30" y1="458.25" x2="330.23" y2="458.25" stroke="#b494bc" stroke-width="0.55"/>
<line x1="323.30" y1="460.60" x2="330.23" y2="460.60" stroke="#b494bc" stroke-width="0.55"/>
<line x1="323.30" y1="462.94" x2="330.23" y2="462.94" stroke="#b494bc" stroke-width="0.55"/>
<line x1="323.30" y1="465.28" x2="330.23" y2="465.28" stroke="#b494bc" stroke-width="0.55"/>
<line x1="323.30" y1="467.63" x2="330.23" y2="467.63" stroke="#b494bc" stroke-width="0.55"/>
<line x1="323.30" y1="469.97" x2="330.23" y2="469.97" stroke="#b494bc" stroke-width="0.55"/>
<line x1="323.30" y1="472.31" x2="330.23" y2="472.31" stroke="#b494bc" stroke-width="0.55"/>
<line x1="323.30" y1="474.66" x2="330.23" y2="474.66" stroke="#b494bc" stroke-width="0.55"/>
<line x1="323.30" y1="477.00" x2="330.23" y2="477.00" stroke="#b494bc" stroke-width="0.55"/>
<line x1="323.30" y1="479.34" x2="330.23" y2="479.34" stroke="#b494bc" stroke-width="0.55"/>
<line x1="323.30" y1="481.69" x2="330.23" y2="481.69" stroke="#b494bc" stroke-width="0.55"/>
<line x1="323.30" y1="484.03" x2="330.23" y2="484.03" stroke="#b494bc" stroke-width="0.55"/>
<line x1="323.30" y1="486.38" x2="330.23" y2="486.38" stroke="#b494bc" stroke-width="0.55"/>
<line x1="323.30" y1="488.72" x2="330.23" y2="488.72" stroke="#b494bc" stroke-width="0.55"/>
<line x1="323.30" y1="491.06" x2="330.23" y2="491.06" stroke="#b494bc" stroke-width="0.55"/>
<line x1="323.30" y1="493.41" x2="330.23" y2="493.41" stroke="#b494bc" stroke-width="0.55"/>
<line x1="323.30" y1="495.75" x2="330.23" y2="495.75" stroke="#b494bc" stroke-width="0.55"/>
<line x1="323.30" y1="498.09" x2="330.23" y2="498.09" stroke="#b494bc" stroke-width="0.55"/>
<line x1="323.30" y1="500.44" x2="330.23" y2="500.44" stroke="#b494bc" stroke-width="0.55"/>
<line x1="323.30" y1="502.78" x2="330.23" y2="502.78" stroke="#b494bc" stroke-width="0.55"/>
<line x1="323.30" y1="505.12" x2="330.23" y2="505.12" stroke="#b494bc" stroke-width="0.55"/>
<line x1="323.30" y1="507.47" x2="330.23" y2="507.47" stroke="#b494bc" stroke-width="0.55"/>
<line x1="323.30" y1="509.81" x2="330.23" y2="509.81" stroke="#b494bc" stroke-width="0.55"/>
<line x1="323.30" y1="512.15" x2="330.23" y2="512.15" stroke="#b494bc" stroke-width="0.55"/>
<line x1="323.30" y1="514.50" x2="330.23" y2="514.50" stroke="#b494bc" stroke-width="0.55"/>
<line x1="323.30" y1="516.84" x2="330.23" y2="516.84" stroke="#b494bc" stroke-width="0.55"/>
<line x1="323.30" y1="519.18" x2="330.23" y2="519.18" stroke="#b494bc" stroke-width="0.55"/>
<line x1="323.30" y1="521.53" x2="330.23" y2="521.53" stroke="#b494bc" stroke-width="0.55"/>
<line x1="323.30" y1="523.87" x2="330.23" y2="523.87" stroke="#b494bc" stroke-width="0.55"/>
<line x1="323.30" y1="526.21" x2="330.23" y2="526.21" stroke="#b494bc" stroke-width="0.55"/>
<line x1="323.30" y1="528.56" x2="330.23" y2="528.56" stroke="#b494bc" stroke-width="0.55"/>
<line x1="323.30" y1="530.90" x2="330.23" y2="530.90" stroke="#b494bc" stroke-width="0.55"/>
<line x1="323.30" y1="533.24" x2="330.23" y2="533.24" stroke="#b494bc" stroke-width="0.55"/>
<line x1="323.30" y1="535.59" x2="330.23" y2="535.59" stroke="#b494bc" stroke-width="0.55"/>
<line x1="323.30" y1="537.93" x2="330.23" y2="537.93" stroke="#b494bc" stroke-width="0.55"/>
<line x1="323.30" y1="540.27" x2="330.23" y2="540.27" stroke="#b494bc" stroke-width="0.55"/>
<line x1="323.30" y1="542.62" x2="330.23" y2="542.62" stroke="#b494bc" stroke-width="0.55"/>
<line x1="323.30" y1="544.96" x2="330.23" y2="544.96" stroke="#b494bc" stroke-width="0.55"/>
<line x1="323.30" y1="547.30" x2="330.23" y2="547.30" stroke="#b494bc" stroke-width="0.55"/>
<line x1="323.30" y1="549.65" x2="330.23" y2="549.65" stroke="#b494bc" stroke-width="0.55"/>
<line x1="323.30" y1="551.99" x2="330.23" y2="551.99" stroke="#b494bc" stroke-width="0.55"/>
<line x1="323.30" y1="554.34" x2="330.23" y2="554.34" stroke="#b494bc" stroke-width="0.55"/>
<line x1="323.30" y1="556.68" x2="330.23" y2="556.68" stroke="#b494bc" stroke-width="0.55"/>
<line x1="323.30" y1="559.02" x2="330.23" y2="559.02" stroke="#b494bc" stroke-width="0.55"/>
<line x1="323.30" y1="561.37" x2="330.23" y2="561.37" stroke="#b494bc" stroke-width="0.55"/>
<line x1="323.30" y1="563.71" x2="330.23" y2="563.71" stroke="#b494bc" stroke-width="0.55"/>
<line x1="323.30" y1="566.05" x2="330.23" y2="566.05" stroke="#b494bc" stroke-width="0.55"/>
<line x1="323.30" y1="568.40" x2="330.23" y2="568.40" stroke="#b494bc" stroke-width="0.55"/>
<line x1="323.30" y1="570.74" x2="330.23" y2="570.74" stroke="#b494bc" stroke-width="0.55"/>
<line x1="323.30" y1="573.08" x2="330.23" y2="573.08" stroke="#b494bc" stroke-width="0.55"/>
<line x1="323.30" y1="575.43" x2="330.23" y2="575.43" stroke="#b494bc" stroke-width="0.55"/>
<line x1="323.30" y1="577.77" x2="330.23" y2="577.77" stroke="#b494bc" stroke-width="0.55"/>
<line x1="323.30" y1="580.11" x2="330.23" y2="580.11" stroke="#b494bc" stroke-width="0.55"/>
<line x1="323.30" y1="582.46" x2="330.23" y2="582.46" stroke="#b494bc" stroke-width="0.55"/>
<line x1="330.23" y1="247.34" x2="337.15" y2="247.34" stroke="#b494bc" stroke-width="0.55"/>
<line x1="330.23" y1="249.69" x2="337.15" y2="249.69" stroke="#b494bc" stroke-width="0.55"/>
<line x1="330.23" y1="252.03" x2="337.15" y2="252.03" stroke="#b494bc" stroke-width="0.55"/>
<line x1="330.23" y1="254.37" x2="337.15" y2="254.37" stroke="#b494bc" stroke-width="0.55"/>
<line x1="330.23" y1="256.72" x2="337.15" y2="256.72" stroke="#b494bc" stroke-width="0.55"/>
<line x1="330.23" y1="259.06" x2="337.15" y2="259.06" stroke="#b494bc" stroke-width="0.55"/>
<line x1="330.23" y1="261.40" x2="337.15" y2="261.40" stroke="#b494bc" stroke-width="0.55"/>
<line x1="330.23" y1="263.75" x2="337.15" y2="263.75" stroke="#b494bc" stroke-width="0.55"/>
<line x1="330.23" y1="266.09" x2="337.15" y2="266.09" stroke="#b494bc" stroke-width="0.55"/>
<line x1="330.23" y1="268.43" x2="337.15" y2="268.43" stroke="#b494bc" stroke-width="0.55"/>
<line x1="330.23" y1="270.78" x2="337.15" y2="270.78" stroke="#b494bc" stroke-width="0.55"/>
<line x1="330.23" y1="273.12" x2="337.15" y2="273.12" stroke="#b494bc" stroke-width="0.55"/>
<line x1="330.23" y1="275.46" x2="337.15" y2="275.46" stroke="#b494bc" stroke-width="0.55"/>
<line x1="330.23" y1="277.81" x2="337.15" y2="277.81" stroke="#b494bc" stroke-width="0.55"/>
<line x1="330.23" y1="280.15" x2="337.15" y2="280.15" stroke="#b494bc" stroke-width="0.55"/>
<line x1="330.23" y1="282.50" x2="337.15" y2="282.50" stroke="#b494bc" stroke-width="0.55"/>
<line x1="330.23" y1="284.84" x2="337.15" y2="284.84" stroke="#b494bc" stroke-width="0.55"/>
<line x1="330.23" y1="287.18" x2="337.15" y2="287.18" stroke="#b494bc" stroke-width="0.55"/>
<line x1="330.23" y1="289.53" x2="337.15" y2="289.53" stroke="#b494bc" stroke-width="0.55"/>
<line x1="330.23" y1="291.87" x2="337.15" y2="291.87" stroke="#b494bc" stroke-width="0.55"/>
<line x1="330.23" y1="294.21" x2="337.15" y2="294.21" stroke="#b494bc" stroke-width="0.55"/>
<line x1="330.23" y1="296.56" x2="337.15" y2="296.56" stroke="#b494bc" stroke-width="0.55"/>
<line x1="330.23" y1="298.90" x2="337.15" y2="298.90" stroke="#b494bc" stroke-width="0.55"/>
<line x1="330.23" y1="301.24" x2="337.15" y2="301.24" stroke="#b494bc" stroke-width="0.55"/>
<line x1="330.23" y1="303.59" x2="337.15" y2="303.59" stroke="#b494bc" stroke-width="0.55"/>
<line x1="330.23" y1="305.93" x2="337.15" y2="305.93" stroke="#b494bc" stroke-width="0.55"/>
<line x1="330.23" y1="308.27" x2="337.15" y2="308.27" stroke="#b494bc" stroke-width="0.55"/>
<line x1="330.23" y1="310.62" x2="337.15" y2="310.62" stroke="#b494bc" stroke-width="0.55"/>
<line x1="330.23" y1="312.96" x2="337.15" y2="312.96" stroke="#b494bc" stroke-width="0.55"/>
<line x1="330.23" y1="315.30" x2="337.15" y2="315.30" stroke="#b494bc" stroke-width="0.55"/>
<line x1="330.23" y1="317.65" x2="337.15" y2="317.65" stroke="#b494bc" stroke-width="0.55"/>
<line x1="330.23" y1="319.99" x2="337.15" y2="319.99" stroke="#b494bc" stroke-width="0.55"/>
<line x1="330.23" y1="322.33" x2="337.15" y2="322.33" stroke="#b494bc" stroke-width="0.55"/>
<line x1="330.23" y1="324.68" x2="337.15" y2="324.68" stroke="#b494bc" stroke-width="0.55"/>
<line x1="330.23" y1="327.02" x2="337.15" y2="327.02" stroke="#b494bc" stroke-width="0.55"/>
<line x1="330.23" y1="329.36" x2="337.15" y2="329.36" stroke="#b494bc" stroke-width="0.55"/>
<line x1="330.23" y1="331.71" x2="337.15" y2="331.71" stroke="#b494bc" stroke-width="0.55"/>
<line x1="330.23" y1="334.05" x2="337.15" y2="334.05" stroke="#b494bc" stroke-width="0.55"/>
<line x1="330.23" y1="336.39" x2="337.15" y2="336.39" stroke="#b494bc" stroke-width="0.55"/>
<line x1="330.23" y1="338.74" x2="337.15" y2="338.74" stroke="#b494bc" stroke-width="0.55"/>
<line x1="330.23" y1="341.08" x2="337.15" y2="341.08" stroke="#b494bc" stroke-width="0.55"/>
<line x1="330.23" y1="343.42" x2="337.15" y2="343.42" stroke="#b494bc" stroke-width="0.55"/>
<line x1="330.23" y1="345.77" x2="337.15" y2="345.77" stroke="#b494bc" stroke-width="0.55"/>
<line x1="330.23" y1="348.11" x2="337.15" y2="348.11" stroke="#b494bc" stroke-width="0.55"/>
<line x1="330.23" y1="350.46" x2="337.15" y2="350.46" stroke="#b494bc" stroke-width="0.55"/>
<line x1="330.23" y1="352.80" x2="337.15" y2="352.80" stroke="#b494bc" stroke-width="0.55"/>
<line x1="330.23" y1="355.14" x2="337.15" y2="355.14" stroke="#b494bc" stroke-width="0.55"/>
<line x1="330.23" y1="357.49" x2="337.15" y2="357.49" stroke="#b494bc" stroke-width="0.55"/>
<line x1="330.23" y1="359.83" x2="337.15" y2="359.83" stroke="#b494bc" stroke-width="0.55"/>
<line x1="330.23" y1="362.17" x2="337.15" y2="362.17" stroke="#b494bc" stroke-width="0.55"/>
<line x1="330.23" y1="364.52" x2="337.15" y2="364.52" stroke="#b494bc" stroke-width="0.55"/>
<line x1="330.23" y1="366.86" x2="337.15" y2="366.86" stroke="#b494bc" stroke-width="0.55"/>
<line x1="330.23" y1="369.20" x2="337.15" y2="369.20" stroke="#b494bc" stroke-width="0.55"/>
<line x1="330.23" y1="371.55" x2="337.15" y2="371.55" stroke="#b494bc" stroke-width="0.55"/>
<line x1="330.23" y1="373.89" x2="337.15" y2="373.89" stroke="#b494bc" stroke-width="0.55"/>
<line x1="330.23" y1="376.23" x2="337.15" y2="376.23" stroke="#b494bc" stroke-width="0.55"/>
<line x1="330.23" y1="378.58" x2="337.15" y2="378.58" stroke="#b494bc" stroke-width="0.55"/>
<line x1="330.23" y1="380.92" x2="337.15" y2="380.92" stroke="#b494bc" stroke-width="0.55"/>
<line x1="330.23" y1="383.26" x2="337.15" y2="383.26" stroke="#b494bc" stroke-width="0.55"/>
<line x1="330.23" y1="385.61" x2="337.15" y2="385.61" stroke="#b494bc" stroke-width="0.55"/>
<line x1="330.23" y1="387.95" x2="337.15" y2="387.95" stroke="#b494bc" stroke-width="0.55"/>
<line x1="330.23" y1="390.29" x2="337.15" y2="390.29" stroke="#b494bc" stroke-width="0.55"/>
<line x1="330.23" y1="392.64" x2="337.15" y2="392.64" stroke="#b494bc" stroke-width="0.55"/>
<line x1="330.23" y1="394.98" x2="337.15" y2="394.98" stroke="#b494bc" stroke-width="0.55"/>
<line x1="330.23" y1="397.32" x2="337.15" y2="397.32" stroke="#b494bc" stroke-width="0.55"/>
<line x1="330.23" y1="399.67" x2="337.15" y2="399.67" stroke="#b494bc" stroke-width="0.55"/>
<line x1="330.23" y1="402.01" x2="337.15" y2="402.01" stroke="#b494bc" stroke-width="0.55"/>
<line x1="330.23" y1="404.35" x2="337.15" y2="404.35" stroke="#b494bc" stroke-width="0.55"/>
<line x1="330.23" y1="406.70" x2="337.15" y2="406.70" stroke="#b494bc" stroke-width="0.55"/>
<line x1="330.23" y1="409.04" x2="337.15" y2="409.04" stroke="#b494bc" stroke-width="0.55"/>
<line x1="330.23" y1="411.38" x2="337.15" y2="411.38" stroke="#b494bc" stroke-width="0.55"/>
<line x1="330.23" y1="413.73" x2="337.15" y2="413.73" stroke="#b494bc" stroke-width="0.55"/>
<line x1="330.23" y1="416.07" x2="337.15" y2="416.07" stroke="#b494bc" stroke-width="0.55"/>
<line x1="330.23" y1="418.42" x2="337.15" y2="418.42" stroke="#b494bc" stroke-width="0.55"/>
<line x1="330.23" y1="420.76" x2="337.15" y2="420.76" stroke="#b494bc" stroke-width="0.55"/>
<line x1="330.23" y1="423.10" x2="337.15" y2="423.10" stroke="#b494bc" stroke-width="0.55"/>
<line x1="330.23" y1="425.45" x2="337.15" y2="425.45" stroke="#b494bc" stroke-width="0.55"/>
<line x1="330.23" y1="427.79" x2="337.15" y2="427.79" stroke="#b494bc" stroke-width="0.55"/>
<line x1="330.23" y1="430.13" x2="337.15" y2="430.13" stroke="#b494bc" stroke-width="0.55"/>
<line x1="330.23" y1="432.48" x2="337.15" y2="432.48" stroke="#b494bc" stroke-width="0.55"/>
<line x1="330.23" y1="434.82" x2="337.15" y2="434.82" stroke="#b494bc" stroke-width="0.55"/>
<line x1="330.23" y1="437.16" x2="337.15" y2="437.16" stroke="#b494bc" stroke-width="0.55"/>
<line x1="330.23" y1="439.51" x2="337.15" y2="439.51" stroke="#b494bc" stroke-width="0.55"/>
<line x1="330.23" y1="441.85" x2="337.15" y2="441.85" stroke="#b494bc" stroke-width="0.55"/>
<line x1="330.23" y1="444.19" x2="337.15" y2="444.19" stroke="#b494bc" stroke-width="0.55"/>
<line x1="330.23" y1="446.54" x2="337.15" y2="446.54" stroke="#b494bc" stroke-width="0.55"/>
<line x1="330.23" y1="448.88" x2="337.15" y2="448.88" stroke="#b494bc" stroke-width="0.55"/>
<line x1="330.23" y1="451.22" x2="337.15" y2="451.22" stroke="#b494bc" stroke-width="0.55"/>
<line x1="330.23" y1="453.57" x2="337.15" y2="453.57" stroke="#b494bc" stroke-width="0.55"/>
<line x1="330.23" y1="455.91" x2="337.15" y2="455.91" stroke="#b494bc" stroke-width="0.55"/>
<line x1="330.23" y1="458.25" x2="337.15" y2="458.25" stroke="#b494bc" stroke-width="0.55"/>
<line x1="330.23" y1="460.60" x2="337.15" y2="460.60" stroke="#b494bc" stroke-width="0.55"/>
<line x1="330.23" y1="462.94" x2="337.15" y2="462.94" stroke="#b494bc" stroke-width="0.55"/>
<line x1="330.23" y1="465.28" x2="337.15" y2="465.28" stroke="#b494bc" stroke-width="0.55"/>
<line x1="330.23" y1="467.63" x2="337.15" y2="467.63" stroke="#b494bc" stroke-width="0.55"/>
<line x1="330.23" y1="469.97" x2="337.15" y2="469.97" stroke="#b494bc" stroke-width="0.55"/>
<line x1="330.23" y1="472.31" x2="337.15" y2="472.31" stroke="#b494bc" stroke-width="0.55"/>
<line x1="330.23" y1="474.66" x2="337.15" y2="474.66" stroke="#b494bc" stroke-width="0.55"/>
<line x1="330.23" y1="477.00" x2="337.15" y2="477.00" stroke="#b494bc" stroke-width="0.55"/>
<line x1="330.23" y1="479.34" x2="337.15" y2="479.34" stroke="#b494bc" stroke-width="0.55"/>
<line x1="330.23" y1="481.69" x2="337.15" y2="481.69" stroke="#b494bc" stroke-width="0.55"/>
<line x1="330.23" y1="484.03" x2="337.15" y2="484.03" stroke="#b494bc" stroke-width="0.55"/>
<line x1="330.23" y1="486.38" x2="337.15" y2="486.38" stroke="#b494bc" stroke-width="0.55"/>
<line x1="330.23" y1="488.72" x2="337.15" y2="488.72" stroke="#b494bc" stroke-width="0.55"/>
<line x1="330.23" y1="491.06" x2="337.15" y2="491.06" stroke="#b494bc" stroke-width="0.55"/>
<line x1="330.23" y1="493.41" x2="337.15" y2="493.41" stroke="#b494bc" stroke-width="0.55"/>
<line x1="330.23" y1="495.75" x2="337.15" y2="495.75" stroke="#b494bc" stroke-width="0.55"/>
<line x1="330.23" y1="498.09" x2="337.15" y2="498.09" stroke="#b494bc" stroke-width="0.55"/>
<line x1="330.23" y1="500.44" x2="337.15" y2="500.44" stroke="#b494bc" stroke-width="0.55"/>
<line x1="330.23" y1="502.78" x2="337.15" y2="502.78" stroke="#b494bc" stroke-width="0.55"/>
<line x1="330.23" y1="505.12" x2="337.15" y2="505.12" stroke="#b494bc" stroke-width="0.55"/>
<line x1="330.23" y1="507.47" x2="337.15" y2="507.47" stroke="#b494bc" stroke-width="0.55"/>
<line x1="330.23" y1="509.81" x2="337.15" y2="509.81" stroke="#b494bc" stroke-width="0.55"/>
<line x1="330.23" y1="512.15" x2="337.15" y2="512.15" stroke="#b494bc" stroke-width="0.55"/>
<line x1="330.23" y1="514.50" x2="337.15" y2="514.50" stroke="#b494bc" stroke-width="0.55"/>
<line x1="330.23" y1="516.84" x2="337.15" y2="516.84" stroke="#b494bc" stroke-width="0.55"/>
<line x1="330.23" y1="519.18" x2="337.15" y2="519.18" stroke="#b494bc" stroke-width="0.55"/>
<line x1="330.23" y1="521.53" x2="337.15" y2="521.53" stroke="#b494bc" stroke-width="0.55"/>
<line x1="330.23" y1="523.87" x2="337.15" y2="523.87" stroke="#b494bc" stroke-width="0.55"/>
<line x1="330.23" y1="526.21" x2="337.15" y2="526.21" stroke="#b494bc" stroke-width="0.55"/>
<line x1="330.23" y1="528.56" x2="337.15" y2="528.56" stroke="#b494bc" stroke-width="0.55"/>
<line x1="330.23" y1="530.90" x2="337.15" y2="530.90" stroke="#b494bc" stroke-width="0.55"/>
<line x1="330.23" y1="533.24" x2="337.15" y2="533.24" stroke="#b494bc" stroke-width="0.55"/>
<line x1="330.23" y1="535.59" x2="337.15" y2="535.59" stroke="#b494bc" stroke-width="0.55"/>
<line x1="330.23" y1="537.93" x2="337.15" y2="537.93" stroke="#b494bc" stroke-width="0.55"/>
<line x1="330.23" y1="540.27" x2="337.15" y2="540.27" stroke="#b494bc" stroke-width="0.55"/>
<line x1="330.23" y1="542.62" x2="337.15" y2="542.62" stroke="#b494bc" stroke-width="0.55"/>
<line x1="330.23" y1="544.96" x2="337.15" y2="544.96" stroke="#b494bc" stroke-width="0.55"/>
<line x1="330.23" y1="547.30" x2="337.15" y2="547.30" stroke="#b494bc" stroke-width="0.55"/>
<line x1="330.23" y1="549.65" x2="337.15" y2="549.65" stroke="#b494bc" stroke-width="0.55"/>
<line x1="330.23" y1="551.99" x2="337.15" y2="551.99" stroke="#b494bc" stroke-width="0.55"/>
<line x1="330.23" y1="554.34" x2="337.15" y2="554.34" stroke="#b494bc" stroke-width="0.55"/>
<line x1="330.23" y1="556.68" x2="337.15" y2="556.68" stroke="#b494bc" stroke-width="0.55"/>
<line x1="330.23" y1="559.02" x2="337.15" y2="559.02" stroke="#b494bc" stroke-width="0.55"/>
<line x1="330.23" y1="561.37" x2="337.15" y2="561.37" stroke="#b494bc" stroke-width="0.55"/>
<line x1="330.23" y1="563.71" x2="337.15" y2="563.71" stroke="#b494bc" stroke-width="0.55"/>
<line x1="330.23" y1="566.05" x2="337.15" y2="566.05" stroke="#b494bc" stroke-width="0.55"/>
<line x1="330.23" y1="568.40" x2="337.15" y2="568.40" stroke="#b494bc" stroke-width="0.55"/>
<line x1="330.23" y1="570.74" x2="337.15" y2="570.74" stroke="#b494bc" stroke-width="0.55"/>
<line x1="330.23" y1="573.08" x2="337.15" y2="573.08" stroke="#b494bc" stroke-width="0.55"/>
<line x1="330.23" y1="575.43" x2="337.15" y2="575.43" stroke="#b494bc" stroke-width="0.55"/>
<line x1="330.23" y1="577.77" x2="337.15" y2="577.77" stroke="#b494bc" stroke-width="0.55"/>
<line x1="330.23" y1="580.11" x2="337.15" y2="580.11" stroke="#b494bc" stroke-width="0.55"/>
<line x1="330.23" y1="582.46" x2="337.15" y2="582.46" stroke="#b494bc" stroke-width="0.55"/>
<line x1="323.4" y1="245" x2="323.4" y2="584.8" stroke="#806080" stroke-width="0.7"/>
<line x1="330.2" y1="245" x2="330.2" y2="584.8" stroke="#806080" stroke-width="0.6"/>
<rect x="354.50" y="245.00" width="7.07" height="7.43" fill="#f0081c"/>
<rect x="354.50" y="252.03" width="7.07" height="2.74" fill="#5010c8"/>
<rect x="354.50" y="254.37" width="7.07" height="330.43" fill="#f0081c"/>
<rect x="361.18" y="245.00" width="7.07" height="7.43" fill="#f0081c"/>
<rect x="361.18" y="252.03" width="7.07" height="2.74" fill="#5010c8"/>
<rect x="361.18" y="254.37" width="7.07" height="7.43" fill="#f0081c"/>
<rect x="361.18" y="261.40" width="7.07" height="2.74" fill="#8a0aa0"/>
<rect x="361.18" y="263.75" width="7.07" height="35.55" fill="#f0081c"/>
<rect x="361.18" y="298.90" width="7.07" height="2.74" fill="#e84050"/>
<rect x="361.18" y="301.24" width="7.07" height="35.55" fill="#f0081c"/>
<rect x="361.18" y="336.39" width="7.07" height="2.74" fill="#e84050"/>
<rect x="361.18" y="338.74" width="7.07" height="5.09" fill="#f0081c"/>
<rect x="361.18" y="343.42" width="7.07" height="2.74" fill="#e84050"/>
<rect x="361.18" y="345.77" width="7.07" height="68.36" fill="#f0081c"/>
<rect x="361.18" y="413.73" width="7.07" height="2.74" fill="#e84050"/>
<rect x="361.18" y="416.07" width="7.07" height="28.52" fill="#f0081c"/>
<rect x="361.18" y="444.19" width="7.07" height="2.74" fill="#e84050"/>
<rect x="361.18" y="446.54" width="7.07" height="103.51" fill="#f0081c"/>
<rect x="361.18" y="549.65" width="7.07" height="2.74" fill="#8a0aa0"/>
<rect x="361.18" y="551.99" width="7.07" height="32.81" fill="#f0081c"/>
<rect x="367.85" y="245.00" width="7.07" height="14.46" fill="#f0081c"/>
<rect x="367.85" y="259.06" width="7.07" height="2.74" fill="#8a0aa0"/>
<rect x="367.85" y="261.40" width="7.07" height="7.43" fill="#5010c8"/>
<rect x="367.85" y="268.43" width="7.07" height="2.74" fill="#8a0aa0"/>
<rect x="367.85" y="270.78" width="7.07" height="5.09" fill="#1c06dc"/>
<rect x="367.85" y="275.46" width="7.07" height="2.74" fill="#5010c8"/>
<rect x="367.85" y="277.81" width="7.07" height="2.74" fill="#1c06dc"/>
<rect x="367.85" y="280.15" width="7.07" height="2.74" fill="#8a0aa0"/>
<rect x="367.85" y="282.50" width="7.07" height="2.74" fill="#1c06dc"/>
<rect x="367.85" y="284.84" width="7.07" height="2.74" fill="#5010c8"/>
<rect x="367.85" y="287.18" width="7.07" height="5.09" fill="#1c06dc"/>
<rect x="367.85" y="291.87" width="7.07" height="2.74" fill="#5010c8"/>
<rect x="367.85" y="294.21" width="7.07" height="2.74" fill="#f0081c"/>
<rect x="367.85" y="296.56" width="7.07" height="2.74" fill="#5010c8"/>
<rect x="367.85" y="298.90" width="7.07" height="2.74" fill="#1c06dc"/>
<rect x="367.85" y="301.24" width="7.07" height="2.74" fill="#5010c8"/>
<rect x="367.85" y="303.59" width="7.07" height="2.74" fill="#f0081c"/>
<rect x="367.85" y="305.93" width="7.07" height="2.74" fill="#1c06dc"/>
<rect x="367.85" y="308.27" width="7.07" height="2.74" fill="#5010c8"/>
<rect x="367.85" y="310.62" width="7.07" height="2.74" fill="#1c06dc"/>
<rect x="367.85" y="312.96" width="7.07" height="2.74" fill="#8a0aa0"/>
<rect x="367.85" y="315.30" width="7.07" height="2.74" fill="#f0081c"/>
<rect x="367.85" y="317.65" width="7.07" height="5.09" fill="#1c06dc"/>
<rect x="367.85" y="322.33" width="7.07" height="2.74" fill="#8a0aa0"/>
<rect x="367.85" y="324.68" width="7.07" height="2.74" fill="#f0081c"/>
<rect x="367.85" y="327.02" width="7.07" height="5.09" fill="#1c06dc"/>
<rect x="367.85" y="331.71" width="7.07" height="2.74" fill="#8a0aa0"/>
<rect x="367.85" y="334.05" width="7.07" height="2.74" fill="#1c06dc"/>
<rect x="367.85" y="336.39" width="7.07" height="2.74" fill="#5010c8"/>
<rect x="367.85" y="338.74" width="7.07" height="2.74" fill="#1c06dc"/>
<rect x="367.85" y="341.08" width="7.07" height="2.74" fill="#f0081c"/>
<rect x="367.85" y="343.42" width="7.07" height="5.09" fill="#8a0aa0"/>
<rect x="367.85" y="348.11" width="7.07" height="2.74" fill="#5010c8"/>
<rect x="367.85" y="350.46" width="7.07" height="5.09" fill="#f0081c"/>
<rect x="367.85" y="355.14" width="7.07" height="2.74" fill="#5010c8"/>
<rect x="367.85" y="357.49" width="7.07" height="2.74" fill="#8a0aa0"/>
<rect x="367.85" y="359.83" width="7.07" height="7.43" fill="#5010c8"/>
<rect x="367.85" y="366.86" width="7.07" height="5.09" fill="#f0081c"/>
<rect x="367.85" y="371.55" width="7.07" height="5.09" fill="#8a0aa0"/>
<rect x="367.85" y="376.23" width="7.07" height="2.74" fill="#f0081c"/>
<rect x="367.85" y="378.58" width="7.07" height="2.74" fill="#5010c8"/>
<rect x="367.85" y="380.92" width="7.07" height="19.15" fill="#f0081c"/>
<rect x="367.85" y="399.67" width="7.07" height="7.43" fill="#8a0aa0"/>
<rect x="367.85" y="406.70" width="7.07" height="2.74" fill="#f0081c"/>
<rect x="367.85" y="409.04" width="7.07" height="2.74" fill="#8a0aa0"/>
<rect x="367.85" y="411.38" width="7.07" height="2.74" fill="#f0081c"/>
<rect x="367.85" y="413.73" width="7.07" height="2.74" fill="#5010c8"/>
<rect x="367.85" y="416.07" width="7.07" height="9.77" fill="#f0081c"/>
<rect x="367.85" y="425.45" width="7.07" height="2.74" fill="#8a0aa0"/>
<rect x="367.85" y="427.79" width="7.07" height="9.77" fill="#f0081c"/>
<rect x="367.85" y="437.16" width="7.07" height="2.74" fill="#5010c8"/>
<rect x="367.85" y="439.51" width="7.07" height="2.74" fill="#f0081c"/>
<rect x="367.85" y="441.85" width="7.07" height="5.09" fill="#8a0aa0"/>
<rect x="367.85" y="446.54" width="7.07" height="2.74" fill="#f0081c"/>
<rect x="367.85" y="448.88" width="7.07" height="5.09" fill="#8a0aa0"/>
<rect x="367.85" y="453.57" width="7.07" height="2.74" fill="#f0081c"/>
<rect x="367.85" y="455.91" width="7.07" height="2.74" fill="#5010c8"/>
<rect x="367.85" y="458.25" width="7.07" height="2.74" fill="#f0081c"/>
<rect x="367.85" y="460.60" width="7.07" height="2.74" fill="#8a0aa0"/>
<rect x="367.85" y="462.94" width="7.07" height="2.74" fill="#f0081c"/>
<rect x="367.85" y="465.28" width="7.07" height="2.74" fill="#5010c8"/>
<rect x="367.85" y="467.63" width="7.07" height="9.77" fill="#f0081c"/>
<rect x="367.85" y="477.00" width="7.07" height="2.74" fill="#5010c8"/>
<rect x="367.85" y="479.34" width="7.07" height="2.74" fill="#f0081c"/>
<rect x="367.85" y="481.69" width="7.07" height="2.74" fill="#8a0aa0"/>
<rect x="367.85" y="484.03" width="7.07" height="2.74" fill="#f0081c"/>
<rect x="367.85" y="486.38" width="7.07" height="2.74" fill="#8a0aa0"/>
<rect x="367.85" y="488.72" width="7.07" height="2.74" fill="#f0081c"/>
<rect x="367.85" y="491.06" width="7.07" height="2.74" fill="#8a0aa0"/>
<rect x="367.85" y="493.41" width="7.07" height="7.43" fill="#f0081c"/>
<rect x="367.85" y="500.44" width="7.07" height="2.74" fill="#8a0aa0"/>
<rect x="367.85" y="502.78" width="7.07" height="2.74" fill="#f0081c"/>
<rect x="367.85" y="505.12" width="7.07" height="2.74" fill="#8a0aa0"/>
<rect x="367.85" y="507.47" width="7.07" height="2.74" fill="#f0081c"/>
<rect x="367.85" y="509.81" width="7.07" height="2.74" fill="#8a0aa0"/>
<rect x="367.85" y="512.15" width="7.07" height="5.09" fill="#f0081c"/>
<rect x="367.85" y="516.84" width="7.07" height="2.74" fill="#8a0aa0"/>
<rect x="367.85" y="519.18" width="7.07" height="23.83" fill="#f0081c"/>
<rect x="367.85" y="542.62" width="7.07" height="2.74" fill="#8a0aa0"/>
<rect x="367.85" y="544.96" width="7.07" height="2.74" fill="#5010c8"/>
<rect x="367.85" y="547.30" width="7.07" height="2.74" fill="#8a0aa0"/>
<rect x="367.85" y="549.65" width="7.07" height="5.09" fill="#f0081c"/>
<rect x="367.85" y="554.34" width="7.07" height="2.74" fill="#5010c8"/>
<rect x="367.85" y="556.68" width="7.07" height="2.74" fill="#f0081c"/>
<rect x="367.85" y="559.02" width="7.07" height="2.74" fill="#8a0aa0"/>
<rect x="367.85" y="561.37" width="7.07" height="2.74" fill="#f0081c"/>
<rect x="367.85" y="563.71" width="7.07" height="5.09" fill="#8a0aa0"/>
<rect x="367.85" y="568.40" width="7.07" height="5.09" fill="#f0081c"/>
<rect x="367.85" y="573.08" width="7.07" height="2.74" fill="#8a0aa0"/>
<rect x="367.85" y="575.43" width="7.07" height="2.74" fill="#5010c8"/>
<rect x="367.85" y="577.77" width="7.07" height="2.74" fill="#8a0aa0"/>
<rect x="367.85" y="580.11" width="7.07" height="4.69" fill="#f0081c"/>
<rect x="374.52" y="245.00" width="6.67" height="2.74" fill="#5010c8"/>
<rect x="374.52" y="247.34" width="6.67" height="2.74" fill="#1c06dc"/>
<rect x="374.52" y="249.69" width="6.67" height="2.74" fill="#8a0aa0"/>
<rect x="374.52" y="252.03" width="6.67" height="2.74" fill="#1c06dc"/>
<rect x="374.52" y="254.37" width="6.67" height="2.74" fill="#5010c8"/>
<rect x="374.52" y="256.72" width="6.67" height="2.74" fill="#1c06dc"/>
<rect x="374.52" y="259.06" width="6.67" height="2.74" fill="#8a0aa0"/>
<rect x="374.52" y="261.40" width="6.67" height="12.12" fill="#1c06dc"/>
<rect x="374.52" y="273.12" width="6.67" height="5.09" fill="#8a0aa0"/>
<rect x="374.52" y="277.81" width="6.67" height="2.74" fill="#5010c8"/>
<rect x="374.52" y="280.15" width="6.67" height="2.74" fill="#1c06dc"/>
<rect x="374.52" y="282.50" width="6.67" height="2.74" fill="#5010c8"/>
<rect x="374.52" y="284.84" width="6.67" height="2.74" fill="#1c06dc"/>
<rect x="374.52" y="287.18" width="6.67" height="2.74" fill="#5010c8"/>
<rect x="374.52" y="289.53" width="6.67" height="2.74" fill="#8a0aa0"/>
<rect x="374.52" y="291.87" width="6.67" height="5.09" fill="#5010c8"/>
<rect x="374.52" y="296.56" width="6.67" height="9.77" fill="#1c06dc"/>
<rect x="374.52" y="305.93" width="6.67" height="2.74" fill="#5010c8"/>
<rect x="374.52" y="308.27" width="6.67" height="47.27" fill="#1c06dc"/>
<rect x="374.52" y="355.14" width="6.67" height="2.74" fill="#5010c8"/>
<rect x="374.52" y="357.49" width="6.67" height="12.12" fill="#1c06dc"/>
<rect x="374.52" y="369.20" width="6.67" height="5.09" fill="#8a0aa0"/>
<rect x="374.52" y="373.89" width="6.67" height="5.09" fill="#1c06dc"/>
<rect x="374.52" y="378.58" width="6.67" height="7.43" fill="#5010c8"/>
<rect x="374.52" y="385.61" width="6.67" height="7.43" fill="#1c06dc"/>
<rect x="374.52" y="392.64" width="6.67" height="2.74" fill="#8a0aa0"/>
<rect x="374.52" y="394.98" width="6.67" height="5.09" fill="#5010c8"/>
<rect x="374.52" y="399.67" width="6.67" height="2.74" fill="#1c06dc"/>
<rect x="374.52" y="402.01" width="6.67" height="5.09" fill="#5010c8"/>
<rect x="374.52" y="406.70" width="6.67" height="14.46" fill="#1c06dc"/>
<rect x="374.52" y="420.76" width="6.67" height="2.74" fill="#f0081c"/>
<rect x="374.52" y="423.10" width="6.67" height="23.83" fill="#1c06dc"/>
<rect x="374.52" y="446.54" width="6.67" height="2.74" fill="#f0081c"/>
<rect x="374.52" y="448.88" width="6.67" height="5.09" fill="#1c06dc"/>
<rect x="374.52" y="453.57" width="6.67" height="2.74" fill="#5010c8"/>
<rect x="374.52" y="455.91" width="6.67" height="16.80" fill="#1c06dc"/>
<rect x="374.52" y="472.31" width="6.67" height="7.43" fill="#5010c8"/>
<rect x="374.52" y="479.34" width="6.67" height="12.12" fill="#1c06dc"/>
<rect x="374.52" y="491.06" width="6.67" height="2.74" fill="#5010c8"/>
<rect x="374.52" y="493.41" width="6.67" height="9.77" fill="#1c06dc"/>
<rect x="374.52" y="502.78" width="6.67" height="2.74" fill="#5010c8"/>
<rect x="374.52" y="505.12" width="6.67" height="5.09" fill="#1c06dc"/>
<rect x="374.52" y="509.81" width="6.67" height="2.74" fill="#5010c8"/>
<rect x="374.52" y="512.15" width="6.67" height="5.09" fill="#1c06dc"/>
<rect x="374.52" y="516.84" width="6.67" height="2.74" fill="#5010c8"/>
<rect x="374.52" y="519.18" width="6.67" height="19.15" fill="#1c06dc"/>
<rect x="374.52" y="537.93" width="6.67" height="2.74" fill="#5010c8"/>
<rect x="374.52" y="540.27" width="6.67" height="19.15" fill="#1c06dc"/>
<rect x="374.52" y="559.02" width="6.67" height="2.74" fill="#8a0aa0"/>
<rect x="374.52" y="561.37" width="6.67" height="19.15" fill="#1c06dc"/>
<rect x="374.52" y="580.11" width="6.67" height="2.74" fill="#f0081c"/>
<rect x="374.52" y="582.46" width="6.67" height="2.34" fill="#5010c8"/>
<g transform="scale(0.25)">
<text x="350.4" y="959.96" font-size="11.60" fill="#222" textLength="28.6" lengthAdjust="spacingAndGlyphs">Prdx2</text>
<text x="350.4" y="969.33" font-size="11.60" fill="#222" textLength="18.2" lengthAdjust="spacingAndGlyphs">Vim</text>
<text x="350.4" y="978.70" font-size="11.60" fill="#222" textLength="25.5" lengthAdjust="spacingAndGlyphs">Npm1</text>
<text x="350.4" y="988.06" font-size="11.60" fill="#222" textLength="18.9" lengthAdjust="spacingAndGlyphs">Myc</text>
<text x="350.4" y="997.43" font-size="11.60" fill="#222" textLength="32.3" lengthAdjust="spacingAndGlyphs">Eef1a1</text>
<text x="350.4" y="1006.80" font-size="11.60" fill="#222" textLength="21.8" lengthAdjust="spacingAndGlyphs">Rps6</text>
<text x="350.4" y="1016.16" font-size="11.60" fill="#222" textLength="30.7" lengthAdjust="spacingAndGlyphs">Hbb-b1</text>
<text x="350.4" y="1025.53" font-size="11.60" fill="#222" textLength="23.0" lengthAdjust="spacingAndGlyphs">Ssr4</text>
<text x="350.4" y="1034.90" font-size="11.60" fill="#222" textLength="25.2" lengthAdjust="spacingAndGlyphs">Uros</text>
<text x="350.4" y="1044.26" font-size="11.60" fill="#222" textLength="25.9" lengthAdjust="spacingAndGlyphs">Pklr</text>
<text x="350.4" y="1053.63" font-size="11.60" fill="#222" textLength="20.7" lengthAdjust="spacingAndGlyphs">Aco2</text>
<text x="350.4" y="1063.00" font-size="11.60" fill="#222" textLength="24.1" lengthAdjust="spacingAndGlyphs">Actb</text>
<text x="350.4" y="1072.37" font-size="11.60" fill="#222" textLength="32.7" lengthAdjust="spacingAndGlyphs">Spta1</text>
<text x="350.4" y="1081.73" font-size="11.60" fill="#222" textLength="29.2" lengthAdjust="spacingAndGlyphs">Hsp90</text>
<text x="350.4" y="1091.10" font-size="11.60" fill="#222" textLength="24.3" lengthAdjust="spacingAndGlyphs">Urod</text>
<text x="350.4" y="1100.47" font-size="11.60" fill="#222" textLength="35.9" lengthAdjust="spacingAndGlyphs">Hist1h1</text>
<text x="350.4" y="1109.83" font-size="11.60" fill="#222" textLength="21.1" lengthAdjust="spacingAndGlyphs">Tal1</text>
<text x="350.4" y="1119.20" font-size="11.60" fill="#222" textLength="34.7" lengthAdjust="spacingAndGlyphs">Slc4a1</text>
<text x="350.4" y="1128.57" font-size="11.60" fill="#222" textLength="31.0" lengthAdjust="spacingAndGlyphs">Pdia3</text>
<text x="350.4" y="1137.93" font-size="11.60" fill="#222" textLength="29.1" lengthAdjust="spacingAndGlyphs">Tubb5</text>
<text x="350.4" y="1147.30" font-size="11.60" fill="#222" textLength="24.4" lengthAdjust="spacingAndGlyphs">Ank1</text>
<text x="350.4" y="1156.67" font-size="11.60" fill="#222" textLength="19.2" lengthAdjust="spacingAndGlyphs">Myc</text>
<text x="350.4" y="1166.04" font-size="11.60" fill="#222" textLength="20.8" lengthAdjust="spacingAndGlyphs">Gpi1</text>
<text x="350.4" y="1175.40" font-size="11.60" fill="#222" textLength="27.1" lengthAdjust="spacingAndGlyphs">Tmod1</text>
<text x="350.4" y="1184.77" font-size="11.60" fill="#222" textLength="24.9" lengthAdjust="spacingAndGlyphs">Sdha</text>
<text x="350.4" y="1194.14" font-size="11.60" fill="#222" textLength="26.3" lengthAdjust="spacingAndGlyphs">Ssr4</text>
<text x="350.4" y="1203.50" font-size="11.60" fill="#222" textLength="21.1" lengthAdjust="spacingAndGlyphs">Klf1</text>
<text x="350.4" y="1212.87" font-size="11.60" fill="#222" textLength="17.8" lengthAdjust="spacingAndGlyphs">Myc</text>
<text x="350.4" y="1222.24" font-size="11.60" fill="#222" textLength="27.0" lengthAdjust="spacingAndGlyphs">Hmgb2</text>
<text x="350.4" y="1231.60" font-size="11.60" fill="#222" textLength="25.7" lengthAdjust="spacingAndGlyphs">Uros</text>
<text x="350.4" y="1240.97" font-size="11.60" fill="#222" textLength="22.2" lengthAdjust="spacingAndGlyphs">Actb</text>
<text x="350.4" y="1250.34" font-size="11.60" fill="#222" textLength="35.1" lengthAdjust="spacingAndGlyphs">Lgals1</text>
<text x="350.4" y="1259.71" font-size="11.60" fill="#222" textLength="33.0" lengthAdjust="spacingAndGlyphs">Ccnb1</text>
<text x="350.4" y="1269.07" font-size="11.60" fill="#222" textLength="27.5" lengthAdjust="spacingAndGlyphs">Hmgb2</text>
<text x="350.4" y="1278.44" font-size="11.60" fill="#222" textLength="21.4" lengthAdjust="spacingAndGlyphs">Tal1</text>
<text x="350.4" y="1287.81" font-size="11.60" fill="#222" textLength="25.5" lengthAdjust="spacingAndGlyphs">Nop56</text>
<text x="350.4" y="1297.17" font-size="11.60" fill="#222" textLength="23.7" lengthAdjust="spacingAndGlyphs">Tfrc</text>
<text x="350.4" y="1306.54" font-size="11.60" fill="#222" textLength="21.7" lengthAdjust="spacingAndGlyphs">Rpl3</text>
<text x="350.4" y="1315.91" font-size="11.60" fill="#222" textLength="16.7" lengthAdjust="spacingAndGlyphs">Ubb</text>
<text x="350.4" y="1325.27" font-size="11.60" fill="#222" textLength="21.1" lengthAdjust="spacingAndGlyphs">Ctsb</text>
<text x="350.4" y="1334.64" font-size="11.60" fill="#222" textLength="21.4" lengthAdjust="spacingAndGlyphs">Idh2</text>
<text x="350.4" y="1344.01" font-size="11.60" fill="#222" textLength="25.4" lengthAdjust="spacingAndGlyphs">Mcm5</text>
<text x="350.4" y="1353.38" font-size="11.60" fill="#222" textLength="22.5" lengthAdjust="spacingAndGlyphs">Pcna</text>
<text x="350.4" y="1362.74" font-size="11.60" fill="#222" textLength="32.5" lengthAdjust="spacingAndGlyphs">Psmb5</text>
<text x="350.4" y="1372.11" font-size="11.60" fill="#222" textLength="15.8" lengthAdjust="spacingAndGlyphs">Hk1</text>
<text x="350.4" y="1381.48" font-size="11.60" fill="#222" textLength="25.9" lengthAdjust="spacingAndGlyphs">Tfrc</text>
<text x="350.4" y="1390.84" font-size="11.60" fill="#222" textLength="25.1" lengthAdjust="spacingAndGlyphs">Sptb</text>
<text x="350.4" y="1400.21" font-size="11.60" fill="#222" textLength="37.4" lengthAdjust="spacingAndGlyphs">Hist1h1</text>
<text x="350.4" y="1409.58" font-size="11.60" fill="#222" textLength="30.6" lengthAdjust="spacingAndGlyphs">Spta1</text>
<text x="350.4" y="1418.94" font-size="11.60" fill="#222" textLength="26.1" lengthAdjust="spacingAndGlyphs">Sdha</text>
<text x="350.4" y="1428.31" font-size="11.60" fill="#222" textLength="25.9" lengthAdjust="spacingAndGlyphs">Actb</text>
<text x="350.4" y="1437.68" font-size="11.60" fill="#222" textLength="26.2" lengthAdjust="spacingAndGlyphs">Car2</text>
<text x="350.4" y="1447.05" font-size="11.60" fill="#222" textLength="25.6" lengthAdjust="spacingAndGlyphs">Psma1</text>
<text x="350.4" y="1456.41" font-size="11.60" fill="#222" textLength="23.3" lengthAdjust="spacingAndGlyphs">Mcm5</text>
<text x="350.4" y="1465.78" font-size="11.60" fill="#222" textLength="30.5" lengthAdjust="spacingAndGlyphs">H2afz</text>
<text x="350.4" y="1475.15" font-size="11.60" fill="#222" textLength="16.0" lengthAdjust="spacingAndGlyphs">Hk1</text>
<text x="350.4" y="1484.51" font-size="11.60" fill="#222" textLength="23.0" lengthAdjust="spacingAndGlyphs">Tfrc</text>
<text x="350.4" y="1493.88" font-size="11.60" fill="#222" textLength="25.0" lengthAdjust="spacingAndGlyphs">Actb</text>
<text x="350.4" y="1503.25" font-size="11.60" fill="#222" textLength="20.7" lengthAdjust="spacingAndGlyphs">Npm1</text>
<text x="350.4" y="1512.61" font-size="11.60" fill="#222" textLength="20.7" lengthAdjust="spacingAndGlyphs">Eno1</text>
<text x="350.4" y="1521.98" font-size="11.60" fill="#222" textLength="24.4" lengthAdjust="spacingAndGlyphs">Tpi1</text>
<text x="350.4" y="1531.35" font-size="11.60" fill="#222" textLength="28.6" lengthAdjust="spacingAndGlyphs">Spta1</text>
<text x="350.4" y="1540.72" font-size="11.60" fill="#222" textLength="28.5" lengthAdjust="spacingAndGlyphs">Prdx2</text>
<text x="350.4" y="1550.08" font-size="11.60" fill="#222" textLength="24.3" lengthAdjust="spacingAndGlyphs">Mcm2</text>
<text x="350.4" y="1559.45" font-size="11.60" fill="#222" textLength="26.3" lengthAdjust="spacingAndGlyphs">Uros</text>
<text x="350.4" y="1568.82" font-size="11.60" fill="#222" textLength="20.7" lengthAdjust="spacingAndGlyphs">Npm1</text>
<text x="350.4" y="1578.18" font-size="11.60" fill="#222" textLength="26.2" lengthAdjust="spacingAndGlyphs">Hmbs</text>
<text x="350.4" y="1587.55" font-size="11.60" fill="#222" textLength="25.9" lengthAdjust="spacingAndGlyphs">Rps6</text>
<text x="350.4" y="1596.92" font-size="11.60" fill="#222" textLength="20.6" lengthAdjust="spacingAndGlyphs">Npm1</text>
<text x="350.4" y="1606.28" font-size="11.60" fill="#222" textLength="25.8" lengthAdjust="spacingAndGlyphs">Aqp1</text>
<text x="350.4" y="1615.65" font-size="11.60" fill="#222" textLength="25.2" lengthAdjust="spacingAndGlyphs">Tyms</text>
<text x="350.4" y="1625.02" font-size="11.60" fill="#222" textLength="42.0" lengthAdjust="spacingAndGlyphs">Hist1h1</text>
<text x="350.4" y="1634.39" font-size="11.60" fill="#222" textLength="23.3" lengthAdjust="spacingAndGlyphs">Cfl1</text>
<text x="350.4" y="1643.75" font-size="11.60" fill="#222" textLength="22.2" lengthAdjust="spacingAndGlyphs">Npm1</text>
<text x="350.4" y="1653.12" font-size="11.60" fill="#222" textLength="29.9" lengthAdjust="spacingAndGlyphs">Hspa8</text>
<text x="350.4" y="1662.49" font-size="11.60" fill="#222" textLength="25.0" lengthAdjust="spacingAndGlyphs">Hmbs</text>
<text x="350.4" y="1671.85" font-size="11.60" fill="#222" textLength="28.4" lengthAdjust="spacingAndGlyphs">Alas2</text>
<text x="350.4" y="1681.22" font-size="11.60" fill="#222" textLength="26.1" lengthAdjust="spacingAndGlyphs">Ppox</text>
<text x="350.4" y="1690.59" font-size="11.60" fill="#222" textLength="33.0" lengthAdjust="spacingAndGlyphs">Epb4.2</text>
<text x="350.4" y="1699.95" font-size="11.60" fill="#222" textLength="24.3" lengthAdjust="spacingAndGlyphs">Cdk1</text>
<text x="350.4" y="1709.32" font-size="11.60" fill="#222" textLength="22.9" lengthAdjust="spacingAndGlyphs">Ssr4</text>
<text x="350.4" y="1718.69" font-size="11.60" fill="#222" textLength="11.4" lengthAdjust="spacingAndGlyphs">Cs</text>
<text x="350.4" y="1728.06" font-size="11.60" fill="#222" textLength="21.2" lengthAdjust="spacingAndGlyphs">Hmbs</text>
<text x="350.4" y="1737.42" font-size="11.60" fill="#222" textLength="22.8" lengthAdjust="spacingAndGlyphs">Nfe2</text>
<text x="350.4" y="1746.79" font-size="11.60" fill="#222" textLength="20.6" lengthAdjust="spacingAndGlyphs">Ank1</text>
<text x="350.4" y="1756.16" font-size="11.60" fill="#222" textLength="37.7" lengthAdjust="spacingAndGlyphs">Lgals1</text>
<text x="350.4" y="1765.52" font-size="11.60" fill="#222" textLength="25.6" lengthAdjust="spacingAndGlyphs">Klf1</text>
<text x="350.4" y="1774.89" font-size="11.60" fill="#222" textLength="33.1" lengthAdjust="spacingAndGlyphs">Ndufa4</text>
<text x="350.4" y="1784.26" font-size="11.60" fill="#222" textLength="29.5" lengthAdjust="spacingAndGlyphs">Mki67</text>
<text x="350.4" y="1793.62" font-size="11.60" fill="#222" textLength="22.8" lengthAdjust="spacingAndGlyphs">Cdk1</text>
<text x="350.4" y="1802.99" font-size="11.60" fill="#222" textLength="24.1" lengthAdjust="spacingAndGlyphs">Bpgm</text>
<text x="350.4" y="1812.36" font-size="11.60" fill="#222" textLength="21.5" lengthAdjust="spacingAndGlyphs">Ank1</text>
<text x="350.4" y="1821.73" font-size="11.60" fill="#222" textLength="27.0" lengthAdjust="spacingAndGlyphs">H2afz</text>
<text x="350.4" y="1831.09" font-size="11.60" fill="#222" textLength="31.2" lengthAdjust="spacingAndGlyphs">Pdia3</text>
<text x="350.4" y="1840.46" font-size="11.60" fill="#222" textLength="18.5" lengthAdjust="spacingAndGlyphs">Ubb</text>
<text x="350.4" y="1849.83" font-size="11.60" fill="#222" textLength="18.9" lengthAdjust="spacingAndGlyphs">Kel</text>
<text x="350.4" y="1859.19" font-size="11.60" fill="#222" textLength="28.4" lengthAdjust="spacingAndGlyphs">Alas2</text>
<text x="350.4" y="1868.56" font-size="11.60" fill="#222" textLength="22.8" lengthAdjust="spacingAndGlyphs">Tfrc</text>
<text x="350.4" y="1877.93" font-size="11.60" fill="#222" textLength="21.5" lengthAdjust="spacingAndGlyphs">Canx</text>
<text x="350.4" y="1887.29" font-size="11.60" fill="#222" textLength="21.9" lengthAdjust="spacingAndGlyphs">Pklr</text>
<text x="350.4" y="1896.66" font-size="11.60" fill="#222" textLength="18.0" lengthAdjust="spacingAndGlyphs">Fh1</text>
<text x="350.4" y="1906.03" font-size="11.60" fill="#222" textLength="21.9" lengthAdjust="spacingAndGlyphs">Gypa</text>
<text x="350.4" y="1915.39" font-size="11.60" fill="#222" textLength="27.8" lengthAdjust="spacingAndGlyphs">Blvrb</text>
</g>
<g transform="scale(0.25)">
<text x="774.8" y="961.94" font-size="11.60" fill="#222" textLength="25.5" lengthAdjust="spacingAndGlyphs">Hmbs</text>
<text x="774.8" y="971.28" font-size="11.60" fill="#222" textLength="46.2" lengthAdjust="spacingAndGlyphs">Sqstm1</text>
<text x="774.8" y="980.62" font-size="11.60" fill="#222" textLength="28.7" lengthAdjust="spacingAndGlyphs">Ank1</text>
<text x="774.8" y="989.96" font-size="11.60" fill="#222" textLength="44.9" lengthAdjust="spacingAndGlyphs">Ndufa4</text>
<text x="774.8" y="999.30" font-size="11.60" fill="#222" textLength="31.8" lengthAdjust="spacingAndGlyphs">Gata1</text>
<text x="774.8" y="1008.64" font-size="11.60" fill="#222" textLength="19.5" lengthAdjust="spacingAndGlyphs">Rhd</text>
<text x="774.8" y="1017.98" font-size="11.60" fill="#222" textLength="31.3" lengthAdjust="spacingAndGlyphs">Psmb5</text>
<text x="774.8" y="1027.32" font-size="11.60" fill="#222" textLength="35.7" lengthAdjust="spacingAndGlyphs">Pdia3</text>
<text x="774.8" y="1036.66" font-size="11.60" fill="#222" textLength="28.8" lengthAdjust="spacingAndGlyphs">Pfn1</text>
<text x="774.8" y="1046.00" font-size="11.60" fill="#222" textLength="20.9" lengthAdjust="spacingAndGlyphs">Rhd</text>
<text x="774.8" y="1055.34" font-size="11.60" fill="#222" textLength="41.9" lengthAdjust="spacingAndGlyphs">Slc4a1</text>
<text x="774.8" y="1064.68" font-size="11.60" fill="#222" textLength="33.4" lengthAdjust="spacingAndGlyphs">Top2a</text>
<text x="774.8" y="1074.02" font-size="11.60" fill="#222" textLength="29.7" lengthAdjust="spacingAndGlyphs">Ank1</text>
<text x="774.8" y="1083.36" font-size="11.60" fill="#222" textLength="27.5" lengthAdjust="spacingAndGlyphs">Ssr4</text>
<text x="774.8" y="1092.70" font-size="11.60" fill="#222" textLength="24.2" lengthAdjust="spacingAndGlyphs">Canx</text>
<text x="774.8" y="1102.04" font-size="11.60" fill="#222" textLength="28.1" lengthAdjust="spacingAndGlyphs">Cdk1</text>
<text x="774.8" y="1111.38" font-size="11.60" fill="#222" textLength="25.1" lengthAdjust="spacingAndGlyphs">Tpi1</text>
<text x="774.8" y="1120.72" font-size="11.60" fill="#222" textLength="32.5" lengthAdjust="spacingAndGlyphs">Stmn1</text>
<text x="774.8" y="1130.06" font-size="11.60" fill="#222" textLength="41.1" lengthAdjust="spacingAndGlyphs">Ndufa4</text>
<text x="774.8" y="1139.40" font-size="11.60" fill="#222" textLength="29.6" lengthAdjust="spacingAndGlyphs">Pgk1</text>
<text x="774.8" y="1148.73" font-size="11.60" fill="#222" textLength="28.6" lengthAdjust="spacingAndGlyphs">Idh2</text>
<text x="774.8" y="1158.07" font-size="11.60" fill="#222" textLength="24.1" lengthAdjust="spacingAndGlyphs">Pfn1</text>
<text x="774.8" y="1167.41" font-size="11.60" fill="#222" textLength="37.6" lengthAdjust="spacingAndGlyphs">Hspa8</text>
<text x="774.8" y="1176.75" font-size="11.60" fill="#222" textLength="22.7" lengthAdjust="spacingAndGlyphs">Vim</text>
<text x="774.8" y="1186.09" font-size="11.60" fill="#222" textLength="38.7" lengthAdjust="spacingAndGlyphs">Eif4a1</text>
<text x="774.8" y="1195.43" font-size="11.60" fill="#222" textLength="26.6" lengthAdjust="spacingAndGlyphs">Actb</text>
<text x="774.8" y="1204.77" font-size="11.60" fill="#222" textLength="26.0" lengthAdjust="spacingAndGlyphs">Ank1</text>
<text x="774.8" y="1214.11" font-size="11.60" fill="#222" textLength="46.5" lengthAdjust="spacingAndGlyphs">Hist1h1</text>
<text x="774.8" y="1223.45" font-size="11.60" fill="#222" textLength="38.8" lengthAdjust="spacingAndGlyphs">Epb4.2</text>
<text x="774.8" y="1232.79" font-size="11.60" fill="#222" textLength="34.7" lengthAdjust="spacingAndGlyphs">Psmb5</text>
<text x="774.8" y="1242.13" font-size="11.60" fill="#222" textLength="26.8" lengthAdjust="spacingAndGlyphs">Rps6</text>
<text x="774.8" y="1251.47" font-size="11.60" fill="#222" textLength="30.1" lengthAdjust="spacingAndGlyphs">Mdh2</text>
<text x="774.8" y="1260.81" font-size="11.60" fill="#222" textLength="24.4" lengthAdjust="spacingAndGlyphs">Cfl1</text>
<text x="774.8" y="1270.15" font-size="11.60" fill="#222" textLength="39.4" lengthAdjust="spacingAndGlyphs">Tmsb4x</text>
<text x="774.8" y="1279.49" font-size="11.60" fill="#222" textLength="29.3" lengthAdjust="spacingAndGlyphs">Pfn1</text>
<text x="774.8" y="1288.83" font-size="11.60" fill="#222" textLength="22.7" lengthAdjust="spacingAndGlyphs">Kel</text>
<text x="774.8" y="1298.17" font-size="11.60" fill="#222" textLength="34.2" lengthAdjust="spacingAndGlyphs">Tmod1</text>
<text x="774.8" y="1307.51" font-size="11.60" fill="#222" textLength="29.8" lengthAdjust="spacingAndGlyphs">Tubb5</text>
<text x="774.8" y="1316.85" font-size="11.60" fill="#222" textLength="45.1" lengthAdjust="spacingAndGlyphs">S100a6</text>
<text x="774.8" y="1326.19" font-size="11.60" fill="#222" textLength="30.0" lengthAdjust="spacingAndGlyphs">Prdx2</text>
<text x="774.8" y="1335.53" font-size="11.60" fill="#222" textLength="32.8" lengthAdjust="spacingAndGlyphs">H2afz</text>
<text x="774.8" y="1344.87" font-size="11.60" fill="#222" textLength="30.2" lengthAdjust="spacingAndGlyphs">Pcna</text>
<text x="774.8" y="1354.21" font-size="11.60" fill="#222" textLength="31.4" lengthAdjust="spacingAndGlyphs">Lamp1</text>
<text x="774.8" y="1363.55" font-size="11.60" fill="#222" textLength="30.3" lengthAdjust="spacingAndGlyphs">Spta1</text>
<text x="774.8" y="1372.89" font-size="11.60" fill="#222" textLength="29.4" lengthAdjust="spacingAndGlyphs">Hmbs</text>
<text x="774.8" y="1382.23" font-size="11.60" fill="#222" textLength="43.5" lengthAdjust="spacingAndGlyphs">Cox4i1</text>
<text x="774.8" y="1391.57" font-size="11.60" fill="#222" textLength="43.0" lengthAdjust="spacingAndGlyphs">Ndufa4</text>
<text x="774.8" y="1400.91" font-size="11.60" fill="#222" textLength="18.9" lengthAdjust="spacingAndGlyphs">Rhd</text>
<text x="774.8" y="1410.25" font-size="11.60" fill="#222" textLength="29.6" lengthAdjust="spacingAndGlyphs">Cpox</text>
<text x="774.8" y="1419.59" font-size="11.60" fill="#222" textLength="33.8" lengthAdjust="spacingAndGlyphs">Psma1</text>
<text x="774.8" y="1428.93" font-size="11.60" fill="#222" textLength="27.3" lengthAdjust="spacingAndGlyphs">Cpox</text>
<text x="774.8" y="1438.27" font-size="11.60" fill="#222" textLength="24.7" lengthAdjust="spacingAndGlyphs">Rps6</text>
<text x="774.8" y="1447.61" font-size="11.60" fill="#222" textLength="30.7" lengthAdjust="spacingAndGlyphs">Eno1</text>
<text x="774.8" y="1456.95" font-size="11.60" fill="#222" textLength="20.3" lengthAdjust="spacingAndGlyphs">Myc</text>
<text x="774.8" y="1466.29" font-size="11.60" fill="#222" textLength="28.3" lengthAdjust="spacingAndGlyphs">Tfrc</text>
<text x="774.8" y="1475.63" font-size="11.60" fill="#222" textLength="30.5" lengthAdjust="spacingAndGlyphs">Rrm2</text>
<text x="774.8" y="1484.97" font-size="11.60" fill="#222" textLength="29.5" lengthAdjust="spacingAndGlyphs">Urod</text>
<text x="774.8" y="1494.31" font-size="11.60" fill="#222" textLength="19.2" lengthAdjust="spacingAndGlyphs">Ubb</text>
<text x="774.8" y="1503.65" font-size="11.60" fill="#222" textLength="23.9" lengthAdjust="spacingAndGlyphs">Cpox</text>
<text x="774.8" y="1512.99" font-size="11.60" fill="#222" textLength="39.4" lengthAdjust="spacingAndGlyphs">Eif4a1</text>
<text x="774.8" y="1522.33" font-size="11.60" fill="#222" textLength="26.2" lengthAdjust="spacingAndGlyphs">Tfrc</text>
<text x="774.8" y="1531.67" font-size="11.60" fill="#222" textLength="35.3" lengthAdjust="spacingAndGlyphs">Prdx2</text>
<text x="774.8" y="1541.01" font-size="11.60" fill="#222" textLength="33.6" lengthAdjust="spacingAndGlyphs">Psmb5</text>
<text x="774.8" y="1550.35" font-size="11.60" fill="#222" textLength="31.3" lengthAdjust="spacingAndGlyphs">Gapdh</text>
<text x="774.8" y="1559.69" font-size="11.60" fill="#222" textLength="30.6" lengthAdjust="spacingAndGlyphs">Klf1</text>
<text x="774.8" y="1569.03" font-size="11.60" fill="#222" textLength="28.6" lengthAdjust="spacingAndGlyphs">Rrm2</text>
<text x="774.8" y="1578.37" font-size="11.60" fill="#222" textLength="27.5" lengthAdjust="spacingAndGlyphs">Aqp1</text>
<text x="774.8" y="1587.71" font-size="11.60" fill="#222" textLength="22.4" lengthAdjust="spacingAndGlyphs">Ncl</text>
<text x="774.8" y="1597.05" font-size="11.60" fill="#222" textLength="24.0" lengthAdjust="spacingAndGlyphs">Ank1</text>
<text x="774.8" y="1606.39" font-size="11.60" fill="#222" textLength="27.9" lengthAdjust="spacingAndGlyphs">Nfe2</text>
<text x="774.8" y="1615.73" font-size="11.60" fill="#222" textLength="25.3" lengthAdjust="spacingAndGlyphs">Ctsb</text>
<text x="774.8" y="1625.07" font-size="11.60" fill="#222" textLength="24.6" lengthAdjust="spacingAndGlyphs">Mcm5</text>
<text x="774.8" y="1634.40" font-size="11.60" fill="#222" textLength="29.6" lengthAdjust="spacingAndGlyphs">Rps6</text>
<text x="774.8" y="1643.74" font-size="11.60" fill="#222" textLength="31.8" lengthAdjust="spacingAndGlyphs">Spta1</text>
<text x="774.8" y="1653.08" font-size="11.60" fill="#222" textLength="24.0" lengthAdjust="spacingAndGlyphs">Ctsb</text>
<text x="774.8" y="1662.42" font-size="11.60" fill="#222" textLength="29.1" lengthAdjust="spacingAndGlyphs">Rhag</text>
<text x="774.8" y="1671.76" font-size="11.60" fill="#222" textLength="33.1" lengthAdjust="spacingAndGlyphs">Atp5b</text>
<text x="774.8" y="1681.10" font-size="11.60" fill="#222" textLength="28.8" lengthAdjust="spacingAndGlyphs">Aco2</text>
<text x="774.8" y="1690.44" font-size="11.60" fill="#222" textLength="32.0" lengthAdjust="spacingAndGlyphs">Anxa2</text>
<text x="774.8" y="1699.78" font-size="11.60" fill="#222" textLength="24.6" lengthAdjust="spacingAndGlyphs">Pklr</text>
<text x="774.8" y="1709.12" font-size="11.60" fill="#222" textLength="30.3" lengthAdjust="spacingAndGlyphs">Tfrc</text>
<text x="774.8" y="1718.46" font-size="11.60" fill="#222" textLength="24.9" lengthAdjust="spacingAndGlyphs">Canx</text>
<text x="774.8" y="1727.80" font-size="11.60" fill="#222" textLength="39.0" lengthAdjust="spacingAndGlyphs">Cox4i1</text>
<text x="774.8" y="1737.14" font-size="11.60" fill="#222" textLength="40.9" lengthAdjust="spacingAndGlyphs">Epb4.2</text>
<text x="774.8" y="1746.48" font-size="11.60" fill="#222" textLength="19.3" lengthAdjust="spacingAndGlyphs">Ubb</text>
<text x="774.8" y="1755.82" font-size="11.60" fill="#222" textLength="21.5" lengthAdjust="spacingAndGlyphs">Ncl</text>
<text x="774.8" y="1765.16" font-size="11.60" fill="#222" textLength="29.2" lengthAdjust="spacingAndGlyphs">Pgk1</text>
<text x="774.8" y="1774.50" font-size="11.60" fill="#222" textLength="38.0" lengthAdjust="spacingAndGlyphs">Hbb-b1</text>
<text x="774.8" y="1783.84" font-size="11.60" fill="#222" textLength="44.6" lengthAdjust="spacingAndGlyphs">Lgals1</text>
<text x="774.8" y="1793.18" font-size="11.60" fill="#222" textLength="26.9" lengthAdjust="spacingAndGlyphs">Pklr</text>
<text x="774.8" y="1802.52" font-size="11.60" fill="#222" textLength="24.8" lengthAdjust="spacingAndGlyphs">Pfn1</text>
<text x="774.8" y="1811.86" font-size="11.60" fill="#222" textLength="25.6" lengthAdjust="spacingAndGlyphs">Mcm2</text>
<text x="774.8" y="1821.20" font-size="11.60" fill="#222" textLength="23.9" lengthAdjust="spacingAndGlyphs">Aco2</text>
<text x="774.8" y="1830.54" font-size="11.60" fill="#222" textLength="35.1" lengthAdjust="spacingAndGlyphs">H2afz</text>
<text x="774.8" y="1839.88" font-size="11.60" fill="#222" textLength="25.0" lengthAdjust="spacingAndGlyphs">Fech</text>
<text x="774.8" y="1849.22" font-size="11.60" fill="#222" textLength="27.7" lengthAdjust="spacingAndGlyphs">Ctsb</text>
<text x="774.8" y="1858.56" font-size="11.60" fill="#222" textLength="25.8" lengthAdjust="spacingAndGlyphs">Tyms</text>
<text x="774.8" y="1867.90" font-size="11.60" fill="#222" textLength="38.5" lengthAdjust="spacingAndGlyphs">Eef1a1</text>
<text x="774.8" y="1877.24" font-size="11.60" fill="#222" textLength="25.7" lengthAdjust="spacingAndGlyphs">Tpi1</text>
<text x="774.8" y="1886.58" font-size="11.60" fill="#222" textLength="26.2" lengthAdjust="spacingAndGlyphs">Car2</text>
<text x="774.8" y="1895.92" font-size="11.60" fill="#222" textLength="40.9" lengthAdjust="spacingAndGlyphs">Eef1a1</text>
<text x="774.8" y="1905.26" font-size="11.60" fill="#222" textLength="36.9" lengthAdjust="spacingAndGlyphs">Nop56</text>
<text x="774.8" y="1914.60" font-size="11.60" fill="#222" textLength="31.4" lengthAdjust="spacingAndGlyphs">Hspa8</text>
</g>
<g transform="scale(0.25)">
<text x="1542.0" y="987.97" font-size="11.60" fill="#222" textLength="25.8" lengthAdjust="spacingAndGlyphs">Ldha</text>
<text x="1542.0" y="997.34" font-size="11.60" fill="#222" textLength="25.6" lengthAdjust="spacingAndGlyphs">Gata1</text>
<text x="1542.0" y="1006.72" font-size="11.60" fill="#222" textLength="28.7" lengthAdjust="spacingAndGlyphs">Top2a</text>
<text x="1542.0" y="1016.09" font-size="11.60" fill="#222" textLength="22.5" lengthAdjust="spacingAndGlyphs">Rps6</text>
<text x="1542.0" y="1025.46" font-size="11.60" fill="#222" textLength="22.0" lengthAdjust="spacingAndGlyphs">Add2</text>
<text x="1542.0" y="1034.84" font-size="11.60" fill="#222" textLength="27.2" lengthAdjust="spacingAndGlyphs">Alas2</text>
<text x="1542.0" y="1044.21" font-size="11.60" fill="#222" textLength="38.7" lengthAdjust="spacingAndGlyphs">S100a6</text>
<text x="1542.0" y="1053.58" font-size="11.60" fill="#222" textLength="20.9" lengthAdjust="spacingAndGlyphs">Fech</text>
<text x="1542.0" y="1062.96" font-size="11.60" fill="#222" textLength="28.7" lengthAdjust="spacingAndGlyphs">Nop56</text>
<text x="1542.0" y="1072.33" font-size="11.60" fill="#222" textLength="36.2" lengthAdjust="spacingAndGlyphs">Eef1a1</text>
<text x="1542.0" y="1081.71" font-size="11.60" fill="#222" textLength="22.6" lengthAdjust="spacingAndGlyphs">Pfn1</text>
<text x="1542.0" y="1091.08" font-size="11.60" fill="#222" textLength="16.2" lengthAdjust="spacingAndGlyphs">Kel</text>
<text x="1542.0" y="1100.45" font-size="11.60" fill="#222" textLength="29.9" lengthAdjust="spacingAndGlyphs">Spta1</text>
<text x="1542.0" y="1109.83" font-size="11.60" fill="#222" textLength="21.4" lengthAdjust="spacingAndGlyphs">Sdha</text>
<text x="1542.0" y="1119.20" font-size="11.60" fill="#222" textLength="26.2" lengthAdjust="spacingAndGlyphs">Aqp1</text>
<text x="1542.0" y="1128.57" font-size="11.60" fill="#222" textLength="23.8" lengthAdjust="spacingAndGlyphs">Tyms</text>
<text x="1542.0" y="1137.95" font-size="11.60" fill="#222" textLength="45.9" lengthAdjust="spacingAndGlyphs">Hist1h1</text>
<text x="1542.0" y="1147.32" font-size="11.60" fill="#222" textLength="24.4" lengthAdjust="spacingAndGlyphs">Eno1</text>
<text x="1542.0" y="1156.70" font-size="11.60" fill="#222" textLength="29.8" lengthAdjust="spacingAndGlyphs">Ccnb1</text>
<text x="1542.0" y="1166.07" font-size="11.60" fill="#222" textLength="16.1" lengthAdjust="spacingAndGlyphs">Myc</text>
<text x="1542.0" y="1175.44" font-size="11.60" fill="#222" textLength="23.9" lengthAdjust="spacingAndGlyphs">Npm1</text>
<text x="1542.0" y="1184.82" font-size="11.60" fill="#222" textLength="36.7" lengthAdjust="spacingAndGlyphs">Lgals1</text>
<text x="1542.0" y="1194.19" font-size="11.60" fill="#222" textLength="21.5" lengthAdjust="spacingAndGlyphs">Car2</text>
<text x="1542.0" y="1203.56" font-size="11.60" fill="#222" textLength="23.6" lengthAdjust="spacingAndGlyphs">Sptb</text>
<text x="1542.0" y="1212.94" font-size="11.60" fill="#222" textLength="25.3" lengthAdjust="spacingAndGlyphs">Mdh2</text>
<text x="1542.0" y="1222.31" font-size="11.60" fill="#222" textLength="29.9" lengthAdjust="spacingAndGlyphs">Tmod1</text>
<text x="1542.0" y="1231.69" font-size="11.60" fill="#222" textLength="26.2" lengthAdjust="spacingAndGlyphs">Gata1</text>
<text x="1542.0" y="1241.06" font-size="11.60" fill="#222" textLength="29.8" lengthAdjust="spacingAndGlyphs">Spta1</text>
<text x="1542.0" y="1250.43" font-size="11.60" fill="#222" textLength="27.6" lengthAdjust="spacingAndGlyphs">Sec61</text>
<text x="1542.0" y="1259.81" font-size="11.60" fill="#222" textLength="28.0" lengthAdjust="spacingAndGlyphs">Psma1</text>
<text x="1542.0" y="1269.18" font-size="11.60" fill="#222" textLength="45.2" lengthAdjust="spacingAndGlyphs">Hist1h1</text>
<text x="1542.0" y="1278.56" font-size="11.60" fill="#222" textLength="27.8" lengthAdjust="spacingAndGlyphs">Hsp90</text>
<text x="1542.0" y="1287.93" font-size="11.60" fill="#222" textLength="35.5" lengthAdjust="spacingAndGlyphs">S100a6</text>
<text x="1542.0" y="1297.30" font-size="11.60" fill="#222" textLength="21.3" lengthAdjust="spacingAndGlyphs">Tpi1</text>
<text x="1542.0" y="1306.68" font-size="11.60" fill="#222" textLength="25.1" lengthAdjust="spacingAndGlyphs">Ctsb</text>
<text x="1542.0" y="1316.05" font-size="11.60" fill="#222" textLength="27.3" lengthAdjust="spacingAndGlyphs">Nop56</text>
<text x="1542.0" y="1325.42" font-size="11.60" fill="#222" textLength="26.6" lengthAdjust="spacingAndGlyphs">Hsp90</text>
<text x="1542.0" y="1334.80" font-size="11.60" fill="#222" textLength="26.3" lengthAdjust="spacingAndGlyphs">Psma1</text>
<text x="1542.0" y="1344.17" font-size="11.60" fill="#222" textLength="26.8" lengthAdjust="spacingAndGlyphs">Hmgb2</text>
<text x="1542.0" y="1353.55" font-size="11.60" fill="#222" textLength="25.9" lengthAdjust="spacingAndGlyphs">Spta1</text>
<text x="1542.0" y="1362.92" font-size="11.60" fill="#222" textLength="17.1" lengthAdjust="spacingAndGlyphs">Vim</text>
<text x="1542.0" y="1372.29" font-size="11.60" fill="#222" textLength="25.3" lengthAdjust="spacingAndGlyphs">Car2</text>
<text x="1542.0" y="1381.67" font-size="11.60" fill="#222" textLength="10.2" lengthAdjust="spacingAndGlyphs">Cs</text>
<text x="1542.0" y="1391.04" font-size="11.60" fill="#222" textLength="25.2" lengthAdjust="spacingAndGlyphs">Bpgm</text>
<text x="1542.0" y="1400.41" font-size="11.60" fill="#222" textLength="17.7" lengthAdjust="spacingAndGlyphs">Kel</text>
<text x="1542.0" y="1409.79" font-size="11.60" fill="#222" textLength="37.3" lengthAdjust="spacingAndGlyphs">Tmsb4x</text>
<text x="1542.0" y="1419.16" font-size="11.60" fill="#222" textLength="20.5" lengthAdjust="spacingAndGlyphs">Mcm5</text>
<text x="1542.0" y="1428.54" font-size="11.60" fill="#222" textLength="29.2" lengthAdjust="spacingAndGlyphs">H2afz</text>
<text x="1542.0" y="1437.91" font-size="11.60" fill="#222" textLength="26.1" lengthAdjust="spacingAndGlyphs">Spta1</text>
<text x="1542.0" y="1447.28" font-size="11.60" fill="#222" textLength="29.6" lengthAdjust="spacingAndGlyphs">Anxa2</text>
<text x="1542.0" y="1456.66" font-size="11.60" fill="#222" textLength="39.2" lengthAdjust="spacingAndGlyphs">S100a6</text>
<text x="1542.0" y="1466.03" font-size="11.60" fill="#222" textLength="20.9" lengthAdjust="spacingAndGlyphs">Aqp1</text>
<text x="1542.0" y="1475.40" font-size="11.60" fill="#222" textLength="23.6" lengthAdjust="spacingAndGlyphs">Calr</text>
<text x="1542.0" y="1484.78" font-size="11.60" fill="#222" textLength="30.7" lengthAdjust="spacingAndGlyphs">Prdx2</text>
<text x="1542.0" y="1494.15" font-size="11.60" fill="#222" textLength="25.3" lengthAdjust="spacingAndGlyphs">Calr</text>
<text x="1542.0" y="1503.53" font-size="11.60" fill="#222" textLength="26.3" lengthAdjust="spacingAndGlyphs">Aldoa</text>
<text x="1542.0" y="1512.90" font-size="11.60" fill="#222" textLength="32.3" lengthAdjust="spacingAndGlyphs">Prdx2</text>
<text x="1542.0" y="1522.27" font-size="11.60" fill="#222" textLength="37.5" lengthAdjust="spacingAndGlyphs">Tmsb4x</text>
<text x="1542.0" y="1531.65" font-size="11.60" fill="#222" textLength="25.8" lengthAdjust="spacingAndGlyphs">Sdha</text>
<text x="1542.0" y="1541.02" font-size="11.60" fill="#222" textLength="32.2" lengthAdjust="spacingAndGlyphs">Prdx2</text>
<text x="1542.0" y="1550.40" font-size="11.60" fill="#222" textLength="25.3" lengthAdjust="spacingAndGlyphs">Aco2</text>
<text x="1542.0" y="1559.77" font-size="11.60" fill="#222" textLength="24.6" lengthAdjust="spacingAndGlyphs">Tfrc</text>
<text x="1542.0" y="1569.14" font-size="11.60" fill="#222" textLength="31.1" lengthAdjust="spacingAndGlyphs">Atp5b</text>
<text x="1542.0" y="1578.52" font-size="11.60" fill="#222" textLength="27.7" lengthAdjust="spacingAndGlyphs">Hsp90</text>
<text x="1542.0" y="1587.89" font-size="11.60" fill="#222" textLength="22.2" lengthAdjust="spacingAndGlyphs">Actb</text>
<text x="1542.0" y="1597.26" font-size="11.60" fill="#222" textLength="24.1" lengthAdjust="spacingAndGlyphs">Calr</text>
<text x="1542.0" y="1606.64" font-size="11.60" fill="#222" textLength="19.0" lengthAdjust="spacingAndGlyphs">Rhd</text>
<text x="1542.0" y="1616.01" font-size="11.60" fill="#222" textLength="20.6" lengthAdjust="spacingAndGlyphs">Fech</text>
<text x="1542.0" y="1625.39" font-size="11.60" fill="#222" textLength="22.4" lengthAdjust="spacingAndGlyphs">Hmbs</text>
<text x="1542.0" y="1634.76" font-size="11.60" fill="#222" textLength="24.8" lengthAdjust="spacingAndGlyphs">Calr</text>
<text x="1542.0" y="1644.13" font-size="11.60" fill="#222" textLength="21.9" lengthAdjust="spacingAndGlyphs">Pfn1</text>
<text x="1542.0" y="1653.51" font-size="11.60" fill="#222" textLength="20.9" lengthAdjust="spacingAndGlyphs">Sdha</text>
<text x="1542.0" y="1662.88" font-size="11.60" fill="#222" textLength="24.5" lengthAdjust="spacingAndGlyphs">Calr</text>
<text x="1542.0" y="1672.25" font-size="11.60" fill="#222" textLength="21.8" lengthAdjust="spacingAndGlyphs">Urod</text>
<text x="1542.0" y="1681.63" font-size="11.60" fill="#222" textLength="26.1" lengthAdjust="spacingAndGlyphs">Calr</text>
<text x="1542.0" y="1691.00" font-size="11.60" fill="#222" textLength="39.5" lengthAdjust="spacingAndGlyphs">Lgals1</text>
<text x="1542.0" y="1700.38" font-size="11.60" fill="#222" textLength="25.5" lengthAdjust="spacingAndGlyphs">Gapdh</text>
<text x="1542.0" y="1709.75" font-size="11.60" fill="#222" textLength="25.7" lengthAdjust="spacingAndGlyphs">H2afz</text>
<text x="1542.0" y="1719.12" font-size="11.60" fill="#222" textLength="24.9" lengthAdjust="spacingAndGlyphs">Uros</text>
<text x="1542.0" y="1728.50" font-size="11.60" fill="#222" textLength="27.0" lengthAdjust="spacingAndGlyphs">Tubb5</text>
<text x="1542.0" y="1737.87" font-size="11.60" fill="#222" textLength="10.3" lengthAdjust="spacingAndGlyphs">Cs</text>
<text x="1542.0" y="1747.24" font-size="11.60" fill="#222" textLength="34.6" lengthAdjust="spacingAndGlyphs">Ndufa4</text>
<text x="1542.0" y="1756.62" font-size="11.60" fill="#222" textLength="26.1" lengthAdjust="spacingAndGlyphs">Cfl1</text>
<text x="1542.0" y="1765.99" font-size="11.60" fill="#222" textLength="18.4" lengthAdjust="spacingAndGlyphs">Vim</text>
<text x="1542.0" y="1775.37" font-size="11.60" fill="#222" textLength="24.0" lengthAdjust="spacingAndGlyphs">Npm1</text>
<text x="1542.0" y="1784.74" font-size="11.60" fill="#222" textLength="30.9" lengthAdjust="spacingAndGlyphs">Hsp90</text>
<text x="1542.0" y="1794.11" font-size="11.60" fill="#222" textLength="23.6" lengthAdjust="spacingAndGlyphs">Sptb</text>
<text x="1542.0" y="1803.49" font-size="11.60" fill="#222" textLength="27.5" lengthAdjust="spacingAndGlyphs">Mki67</text>
<text x="1542.0" y="1812.86" font-size="11.60" fill="#222" textLength="21.8" lengthAdjust="spacingAndGlyphs">Tal1</text>
<text x="1542.0" y="1822.24" font-size="11.60" fill="#222" textLength="19.2" lengthAdjust="spacingAndGlyphs">Kel</text>
<text x="1542.0" y="1831.61" font-size="11.60" fill="#222" textLength="28.3" lengthAdjust="spacingAndGlyphs">Nop56</text>
<text x="1542.0" y="1840.98" font-size="11.60" fill="#222" textLength="36.7" lengthAdjust="spacingAndGlyphs">Slc4a1</text>
<text x="1542.0" y="1850.36" font-size="11.60" fill="#222" textLength="17.2" lengthAdjust="spacingAndGlyphs">Ubb</text>
<text x="1542.0" y="1859.73" font-size="11.60" fill="#222" textLength="11.2" lengthAdjust="spacingAndGlyphs">Cs</text>
<text x="1542.0" y="1869.10" font-size="11.60" fill="#222" textLength="25.2" lengthAdjust="spacingAndGlyphs">Mcm5</text>
<text x="1542.0" y="1878.48" font-size="11.60" fill="#222" textLength="26.2" lengthAdjust="spacingAndGlyphs">Pgk1</text>
<text x="1542.0" y="1887.85" font-size="11.60" fill="#222" textLength="21.4" lengthAdjust="spacingAndGlyphs">Mcm2</text>
<text x="1542.0" y="1897.23" font-size="11.60" fill="#222" textLength="22.9" lengthAdjust="spacingAndGlyphs">Gypa</text>
<text x="1542.0" y="1906.60" font-size="11.60" fill="#222" textLength="23.3" lengthAdjust="spacingAndGlyphs">Idh2</text>
<text x="1542.0" y="1915.97" font-size="11.60" fill="#222" textLength="32.1" lengthAdjust="spacingAndGlyphs">Pdia3</text>
<text x="1542.0" y="1925.35" font-size="11.60" fill="#222" textLength="27.6" lengthAdjust="spacingAndGlyphs">Hspa8</text>
<text x="1542.0" y="1934.72" font-size="11.60" fill="#222" textLength="22.7" lengthAdjust="spacingAndGlyphs">Tal1</text>
<text x="1542.0" y="1944.09" font-size="11.60" fill="#222" textLength="26.3" lengthAdjust="spacingAndGlyphs">Tpi1</text>
<text x="1542.0" y="1953.47" font-size="11.60" fill="#222" textLength="23.4" lengthAdjust="spacingAndGlyphs">Uros</text>
<text x="1542.0" y="1962.84" font-size="11.60" fill="#222" textLength="24.1" lengthAdjust="spacingAndGlyphs">Urod</text>
<text x="1542.0" y="1972.22" font-size="11.60" fill="#222" textLength="22.1" lengthAdjust="spacingAndGlyphs">Cpox</text>
<text x="1542.0" y="1981.59" font-size="11.60" fill="#222" textLength="30.7" lengthAdjust="spacingAndGlyphs">Tmsb4x</text>
<text x="1542.0" y="1990.96" font-size="11.60" fill="#222" textLength="27.4" lengthAdjust="spacingAndGlyphs">Spta1</text>
<text x="1542.0" y="2000.34" font-size="11.60" fill="#222" textLength="21.9" lengthAdjust="spacingAndGlyphs">Urod</text>
<text x="1542.0" y="2009.71" font-size="11.60" fill="#222" textLength="24.2" lengthAdjust="spacingAndGlyphs">Canx</text>
<text x="1542.0" y="2019.08" font-size="11.60" fill="#222" textLength="22.8" lengthAdjust="spacingAndGlyphs">Gypa</text>
<text x="1542.0" y="2028.46" font-size="11.60" fill="#222" textLength="27.6" lengthAdjust="spacingAndGlyphs">Gata1</text>
<text x="1542.0" y="2037.83" font-size="11.60" fill="#222" textLength="23.8" lengthAdjust="spacingAndGlyphs">Tyms</text>
<text x="1542.0" y="2047.21" font-size="11.60" fill="#222" textLength="25.4" lengthAdjust="spacingAndGlyphs">Ctsb</text>
<text x="1542.0" y="2056.58" font-size="11.60" fill="#222" textLength="21.5" lengthAdjust="spacingAndGlyphs">Tal1</text>
<text x="1542.0" y="2065.95" font-size="11.60" fill="#222" textLength="34.2" lengthAdjust="spacingAndGlyphs">Eef1a1</text>
<text x="1542.0" y="2075.33" font-size="11.60" fill="#222" textLength="22.6" lengthAdjust="spacingAndGlyphs">Mdh2</text>
<text x="1542.0" y="2084.70" font-size="11.60" fill="#222" textLength="30.2" lengthAdjust="spacingAndGlyphs">Gata1</text>
<text x="1542.0" y="2094.08" font-size="11.60" fill="#222" textLength="18.2" lengthAdjust="spacingAndGlyphs">Fh1</text>
<text x="1542.0" y="2103.45" font-size="11.60" fill="#222" textLength="25.8" lengthAdjust="spacingAndGlyphs">Prdx2</text>
<text x="1542.0" y="2112.82" font-size="11.60" fill="#222" textLength="25.9" lengthAdjust="spacingAndGlyphs">Cpox</text>
<text x="1542.0" y="2122.20" font-size="11.60" fill="#222" textLength="26.3" lengthAdjust="spacingAndGlyphs">Ank1</text>
<text x="1542.0" y="2131.57" font-size="11.60" fill="#222" textLength="24.1" lengthAdjust="spacingAndGlyphs">Hmbs</text>
<text x="1542.0" y="2140.94" font-size="11.60" fill="#222" textLength="26.0" lengthAdjust="spacingAndGlyphs">Hmbs</text>
<text x="1542.0" y="2150.32" font-size="11.60" fill="#222" textLength="23.2" lengthAdjust="spacingAndGlyphs">Ldha</text>
<text x="1542.0" y="2159.69" font-size="11.60" fill="#222" textLength="23.8" lengthAdjust="spacingAndGlyphs">Ldha</text>
<text x="1542.0" y="2169.07" font-size="11.60" fill="#222" textLength="19.0" lengthAdjust="spacingAndGlyphs">Rhd</text>
<text x="1542.0" y="2178.44" font-size="11.60" fill="#222" textLength="18.7" lengthAdjust="spacingAndGlyphs">Ubb</text>
<text x="1542.0" y="2187.81" font-size="11.60" fill="#222" textLength="22.4" lengthAdjust="spacingAndGlyphs">Fech</text>
<text x="1542.0" y="2197.19" font-size="11.60" fill="#222" textLength="22.5" lengthAdjust="spacingAndGlyphs">Hmbs</text>
<text x="1542.0" y="2206.56" font-size="11.60" fill="#222" textLength="25.5" lengthAdjust="spacingAndGlyphs">Car2</text>
<text x="1542.0" y="2215.93" font-size="11.60" fill="#222" textLength="26.2" lengthAdjust="spacingAndGlyphs">Rhag</text>
<text x="1542.0" y="2225.31" font-size="11.60" fill="#222" textLength="31.2" lengthAdjust="spacingAndGlyphs">Ccnb1</text>
<text x="1542.0" y="2234.68" font-size="11.60" fill="#222" textLength="23.6" lengthAdjust="spacingAndGlyphs">Bpgm</text>
<text x="1542.0" y="2244.06" font-size="11.60" fill="#222" textLength="24.4" lengthAdjust="spacingAndGlyphs">Pfn1</text>
<text x="1542.0" y="2253.43" font-size="11.60" fill="#222" textLength="30.4" lengthAdjust="spacingAndGlyphs">Hspa8</text>
<text x="1542.0" y="2262.80" font-size="11.60" fill="#222" textLength="26.0" lengthAdjust="spacingAndGlyphs">Calr</text>
<text x="1542.0" y="2272.18" font-size="11.60" fill="#222" textLength="28.9" lengthAdjust="spacingAndGlyphs">Top2a</text>
<text x="1542.0" y="2281.55" font-size="11.60" fill="#222" textLength="26.3" lengthAdjust="spacingAndGlyphs">Sdha</text>
<text x="1542.0" y="2290.92" font-size="11.60" fill="#222" textLength="26.5" lengthAdjust="spacingAndGlyphs">Atp5b</text>
<text x="1542.0" y="2300.30" font-size="11.60" fill="#222" textLength="32.9" lengthAdjust="spacingAndGlyphs">H2afz</text>
<text x="1542.0" y="2309.67" font-size="11.60" fill="#222" textLength="31.7" lengthAdjust="spacingAndGlyphs">Top2a</text>
<text x="1542.0" y="2319.05" font-size="11.60" fill="#222" textLength="23.3" lengthAdjust="spacingAndGlyphs">Gypa</text>
<text x="1542.0" y="2328.42" font-size="11.60" fill="#222" textLength="24.7" lengthAdjust="spacingAndGlyphs">Mcm5</text>
<text x="1542.0" y="2337.79" font-size="11.60" fill="#222" textLength="35.4" lengthAdjust="spacingAndGlyphs">Ndufa4</text>
</g>
<path d="M98.00 237.00 Q102.50 237.00 102.50 238.05 L102.50 238.10 Q102.50 239.10 107.00 239.10 M102.50 240.10 L102.50 240.15 Q102.50 241.20 98.00 241.20" fill="none" stroke="#555" stroke-width="0.7"/><path d="M102.50 238.10 Q102.50 239.10 107.00 239.10 M102.50 240.10 Q102.50 239.10 107.00 239.10" fill="none" stroke="#555" stroke-width="0.7"/>
<text x="107.5" y="240.70" font-size="4.6" fill="#222">I&gt;L</text>
<path d="M98.80 245.30 Q103.30 245.30 103.30 247.30 L103.30 250.60 Q103.30 251.60 107.80 251.60 M103.30 252.60 L103.30 256.00 Q103.30 258.00 98.80 258.00" fill="none" stroke="#555" stroke-width="0.7"/><path d="M103.30 250.60 Q103.30 251.60 107.80 251.60 M103.30 252.60 Q103.30 251.60 107.80 251.60" fill="none" stroke="#555" stroke-width="0.7"/>
<text x="109.6" y="253.20" font-size="4.6" fill="#222">C&gt;I</text>
<path d="M98.00 258.00 Q102.50 258.00 102.50 259.25 L102.50 259.30 Q102.50 260.30 107.00 260.30 M102.50 261.30 L102.50 261.75 Q102.50 263.00 98.00 263.00" fill="none" stroke="#555" stroke-width="0.7"/><path d="M102.50 259.30 Q102.50 260.30 107.00 260.30 M102.50 261.30 Q102.50 260.30 107.00 260.30" fill="none" stroke="#555" stroke-width="0.7"/>
<text x="109.6" y="261.90" font-size="4.6" fill="#222">C&gt;I,C&gt;L</text>
<path d="M98.80 263.00 Q103.30 263.00 103.30 265.00 L103.30 269.60 Q103.30 270.60 107.80 270.60 M103.30 271.60 L103.30 276.00 Q103.30 278.00 98.80 278.00" fill="none" stroke="#555" stroke-width="0.7"/><path d="M103.30 269.60 Q103.30 270.60 107.80 270.60 M103.30 271.60 Q103.30 270.60 107.80 270.60" fill="none" stroke="#555" stroke-width="0.7"/>
<text x="109.6" y="272.20" font-size="4.6" fill="#222">C&gt;I,C&gt;L,P&gt;I</text>
<path d="M98.80 278.00 Q103.30 278.00 103.30 280.00 L103.30 309.50 Q103.30 310.50 107.80 310.50 M103.30 311.50 L103.30 340.50 Q103.30 342.50 98.80 342.50" fill="none" stroke="#555" stroke-width="0.7"/><path d="M103.30 309.50 Q103.30 310.50 107.80 310.50 M103.30 311.50 Q103.30 310.50 107.80 310.50" fill="none" stroke="#555" stroke-width="0.7"/>
<text x="109.6" y="312.10" font-size="4.6" fill="#222">C&gt;I,C&gt;L,P&gt;I,P&gt;L</text>
<path d="M98.80 342.50 Q103.30 342.50 103.30 344.50 L103.30 363.00 Q103.30 364.00 107.80 364.00 M103.30 365.00 L103.30 382.40 Q103.30 384.40 98.80 384.40" fill="none" stroke="#555" stroke-width="0.7"/><path d="M103.30 363.00 Q103.30 364.00 107.80 364.00 M103.30 365.00 Q103.30 364.00 107.80 364.00" fill="none" stroke="#555" stroke-width="0.7"/>
<text x="109.6" y="365.60" font-size="4.6" fill="#222">C&gt;I,C&gt;L,P&gt;I,P&gt;L,I&gt;L</text>
<path d="M98.80 384.40 Q103.30 384.40 103.30 386.40 L103.30 389.90 Q103.30 390.90 107.80 390.90 M103.30 391.90 L103.30 393.90 Q103.30 395.90 98.80 395.90" fill="none" stroke="#555" stroke-width="0.7"/><path d="M103.30 389.90 Q103.30 390.90 107.80 390.90 M103.30 391.90 Q103.30 390.90 107.80 390.90" fill="none" stroke="#555" stroke-width="0.7"/>
<text x="109.6" y="392.50" font-size="4.6" fill="#222">C&gt;I,C&gt;L,P&gt;I</text>
<path d="M98.80 395.90 Q103.30 395.90 103.30 397.90 L103.30 404.70 Q103.30 405.70 107.80 405.70 M103.30 406.70 L103.30 411.50 Q103.30 413.50 98.80 413.50" fill="none" stroke="#555" stroke-width="0.7"/><path d="M103.30 404.70 Q103.30 405.70 107.80 405.70 M103.30 406.70 Q103.30 405.70 107.80 405.70" fill="none" stroke="#555" stroke-width="0.7"/>
<text x="109.6" y="407.30" font-size="4.6" fill="#222">C&gt;I,C&gt;L,P&gt;I,I&gt;L</text>
<path d="M98.00 416.80 Q102.50 416.80 102.50 418.35 L102.50 419.00 Q102.50 420.00 107.00 420.00 M102.50 421.00 L102.50 421.45 Q102.50 423.00 98.00 423.00" fill="none" stroke="#555" stroke-width="0.7"/><path d="M102.50 419.00 Q102.50 420.00 107.00 420.00 M102.50 421.00 Q102.50 420.00 107.00 420.00" fill="none" stroke="#555" stroke-width="0.7"/>
<text x="109.6" y="421.60" font-size="4.6" fill="#222">C&gt;L</text>
<path d="M98.00 423.00 Q102.50 423.00 102.50 424.82 L102.50 425.20 Q102.50 426.20 107.00 426.20 M102.50 427.20 L102.50 428.48 Q102.50 430.30 98.00 430.30" fill="none" stroke="#555" stroke-width="0.7"/><path d="M102.50 425.20 Q102.50 426.20 107.00 426.20 M102.50 427.20 Q102.50 426.20 107.00 426.20" fill="none" stroke="#555" stroke-width="0.7"/>
<text x="109.6" y="427.80" font-size="4.6" fill="#222">C&gt;L,P&gt;I,P&gt;L,I&gt;L</text>
<path d="M98.80 431.00 Q103.30 431.00 103.30 433.00 L103.30 453.50 Q103.30 454.50 107.80 454.50 M103.30 455.50 L103.30 476.00 Q103.30 478.00 98.80 478.00" fill="none" stroke="#555" stroke-width="0.7"/><path d="M103.30 453.50 Q103.30 454.50 107.80 454.50 M103.30 455.50 Q103.30 454.50 107.80 454.50" fill="none" stroke="#555" stroke-width="0.7"/>
<text x="109.6" y="456.10" font-size="4.6" fill="#222">C&gt;L,P&gt;L</text>
<line x1="96.5" y1="243.2" x2="124.2" y2="243.2" stroke="#555" stroke-width="0.7"/>
<text x="126.3" y="244.90" font-size="4.6" fill="#222">P&gt;L</text>
<line x1="95.8" y1="414.8" x2="124.2" y2="414.8" stroke="#555" stroke-width="0.7"/>
<text x="126.5" y="416.60" font-size="4.6" fill="#222">C&gt;I,P&gt;I</text>
<path d="M207.8 239.2 Q212 240.5 212 248 L212 352 Q212 358.8 215.2 359.3 Q212 359.8 212 366.5 L212 470.5 Q212 477.5 208.2 478.6" fill="none" stroke="#999" stroke-width="1.1"/>
<text x="216.8" y="360.20" font-size="5.2" fill="#222">C&gt;L, P&gt;L, I&gt;L</text>
<text x="216.8" y="365.30" font-size="5.2" fill="#222">(DE_SigUp)</text>
<path d="M402.50 244.00 Q408.00 244.00 408.00 246.00 L408.00 248.30 Q408.00 249.30 414.00 249.30 M408.00 250.30 L408.00 252.70 Q408.00 254.70 402.50 254.70" fill="none" stroke="#555" stroke-width="0.7"/><path d="M408.00 248.30 Q408.00 249.30 414.00 249.30 M408.00 250.30 Q408.00 249.30 414.00 249.30" fill="none" stroke="#555" stroke-width="0.7"/>
<text x="423" y="251.20" font-size="6.2" fill="#222">I&gt;L</text>
<line x1="397.5" y1="259.0" x2="454" y2="254.2" stroke="#555" stroke-width="0.7"/>
<text x="455.4" y="256.20" font-size="6.2" fill="#222">P&gt;L,I&gt;L</text>
<line x1="397.5" y1="259.5" x2="491.7" y2="261.5" stroke="#555" stroke-width="0.7"/>
<text x="495.8" y="263.20" font-size="6.2" fill="#222">C&gt;I,C&gt;L</text>
<path d="M405.50 261.70 Q410.50 261.70 410.50 263.70 L410.50 268.50 Q410.50 269.50 416.50 269.50 M410.50 270.50 L410.50 275.80 Q410.50 277.80 405.50 277.80" fill="none" stroke="#555" stroke-width="0.7"/><path d="M410.50 268.50 Q410.50 269.50 416.50 269.50 M410.50 270.50 Q410.50 269.50 416.50 269.50" fill="none" stroke="#555" stroke-width="0.7"/>
<text x="417.7" y="271.80" font-size="6.2" fill="#222">C&gt;I,C&gt;L,P&gt;I,P&gt;L</text>
<path d="M405.50 278.40 Q410.50 278.40 410.50 280.40 L410.50 298.40 Q410.50 299.40 417.50 299.40 M410.50 300.40 L410.50 314.70 Q410.50 316.70 405.50 316.70" fill="none" stroke="#555" stroke-width="0.7"/><path d="M410.50 298.40 Q410.50 299.40 417.50 299.40 M410.50 300.40 Q410.50 299.40 417.50 299.40" fill="none" stroke="#555" stroke-width="0.7"/>
<text x="419" y="301.80" font-size="6.2" fill="#222">C&gt;I,C&gt;L,P&gt;I,P&gt;L,I&gt;L</text>
<path d="M405.50 319.60 Q410.50 319.60 410.50 320.95 L410.50 321.40 Q410.50 322.40 415.50 322.40 M410.50 323.40 L410.50 323.65 Q410.50 325.00 405.50 325.00" fill="none" stroke="#555" stroke-width="0.7"/><path d="M410.50 321.40 Q410.50 322.40 415.50 322.40 M410.50 323.40 Q410.50 322.40 415.50 322.40" fill="none" stroke="#555" stroke-width="0.7"/>
<text x="420.4" y="324.50" font-size="6.2" fill="#222">C&gt;I,C&gt;L,P&gt;L</text>
<path d="M405.50 325.00 Q410.50 325.00 410.50 326.15 L410.50 326.20 Q410.50 327.20 415.50 327.20 M410.50 328.20 L410.50 328.45 Q410.50 329.60 405.50 329.60" fill="none" stroke="#555" stroke-width="0.7"/><path d="M410.50 326.20 Q410.50 327.20 415.50 327.20 M410.50 328.20 Q410.50 327.20 415.50 327.20" fill="none" stroke="#555" stroke-width="0.7"/>
<text x="420.4" y="329.20" font-size="6.2" fill="#222">C&gt;I,C&gt;L,P&gt;L,I&gt;L</text>
<line x1="404" y1="331.1" x2="495.8" y2="331.5" stroke="#555" stroke-width="0.7"/>
<text x="499.8" y="333.40" font-size="6.2" fill="#222">C&gt;L</text>
<path d="M405.50 332.00 Q410.50 332.00 410.50 333.25 L410.50 333.60 Q410.50 334.60 415.50 334.60 M410.50 335.60 L410.50 335.75 Q410.50 337.00 405.50 337.00" fill="none" stroke="#555" stroke-width="0.7"/><path d="M410.50 333.60 Q410.50 334.60 415.50 334.60 M410.50 335.60 Q410.50 334.60 415.50 334.60" fill="none" stroke="#555" stroke-width="0.7"/>
<text x="420.4" y="336.60" font-size="6.2" fill="#222">C&gt;L,P&gt;I,P&gt;L,I&gt;L</text>
<path d="M406.30 337.00 Q411.80 337.00 411.80 339.00 L411.80 350.70 Q411.80 351.70 417.80 351.70 M411.80 352.70 L411.80 365.20 Q411.80 367.20 406.30 367.20" fill="none" stroke="#555" stroke-width="0.7"/><path d="M411.80 350.70 Q411.80 351.70 417.80 351.70 M411.80 352.70 Q411.80 351.70 417.80 351.70" fill="none" stroke="#555" stroke-width="0.7"/>
<text x="421.7" y="353.80" font-size="6.2" fill="#222">C&gt;L,P&gt;L</text>
<path d="M406.5 367.2 Q414.6 368 414.6 381 L414.6 463 Q414.6 474.5 421.7 475 Q414.6 475.5 414.6 487 L414.6 571 Q414.6 583.5 406 584.6" fill="none" stroke="#555" stroke-width="0.8"/>
<text x="424" y="477.20" font-size="6.2" fill="#222">C&gt;L,P&gt;L,I&gt;L</text>
<text x="464.6" y="478.60" font-size="7.3" fill="#222">(DE_SigDown)</text>
<defs><linearGradient id="g1" x1="0" x2="1" y1="0" y2="0"><stop offset="0" stop-color="#0000f0"/><stop offset="0.5" stop-color="#6a0890"/><stop offset="1" stop-color="#f00000"/></linearGradient><linearGradient id="g2" x1="0" x2="1" y1="0" y2="0"><stop offset="0" stop-color="#0000f0"/><stop offset="0.5" stop-color="#ffffff"/><stop offset="1" stop-color="#f00000"/></linearGradient></defs>
<rect x="5.2" y="240.5" width="26.900000000000002" height="4.900000000000006" fill="url(#g1)"/>
<text x="4.6000000000000005" y="251.67" font-size="6.6" fill="#222">0</text>
<text x="37.1" y="251.67" font-size="6.6" fill="#222" text-anchor="end">1000</text>
<rect x="5.2" y="254.8" width="26.900000000000002" height="3.8000000000000114" fill="url(#g2)"/>
<text x="3.4000000000000004" y="264.87" font-size="6.6" fill="#222">-3</text>
<text x="19.15" y="264.87" font-size="6.6" fill="#222" text-anchor="middle">1:1</text>
<text x="32.1" y="264.87" font-size="6.6" fill="#222" text-anchor="end">3</text>
<rect x="276.2" y="249.4" width="27.69999999999999" height="5.199999999999989" fill="url(#g1)"/>
<text x="275.59999999999997" y="261.06" font-size="6.8" fill="#222">0</text>
<text x="308.9" y="261.06" font-size="6.8" fill="#222" text-anchor="end">1000</text>
<rect x="276.2" y="266.5" width="27.69999999999999" height="4.600000000000023" fill="url(#g2)"/>
<text x="274.4" y="277.56" font-size="6.8" fill="#222">-3</text>
<text x="290.55" y="277.56" font-size="6.8" fill="#222" text-anchor="middle">1:1</text>
<text x="303.9" y="277.56" font-size="6.8" fill="#222" text-anchor="end">3</text>
<text x="47.50" y="237.2" font-size="3.0" fill="#111" font-weight="bold" transform="rotate(-90 47.50 237.2)">CFU-E</text>
<text x="52.40" y="237.2" font-size="3.0" fill="#111" font-weight="bold" transform="rotate(-90 52.40 237.2)">Pro-E</text>
<text x="57.30" y="237.2" font-size="3.0" fill="#111" font-weight="bold" transform="rotate(-90 57.30 237.2)">Int-E</text>
<text x="62.20" y="237.2" font-size="3.0" fill="#111" font-weight="bold" transform="rotate(-90 62.20 237.2)">Late-E</text>
<text x="69.60" y="237.2" font-size="3.0" fill="#111" font-weight="bold" transform="rotate(-90 69.60 237.2)">CFU-E</text>
<text x="74.50" y="237.2" font-size="3.0" fill="#111" font-weight="bold" transform="rotate(-90 74.50 237.2)">Pro-E</text>
<text x="79.40" y="237.2" font-size="3.0" fill="#111" font-weight="bold" transform="rotate(-90 79.40 237.2)">Int-E</text>
<text x="84.30" y="237.2" font-size="3.0" fill="#111" font-weight="bold" transform="rotate(-90 84.30 237.2)">Late-E</text>
<text x="154.98" y="237.6" font-size="3.0" fill="#111" font-weight="bold" transform="rotate(-90 154.98 237.6)">CFU-E</text>
<text x="159.83" y="237.6" font-size="3.0" fill="#111" font-weight="bold" transform="rotate(-90 159.83 237.6)">Pro-E</text>
<text x="164.68" y="237.6" font-size="3.0" fill="#111" font-weight="bold" transform="rotate(-90 164.68 237.6)">Int-E</text>
<text x="169.53" y="237.6" font-size="3.0" fill="#111" font-weight="bold" transform="rotate(-90 169.53 237.6)">Late-E</text>
<text x="176.84" y="237.6" font-size="3.0" fill="#111" font-weight="bold" transform="rotate(-90 176.84 237.6)">CFU-E</text>
<text x="181.61" y="237.6" font-size="3.0" fill="#111" font-weight="bold" transform="rotate(-90 181.61 237.6)">Pro-E</text>
<text x="186.39" y="237.6" font-size="3.0" fill="#111" font-weight="bold" transform="rotate(-90 186.39 237.6)">Int-E</text>
<text x="191.16" y="237.6" font-size="3.0" fill="#111" font-weight="bold" transform="rotate(-90 191.16 237.6)">Late-E</text>
<text x="328.48" y="244.3" font-size="4.9" fill="#111" font-weight="bold" transform="rotate(-90 328.48 244.3)">CFU-E</text>
<text x="335.40" y="244.3" font-size="4.9" fill="#111" font-weight="bold" transform="rotate(-90 335.40 244.3)">Pro-E</text>
<text x="342.33" y="244.3" font-size="4.9" fill="#111" font-weight="bold" transform="rotate(-90 342.33 244.3)">Int-E</text>
<text x="349.25" y="244.3" font-size="4.9" fill="#111" font-weight="bold" transform="rotate(-90 349.25 244.3)">Late-E</text>
<text x="359.55" y="244.3" font-size="4.9" fill="#111" font-weight="bold" transform="rotate(-90 359.55 244.3)">CFU-E</text>
<text x="366.23" y="244.3" font-size="4.9" fill="#111" font-weight="bold" transform="rotate(-90 366.23 244.3)">Pro-E</text>
<text x="372.90" y="244.3" font-size="4.9" fill="#111" font-weight="bold" transform="rotate(-90 372.90 244.3)">Int-E</text>
<text x="379.58" y="244.3" font-size="4.9" fill="#111" font-weight="bold" transform="rotate(-90 379.58 244.3)">Late-E</text>
<text x="0.9" y="233" font-size="10" font-weight="bold" stroke="#000" stroke-width="0.35">C</text>
<text x="272.3" y="233.1" font-size="11.5" font-weight="bold" stroke="#000" stroke-width="0.35">D</text>
<text x="0.1" y="501.1" font-size="11.6" font-weight="bold" stroke="#000" stroke-width="0.35">E</text>
<text x="124.2" y="508" font-size="5.72" font-weight="bold" text-anchor="middle" fill="#111">Two-tailed paired t-test of pairwise fold changes for the 384 most significantly differentially</text>
<text x="123.3" y="514.6" font-size="5.76" font-weight="bold" text-anchor="middle" fill="#111">regulated PIDs, comparing expression ratios from sorted and unsorted populations.</text>
<line x1="29.8" y1="520.5" x2="29.8" y2="630.6" stroke="#222" stroke-width="0.8"/>
<line x1="29.400000000000002" y1="630.2" x2="238" y2="630.2" stroke="#222" stroke-width="0.8"/>
<line x1="28.0" y1="521.85" x2="29.8" y2="521.85" stroke="#222" stroke-width="0.7"/>
<text x="27.400000000000002" y="523.35" font-size="4.1" font-weight="bold" text-anchor="end" fill="#222">1000</text>
<line x1="28.0" y1="539.90" x2="29.8" y2="539.90" stroke="#222" stroke-width="0.7"/>
<text x="27.400000000000002" y="541.40" font-size="4.1" font-weight="bold" text-anchor="end" fill="#222">100</text>
<line x1="28.0" y1="557.95" x2="29.8" y2="557.95" stroke="#222" stroke-width="0.7"/>
<text x="27.400000000000002" y="559.45" font-size="4.1" font-weight="bold" text-anchor="end" fill="#222">10</text>
<line x1="28.0" y1="576.00" x2="29.8" y2="576.00" stroke="#222" stroke-width="0.7"/>
<text x="27.400000000000002" y="577.50" font-size="4.1" font-weight="bold" text-anchor="end" fill="#222">1</text>
<line x1="28.0" y1="594.05" x2="29.8" y2="594.05" stroke="#222" stroke-width="0.7"/>
<text x="27.400000000000002" y="595.55" font-size="4.1" font-weight="bold" text-anchor="end" fill="#222">0.1</text>
<line x1="28.0" y1="612.10" x2="29.8" y2="612.10" stroke="#222" stroke-width="0.7"/>
<text x="27.400000000000002" y="613.60" font-size="4.1" font-weight="bold" text-anchor="end" fill="#222">0.01</text>
<line x1="28.0" y1="630.15" x2="29.8" y2="630.15" stroke="#222" stroke-width="0.7"/>
<text x="27.400000000000002" y="631.65" font-size="4.1" font-weight="bold" text-anchor="end" fill="#222">0.001</text>
<text x="7" y="576.2" font-size="5.4" font-weight="bold" text-anchor="middle" fill="#222" transform="rotate(-90 7 576.2)">FC</text>
<line x1="38.4" y1="555.7" x2="38.4" y2="584.3" stroke="#c0f6e2" stroke-width="1.1"/><line x1="35.8" y1="555.7" x2="41.0" y2="555.7" stroke="#c0f6e2" stroke-width="1.1"/><line x1="35.8" y1="584.3" x2="41.0" y2="584.3" stroke="#c0f6e2" stroke-width="1.1"/><rect x="32.5" y="573.3" width="11.8" height="3.7000000000000455" fill="#c0f6e2" stroke="#c0f6e2" stroke-width="1"/>
<line x1="38.4" y1="630.2" x2="38.4" y2="632" stroke="#222" stroke-width="0.7"/>
<text x="39.9" y="636.6" font-size="4.2" font-weight="bold" text-anchor="end" fill="#222" transform="rotate(-45 39.9 636.6)">SC-P</text>
<line x1="55.7" y1="555.7" x2="55.7" y2="586.8" stroke="#c4f2e2" stroke-width="1.1"/><line x1="53.1" y1="555.7" x2="58.300000000000004" y2="555.7" stroke="#c4f2e2" stroke-width="1.1"/><line x1="53.1" y1="586.8" x2="58.300000000000004" y2="586.8" stroke="#c4f2e2" stroke-width="1.1"/><rect x="49.800000000000004" y="573.3" width="11.8" height="4.0" fill="#fff" stroke="#c4f2e2" stroke-width="1.1"/><line x1="49.800000000000004" y1="575.3" x2="61.6" y2="575.3" stroke="#c4f2e2" stroke-width="1.1"/>
<line x1="55.7" y1="630.2" x2="55.7" y2="632" stroke="#222" stroke-width="0.7"/>
<text x="57.2" y="636.6" font-size="4.2" font-weight="bold" text-anchor="end" fill="#222" transform="rotate(-45 57.2 636.6)">UC-P</text>
<line x1="72.9" y1="534.8" x2="72.9" y2="606.6" stroke="#8cb8f8" stroke-width="1.1"/><line x1="70.30000000000001" y1="534.8" x2="75.5" y2="534.8" stroke="#8cb8f8" stroke-width="1.1"/><line x1="70.30000000000001" y1="606.6" x2="75.5" y2="606.6" stroke="#8cb8f8" stroke-width="1.1"/><rect x="67.0" y="564.8" width="11.8" height="15.200000000000045" fill="#8cb8f8" stroke="#8cb8f8" stroke-width="1"/>
<line x1="72.9" y1="630.2" x2="72.9" y2="632" stroke="#222" stroke-width="0.7"/>
<text x="74.4" y="636.6" font-size="4.2" font-weight="bold" text-anchor="end" fill="#222" transform="rotate(-45 74.4 636.6)">SC-I</text>
<line x1="89.9" y1="535.5" x2="89.9" y2="592.0" stroke="#b4cef6" stroke-width="1.1"/><line x1="87.30000000000001" y1="535.5" x2="92.5" y2="535.5" stroke="#b4cef6" stroke-width="1.1"/><line x1="87.30000000000001" y1="592.0" x2="92.5" y2="592.0" stroke="#b4cef6" stroke-width="1.1"/><rect x="84.0" y="567.2" width="11.8" height="12.799999999999955" fill="#fff" stroke="#b4cef6" stroke-width="1.1"/><line x1="84.0" y1="573.6" x2="95.80000000000001" y2="573.6" stroke="#b4cef6" stroke-width="1.1"/>
<line x1="89.9" y1="630.2" x2="89.9" y2="632" stroke="#222" stroke-width="0.7"/>
<text x="91.4" y="636.6" font-size="4.2" font-weight="bold" text-anchor="end" fill="#222" transform="rotate(-45 91.4 636.6)">UC-I</text>
<line x1="107.4" y1="532.4" x2="107.4" y2="612.1" stroke="#0000e6" stroke-width="1.1"/><line x1="104.80000000000001" y1="532.4" x2="110.0" y2="532.4" stroke="#0000e6" stroke-width="1.1"/><line x1="104.80000000000001" y1="612.1" x2="110.0" y2="612.1" stroke="#0000e6" stroke-width="1.1"/><rect x="101.5" y="551.3" width="11.8" height="45.80000000000007" fill="#0000e6" stroke="#0000e6" stroke-width="1"/>
<line x1="107.4" y1="630.2" x2="107.4" y2="632" stroke="#222" stroke-width="0.7"/>
<text x="108.9" y="636.6" font-size="4.2" font-weight="bold" text-anchor="end" fill="#222" transform="rotate(-45 108.9 636.6)">SC-L</text>
<line x1="124.4" y1="539.7" x2="124.4" y2="601.1" stroke="#2020c0" stroke-width="1.1"/><line x1="121.80000000000001" y1="539.7" x2="127.0" y2="539.7" stroke="#2020c0" stroke-width="1.1"/><line x1="121.80000000000001" y1="601.1" x2="127.0" y2="601.1" stroke="#2020c0" stroke-width="1.1"/><rect x="118.5" y="558.4" width="11.8" height="25.300000000000068" fill="#fff" stroke="#2020c0" stroke-width="1.1"/><line x1="118.5" y1="564.8" x2="130.3" y2="564.8" stroke="#2020c0" stroke-width="1.1"/>
<line x1="124.4" y1="630.2" x2="124.4" y2="632" stroke="#222" stroke-width="0.7"/>
<text x="125.9" y="636.6" font-size="4.2" font-weight="bold" text-anchor="end" fill="#222" transform="rotate(-45 125.9 636.6)">UC-L</text>
<line x1="142.2" y1="538.5" x2="142.2" y2="603.9" stroke="#98f098" stroke-width="1.1"/><line x1="139.6" y1="538.5" x2="144.79999999999998" y2="538.5" stroke="#98f098" stroke-width="1.1"/><line x1="139.6" y1="603.9" x2="144.79999999999998" y2="603.9" stroke="#98f098" stroke-width="1.1"/><rect x="136.29999999999998" y="566.9" width="11.8" height="13.100000000000023" fill="#98f098" stroke="#98f098" stroke-width="1"/>
<line x1="142.2" y1="630.2" x2="142.2" y2="632" stroke="#222" stroke-width="0.7"/>
<text x="143.7" y="636.6" font-size="4.2" font-weight="bold" text-anchor="end" fill="#222" transform="rotate(-45 143.7 636.6)">SP-I</text>
<line x1="159.1" y1="552.6" x2="159.1" y2="586.5" stroke="#bcf0bc" stroke-width="1.1"/><line x1="156.5" y1="552.6" x2="161.7" y2="552.6" stroke="#bcf0bc" stroke-width="1.1"/><line x1="156.5" y1="586.5" x2="161.7" y2="586.5" stroke="#bcf0bc" stroke-width="1.1"/><rect x="153.2" y="569.6" width="11.8" height="9.5" fill="#fff" stroke="#bcf0bc" stroke-width="1.1"/><line x1="153.2" y1="574.0" x2="165.0" y2="574.0" stroke="#bcf0bc" stroke-width="1.1"/>
<line x1="159.1" y1="630.2" x2="159.1" y2="632" stroke="#222" stroke-width="0.7"/>
<text x="160.6" y="636.6" font-size="4.2" font-weight="bold" text-anchor="end" fill="#222" transform="rotate(-45 160.6 636.6)">UP-I</text>
<line x1="177.0" y1="532.8" x2="177.0" y2="612.1" stroke="#10c884" stroke-width="1.1"/><line x1="174.4" y1="532.8" x2="179.6" y2="532.8" stroke="#10c884" stroke-width="1.1"/><line x1="174.4" y1="612.1" x2="179.6" y2="612.1" stroke="#10c884" stroke-width="1.1"/><rect x="171.1" y="552.9" width="11.8" height="44.0" fill="#10c884" stroke="#10c884" stroke-width="1"/>
<line x1="177.0" y1="630.2" x2="177.0" y2="632" stroke="#222" stroke-width="0.7"/>
<text x="178.5" y="636.6" font-size="4.2" font-weight="bold" text-anchor="end" fill="#222" transform="rotate(-45 178.5 636.6)">SP-L</text>
<line x1="194.2" y1="540.7" x2="194.2" y2="594.7" stroke="#30b48c" stroke-width="1.1"/><line x1="191.6" y1="540.7" x2="196.79999999999998" y2="540.7" stroke="#30b48c" stroke-width="1.1"/><line x1="191.6" y1="594.7" x2="196.79999999999998" y2="594.7" stroke="#30b48c" stroke-width="1.1"/><rect x="188.29999999999998" y="561.4" width="11.8" height="22.0" fill="#fff" stroke="#30b48c" stroke-width="1.1"/><line x1="188.29999999999998" y1="567.2" x2="200.1" y2="567.2" stroke="#30b48c" stroke-width="1.1"/>
<line x1="194.2" y1="630.2" x2="194.2" y2="632" stroke="#222" stroke-width="0.7"/>
<text x="195.7" y="636.6" font-size="4.2" font-weight="bold" text-anchor="end" fill="#222" transform="rotate(-45 195.7 636.6)">UP-L</text>
<line x1="211.4" y1="532.4" x2="211.4" y2="606.8" stroke="#a000f0" stroke-width="1.1"/><line x1="208.8" y1="532.4" x2="214.0" y2="532.4" stroke="#a000f0" stroke-width="1.1"/><line x1="208.8" y1="606.8" x2="214.0" y2="606.8" stroke="#a000f0" stroke-width="1.1"/><rect x="205.5" y="558.5" width="11.8" height="33.0" fill="#a000f0" stroke="#a000f0" stroke-width="1"/>
<line x1="211.4" y1="630.2" x2="211.4" y2="632" stroke="#222" stroke-width="0.7"/>
<text x="212.9" y="636.6" font-size="4.2" font-weight="bold" text-anchor="end" fill="#222" transform="rotate(-45 212.9 636.6)">SI-L</text>
<line x1="228.7" y1="546.5" x2="228.7" y2="586.3" stroke="#9a28d8" stroke-width="1.1"/><line x1="226.1" y1="546.5" x2="231.29999999999998" y2="546.5" stroke="#9a28d8" stroke-width="1.1"/><line x1="226.1" y1="586.3" x2="231.29999999999998" y2="586.3" stroke="#9a28d8" stroke-width="1.1"/><rect x="222.79999999999998" y="566.0" width="11.8" height="14.299999999999955" fill="#fff" stroke="#9a28d8" stroke-width="1.1"/><line x1="222.79999999999998" y1="572.5" x2="234.6" y2="572.5" stroke="#9a28d8" stroke-width="1.1"/>
<line x1="228.7" y1="630.2" x2="228.7" y2="632" stroke="#222" stroke-width="0.7"/>
<text x="230.2" y="636.6" font-size="4.2" font-weight="bold" text-anchor="end" fill="#222" transform="rotate(-45 230.2 636.6)">UI-L</text>
<text x="132.8" y="649.9" font-size="4.75" font-weight="bold" text-anchor="middle" fill="#222">Pairwise comparison</text>
<path d="M38.4 521.8 L38.4 526.2 M38.4 525.6 L55.7 525.6 M55.7 521.8 L55.7 526.2" stroke="#222" stroke-width="0.85" fill="none"/>
<text x="48.45" y="523.6" font-size="4.3" text-anchor="middle" fill="#333">p=0.0272 *</text>
<path d="M72.9 521.8 L72.9 526.2 M72.9 525.6 L89.9 525.6 M89.9 521.8 L89.9 526.2" stroke="#222" stroke-width="0.85" fill="none"/>
<text x="82.80" y="523.6" font-size="4.3" text-anchor="middle" fill="#333">p &lt; &lt;0.0001***</text>
<path d="M107.4 521.8 L107.4 526.2 M107.4 525.6 L124.4 525.6 M124.4 521.8 L124.4 526.2" stroke="#222" stroke-width="0.85" fill="none"/>
<text x="117.30" y="523.6" font-size="4.3" text-anchor="middle" fill="#333">p &lt; &lt;0.0001***</text>
<path d="M142.2 521.8 L142.2 526.2 M142.2 525.6 L159.1 525.6 M159.1 521.8 L159.1 526.2" stroke="#222" stroke-width="0.85" fill="none"/>
<text x="152.05" y="523.6" font-size="4.3" text-anchor="middle" fill="#333">p &lt; &lt;0.0001***</text>
<path d="M177.0 521.8 L177.0 526.2 M177.0 525.6 L194.2 525.6 M194.2 521.8 L194.2 526.2" stroke="#222" stroke-width="0.85" fill="none"/>
<text x="187.00" y="523.6" font-size="4.3" text-anchor="middle" fill="#333">p &lt; &lt;0.0001***</text>
<path d="M211.4 521.8 L211.4 526.2 M211.4 525.6 L228.7 525.6 M228.7 521.8 L228.7 526.2" stroke="#222" stroke-width="0.85" fill="none"/>
<text x="221.45" y="523.6" font-size="4.3" text-anchor="middle" fill="#333">p &lt; &lt;0.0001***</text>
</svg></body></html>
